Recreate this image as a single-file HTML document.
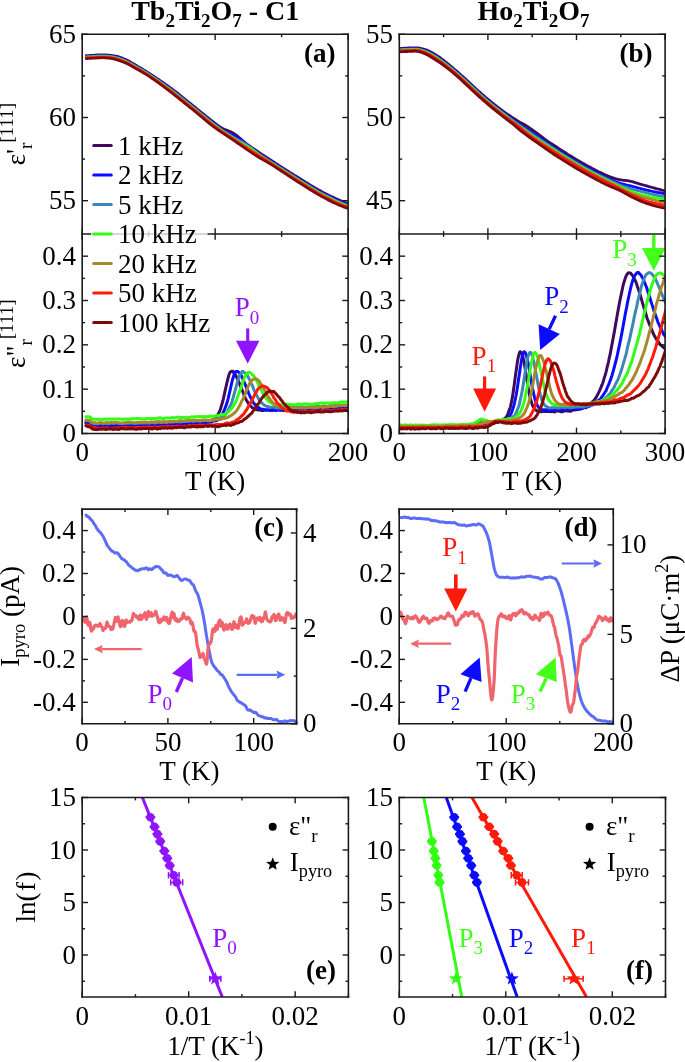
<!DOCTYPE html>
<html><head><meta charset="utf-8"><style>
html,body{margin:0;padding:0;background:#fff;width:685px;height:1062px;overflow:hidden;}
svg{display:block;will-change:transform;}
text{font-family:"Liberation Serif", serif;}
</style></head><body>
<svg width="685" height="1062" viewBox="0 0 685 1062" font-family='"Liberation Serif", serif'>
<rect width="685" height="1062" fill="#fff"/>
<defs>
<clipPath id="cA1"><rect x="82.2" y="34.3" width="265.9" height="199.7"/></clipPath>
<clipPath id="cA2"><rect x="82.2" y="234.0" width="265.9" height="199.5"/></clipPath>
<clipPath id="cB1"><rect x="399.3" y="34.3" width="265.8" height="199.7"/></clipPath>
<clipPath id="cB2"><rect x="399.3" y="234.0" width="265.8" height="199.5"/></clipPath>
<clipPath id="cC"><rect x="82.1" y="509.1" width="214.5" height="214.7"/></clipPath>
<clipPath id="cD"><rect x="399.2" y="509.1" width="214.1" height="214.7"/></clipPath>
<clipPath id="cE"><rect x="82.2" y="797.5" width="266.2" height="199.5"/></clipPath>
<clipPath id="cF"><rect x="399.3" y="797.5" width="266.2" height="199.5"/></clipPath>
</defs>
<polyline points="86.2,55.6 87.2,55.6 88.2,55.5 89.2,55.5 90.2,55.4 91.2,55.3 92.2,55.3 93.2,55.2 94.2,55.1 95.2,55.0 96.2,55.0 97.2,54.9 98.2,54.9 99.2,54.8 100.2,54.8 101.2,54.7 102.2,54.7 103.2,54.7 104.2,54.8 105.2,54.8 106.2,54.9 107.2,55.0 108.2,55.0 109.2,55.1 110.2,55.2 111.2,55.3 112.2,55.5 113.2,55.6 114.2,55.7 115.2,55.9 116.2,56.1 117.2,56.3 118.2,56.6 119.2,56.9 120.2,57.3 121.2,57.6 122.2,58.0 123.2,58.4 124.2,58.9 125.2,59.3 126.2,59.7 127.2,60.2 128.2,60.7 129.2,61.2 130.2,61.8 131.2,62.4 132.2,63.0 133.2,63.5 134.2,64.1 135.2,64.7 136.2,65.3 137.2,65.9 138.2,66.5 139.2,67.1 140.2,67.7 141.2,68.2 142.2,68.8 143.2,69.5 144.2,70.1 145.2,70.7 146.2,71.3 147.2,72.0 148.2,72.6 149.2,73.2 150.2,73.9 151.2,74.5 152.2,75.2 153.2,75.8 154.2,76.5 155.2,77.2 156.2,77.8 157.2,78.5 158.2,79.2 159.2,79.8 160.2,80.5 161.2,81.2 162.2,81.9 163.2,82.6 164.2,83.3 165.2,84.0 166.2,84.7 167.2,85.4 168.2,86.1 169.2,86.8 170.2,87.5 171.2,88.2 172.2,89.0 173.2,89.7 174.2,90.5 175.2,91.2 176.2,92.0 177.2,92.8 178.2,93.6 179.2,94.4 180.2,95.2 181.2,96.1 182.2,96.9 183.2,97.7 184.2,98.5 185.2,99.3 186.2,100.1 187.2,100.9 188.2,101.7 189.2,102.5 190.2,103.3 191.2,104.1 192.2,104.9 193.2,105.7 194.2,106.5 195.2,107.3 196.2,108.1 197.2,109.0 198.2,109.8 199.2,110.6 200.2,111.4 201.2,112.2 202.2,113.0 203.2,113.8 204.2,114.6 205.2,115.4 206.2,116.2 207.2,117.0 208.2,117.8 209.2,118.6 210.2,119.4 211.2,120.2 212.2,121.0 213.2,121.8 214.2,122.6 215.2,123.4 216.2,124.1 217.2,124.9 218.2,125.6 219.2,126.3 220.2,126.9 221.2,127.5 222.2,128.1 223.2,128.6 224.2,129.1 225.2,129.5 226.2,129.9 227.2,130.3 228.2,130.7 229.2,131.1 230.2,131.5 231.2,132.0 232.2,132.5 233.2,133.0 234.2,133.6 235.2,134.3 236.2,135.0 237.2,135.8 238.2,136.6 239.2,137.5 240.2,138.3 241.2,139.2 242.2,140.1 243.2,141.0 244.2,141.8 245.2,142.6 246.2,143.4 247.2,144.2 248.2,144.9 249.2,145.6 250.2,146.4 251.2,147.0 252.2,147.7 253.2,148.4 254.2,149.1 255.2,149.7 256.2,150.4 257.2,151.1 258.2,151.7 259.2,152.4 260.2,153.0 261.2,153.7 262.2,154.4 263.2,155.0 264.2,155.7 265.2,156.3 266.2,157.0 267.2,157.6 268.2,158.3 269.2,159.0 270.2,159.6 271.2,160.3 272.2,160.9 273.2,161.6 274.2,162.2 275.2,162.9 276.2,163.5 277.2,164.2 278.2,164.8 279.2,165.5 280.2,166.1 281.2,166.8 282.2,167.4 283.2,168.0 284.2,168.7 285.2,169.3 286.2,169.9 287.2,170.6 288.2,171.2 289.2,171.8 290.2,172.5 291.2,173.1 292.2,173.7 293.2,174.3 294.2,175.0 295.2,175.6 296.2,176.2 297.2,176.8 298.2,177.4 299.2,178.1 300.2,178.7 301.2,179.3 302.2,179.9 303.2,180.5 304.2,181.2 305.2,181.8 306.2,182.4 307.2,183.0 308.2,183.6 309.2,184.3 310.2,184.9 311.2,185.5 312.2,186.1 313.2,186.7 314.2,187.3 315.2,187.9 316.2,188.5 317.2,189.0 318.2,189.6 319.2,190.2 320.2,190.7 321.2,191.2 322.2,191.8 323.2,192.3 324.2,192.8 325.2,193.3 326.2,193.8 327.2,194.3 328.2,194.8 329.2,195.3 330.2,195.8 331.2,196.3 332.2,196.8 333.2,197.2 334.2,197.7 335.2,198.2 336.2,198.6 337.2,199.1 338.2,199.5 339.2,200.0 340.2,200.4 341.2,200.8 342.2,201.3 343.2,201.7 344.2,202.1 345.2,202.5 346.2,202.9 347.2,203.2 348.2,203.5 349.2,203.8" fill="none" stroke="#3d0a5c" stroke-width="2.6" stroke-linejoin="round" stroke-linecap="round" clip-path="url(#cA1)"/>
<polyline points="86.2,56.3 87.2,56.3 88.2,56.2 89.2,56.2 90.2,56.1 91.2,56.0 92.2,56.0 93.2,55.9 94.2,55.8 95.2,55.8 96.2,55.7 97.2,55.6 98.2,55.6 99.2,55.5 100.2,55.5 101.2,55.5 102.2,55.5 103.2,55.5 104.2,55.5 105.2,55.5 106.2,55.6 107.2,55.7 108.2,55.8 109.2,55.9 110.2,56.0 111.2,56.1 112.2,56.2 113.2,56.3 114.2,56.5 115.2,56.7 116.2,56.9 117.2,57.2 118.2,57.5 119.2,57.8 120.2,58.1 121.2,58.5 122.2,58.9 123.2,59.3 124.2,59.7 125.2,60.1 126.2,60.6 127.2,61.0 128.2,61.5 129.2,62.1 130.2,62.6 131.2,63.2 132.2,63.8 133.2,64.4 134.2,65.0 135.2,65.5 136.2,66.1 137.2,66.7 138.2,67.3 139.2,67.8 140.2,68.4 141.2,69.0 142.2,69.6 143.2,70.2 144.2,70.8 145.2,71.4 146.2,72.1 147.2,72.7 148.2,73.4 149.2,74.0 150.2,74.6 151.2,75.3 152.2,76.0 153.2,76.6 154.2,77.3 155.2,78.0 156.2,78.6 157.2,79.3 158.2,80.0 159.2,80.7 160.2,81.4 161.2,82.1 162.2,82.8 163.2,83.5 164.2,84.2 165.2,84.9 166.2,85.6 167.2,86.3 168.2,87.0 169.2,87.8 170.2,88.5 171.2,89.2 172.2,90.0 173.2,90.7 174.2,91.5 175.2,92.3 176.2,93.0 177.2,93.8 178.2,94.6 179.2,95.4 180.2,96.3 181.2,97.1 182.2,97.9 183.2,98.7 184.2,99.5 185.2,100.3 186.2,101.1 187.2,101.9 188.2,102.7 189.2,103.5 190.2,104.3 191.2,105.1 192.2,105.9 193.2,106.7 194.2,107.6 195.2,108.4 196.2,109.2 197.2,110.0 198.2,110.8 199.2,111.6 200.2,112.4 201.2,113.2 202.2,114.0 203.2,114.8 204.2,115.7 205.2,116.5 206.2,117.3 207.2,118.1 208.2,118.9 209.2,119.7 210.2,120.5 211.2,121.3 212.2,122.1 213.2,122.9 214.2,123.7 215.2,124.5 216.2,125.2 217.2,126.0 218.2,126.7 219.2,127.4 220.2,128.2 221.2,128.8 222.2,129.5 223.2,130.2 224.2,130.8 225.2,131.4 226.2,132.0 227.2,132.5 228.2,133.1 229.2,133.6 230.2,134.1 231.2,134.6 232.2,135.0 233.2,135.5 234.2,135.9 235.2,136.4 236.2,136.9 237.2,137.4 238.2,137.9 239.2,138.5 240.2,139.1 241.2,139.8 242.2,140.5 243.2,141.3 244.2,142.1 245.2,143.0 246.2,143.8 247.2,144.6 248.2,145.5 249.2,146.3 250.2,147.1 251.2,147.9 252.2,148.7 253.2,149.4 254.2,150.2 255.2,150.9 256.2,151.6 257.2,152.3 258.2,152.9 259.2,153.6 260.2,154.3 261.2,154.9 262.2,155.6 263.2,156.2 264.2,156.9 265.2,157.5 266.2,158.2 267.2,158.8 268.2,159.4 269.2,160.1 270.2,160.7 271.2,161.4 272.2,162.0 273.2,162.7 274.2,163.3 275.2,163.9 276.2,164.6 277.2,165.2 278.2,165.9 279.2,166.5 280.2,167.1 281.2,167.8 282.2,168.4 283.2,169.1 284.2,169.7 285.2,170.3 286.2,171.0 287.2,171.6 288.2,172.2 289.2,172.9 290.2,173.5 291.2,174.1 292.2,174.8 293.2,175.4 294.2,176.0 295.2,176.7 296.2,177.3 297.2,177.9 298.2,178.5 299.2,179.2 300.2,179.8 301.2,180.4 302.2,181.0 303.2,181.6 304.2,182.3 305.2,182.9 306.2,183.5 307.2,184.1 308.2,184.8 309.2,185.4 310.2,186.0 311.2,186.6 312.2,187.2 313.2,187.8 314.2,188.4 315.2,189.0 316.2,189.6 317.2,190.2 318.2,190.7 319.2,191.3 320.2,191.9 321.2,192.4 322.2,192.9 323.2,193.5 324.2,194.0 325.2,194.5 326.2,195.0 327.2,195.5 328.2,196.0 329.2,196.5 330.2,197.0 331.2,197.5 332.2,198.0 333.2,198.4 334.2,198.9 335.2,199.4 336.2,199.8 337.2,200.3 338.2,200.7 339.2,201.2 340.2,201.6 341.2,202.0 342.2,202.5 343.2,202.9 344.2,203.3 345.2,203.7 346.2,204.0 347.2,204.4 348.2,204.7 349.2,204.9" fill="none" stroke="#0b0bff" stroke-width="2.6" stroke-linejoin="round" stroke-linecap="round" clip-path="url(#cA1)"/>
<polyline points="86.2,56.7 87.2,56.7 88.2,56.6 89.2,56.6 90.2,56.5 91.2,56.5 92.2,56.4 93.2,56.3 94.2,56.3 95.2,56.2 96.2,56.1 97.2,56.1 98.2,56.0 99.2,56.0 100.2,55.9 101.2,55.9 102.2,55.9 103.2,55.9 104.2,55.9 105.2,56.0 106.2,56.0 107.2,56.1 108.2,56.2 109.2,56.3 110.2,56.4 111.2,56.5 112.2,56.7 113.2,56.8 114.2,57.0 115.2,57.2 116.2,57.4 117.2,57.7 118.2,58.0 119.2,58.3 120.2,58.7 121.2,59.0 122.2,59.4 123.2,59.8 124.2,60.2 125.2,60.6 126.2,61.1 127.2,61.6 128.2,62.0 129.2,62.6 130.2,63.1 131.2,63.7 132.2,64.3 133.2,64.9 134.2,65.5 135.2,66.0 136.2,66.6 137.2,67.2 138.2,67.8 139.2,68.3 140.2,68.9 141.2,69.5 142.2,70.1 143.2,70.7 144.2,71.3 145.2,71.9 146.2,72.5 147.2,73.2 148.2,73.8 149.2,74.5 150.2,75.1 151.2,75.8 152.2,76.4 153.2,77.1 154.2,77.8 155.2,78.4 156.2,79.1 157.2,79.8 158.2,80.5 159.2,81.2 160.2,81.9 161.2,82.6 162.2,83.3 163.2,84.0 164.2,84.7 165.2,85.4 166.2,86.2 167.2,86.9 168.2,87.6 169.2,88.3 170.2,89.1 171.2,89.8 172.2,90.6 173.2,91.3 174.2,92.1 175.2,92.9 176.2,93.7 177.2,94.5 178.2,95.3 179.2,96.1 180.2,96.9 181.2,97.7 182.2,98.5 183.2,99.3 184.2,100.1 185.2,100.9 186.2,101.7 187.2,102.5 188.2,103.3 189.2,104.1 190.2,104.9 191.2,105.7 192.2,106.6 193.2,107.4 194.2,108.2 195.2,109.0 196.2,109.8 197.2,110.6 198.2,111.4 199.2,112.2 200.2,113.1 201.2,113.9 202.2,114.7 203.2,115.5 204.2,116.3 205.2,117.1 206.2,117.9 207.2,118.8 208.2,119.6 209.2,120.4 210.2,121.2 211.2,122.0 212.2,122.8 213.2,123.6 214.2,124.4 215.2,125.1 216.2,125.9 217.2,126.6 218.2,127.3 219.2,128.1 220.2,128.8 221.2,129.5 222.2,130.2 223.2,130.8 224.2,131.5 225.2,132.1 226.2,132.8 227.2,133.4 228.2,134.0 229.2,134.6 230.2,135.3 231.2,135.9 232.2,136.5 233.2,137.1 234.2,137.6 235.2,138.2 236.2,138.7 237.2,139.3 238.2,139.8 239.2,140.3 240.2,140.8 241.2,141.3 242.2,141.9 243.2,142.4 244.2,143.0 245.2,143.6 246.2,144.3 247.2,145.0 248.2,145.7 249.2,146.5 250.2,147.2 251.2,148.0 252.2,148.8 253.2,149.6 254.2,150.4 255.2,151.2 256.2,152.0 257.2,152.7 258.2,153.5 259.2,154.2 260.2,154.9 261.2,155.6 262.2,156.3 263.2,156.9 264.2,157.6 265.2,158.2 266.2,158.9 267.2,159.5 268.2,160.1 269.2,160.8 270.2,161.4 271.2,162.0 272.2,162.7 273.2,163.3 274.2,163.9 275.2,164.6 276.2,165.2 277.2,165.9 278.2,166.5 279.2,167.1 280.2,167.8 281.2,168.4 282.2,169.0 283.2,169.7 284.2,170.3 285.2,170.9 286.2,171.6 287.2,172.2 288.2,172.9 289.2,173.5 290.2,174.1 291.2,174.8 292.2,175.4 293.2,176.1 294.2,176.7 295.2,177.3 296.2,177.9 297.2,178.6 298.2,179.2 299.2,179.8 300.2,180.5 301.2,181.1 302.2,181.7 303.2,182.3 304.2,182.9 305.2,183.6 306.2,184.2 307.2,184.8 308.2,185.4 309.2,186.1 310.2,186.7 311.2,187.3 312.2,187.9 313.2,188.5 314.2,189.1 315.2,189.7 316.2,190.3 317.2,190.9 318.2,191.4 319.2,192.0 320.2,192.6 321.2,193.1 322.2,193.6 323.2,194.2 324.2,194.7 325.2,195.2 326.2,195.7 327.2,196.2 328.2,196.7 329.2,197.2 330.2,197.7 331.2,198.2 332.2,198.7 333.2,199.2 334.2,199.7 335.2,200.1 336.2,200.6 337.2,201.0 338.2,201.5 339.2,201.9 340.2,202.3 341.2,202.8 342.2,203.2 343.2,203.6 344.2,204.0 345.2,204.4 346.2,204.7 347.2,205.1 348.2,205.3 349.2,205.6" fill="none" stroke="#3b87b6" stroke-width="2.6" stroke-linejoin="round" stroke-linecap="round" clip-path="url(#cA1)"/>
<polyline points="86.2,57.2 87.2,57.1 88.2,57.1 89.2,57.0 90.2,57.0 91.2,56.9 92.2,56.9 93.2,56.8 94.2,56.7 95.2,56.7 96.2,56.6 97.2,56.5 98.2,56.5 99.2,56.4 100.2,56.4 101.2,56.4 102.2,56.4 103.2,56.4 104.2,56.4 105.2,56.4 106.2,56.5 107.2,56.6 108.2,56.7 109.2,56.8 110.2,56.9 111.2,57.0 112.2,57.1 113.2,57.3 114.2,57.5 115.2,57.7 116.2,58.0 117.2,58.2 118.2,58.5 119.2,58.9 120.2,59.2 121.2,59.6 122.2,60.0 123.2,60.4 124.2,60.8 125.2,61.2 126.2,61.6 127.2,62.1 128.2,62.6 129.2,63.1 130.2,63.7 131.2,64.2 132.2,64.8 133.2,65.4 134.2,66.0 135.2,66.6 136.2,67.1 137.2,67.7 138.2,68.3 139.2,68.8 140.2,69.4 141.2,70.0 142.2,70.6 143.2,71.2 144.2,71.8 145.2,72.4 146.2,73.0 147.2,73.7 148.2,74.3 149.2,75.0 150.2,75.6 151.2,76.3 152.2,76.9 153.2,77.6 154.2,78.3 155.2,79.0 156.2,79.7 157.2,80.3 158.2,81.0 159.2,81.7 160.2,82.5 161.2,83.2 162.2,83.9 163.2,84.6 164.2,85.3 165.2,86.0 166.2,86.8 167.2,87.5 168.2,88.2 169.2,89.0 170.2,89.7 171.2,90.5 172.2,91.2 173.2,92.0 174.2,92.8 175.2,93.5 176.2,94.3 177.2,95.1 178.2,95.9 179.2,96.7 180.2,97.5 181.2,98.4 182.2,99.2 183.2,100.0 184.2,100.8 185.2,101.6 186.2,102.4 187.2,103.2 188.2,104.0 189.2,104.8 190.2,105.6 191.2,106.4 192.2,107.2 193.2,108.0 194.2,108.8 195.2,109.6 196.2,110.5 197.2,111.3 198.2,112.1 199.2,112.9 200.2,113.7 201.2,114.6 202.2,115.4 203.2,116.2 204.2,117.0 205.2,117.8 206.2,118.7 207.2,119.5 208.2,120.3 209.2,121.1 210.2,121.9 211.2,122.7 212.2,123.5 213.2,124.3 214.2,125.1 215.2,125.8 216.2,126.6 217.2,127.3 218.2,128.0 219.2,128.7 220.2,129.4 221.2,130.1 222.2,130.8 223.2,131.5 224.2,132.1 225.2,132.8 226.2,133.4 227.2,134.1 228.2,134.7 229.2,135.3 230.2,136.0 231.2,136.6 232.2,137.3 233.2,137.9 234.2,138.6 235.2,139.2 236.2,139.9 237.2,140.5 238.2,141.1 239.2,141.7 240.2,142.4 241.2,143.0 242.2,143.6 243.2,144.1 244.2,144.7 245.2,145.3 246.2,145.9 247.2,146.4 248.2,147.0 249.2,147.6 250.2,148.2 251.2,148.8 252.2,149.5 253.2,150.2 254.2,150.9 255.2,151.6 256.2,152.4 257.2,153.1 258.2,153.9 259.2,154.6 260.2,155.4 261.2,156.1 262.2,156.8 263.2,157.5 264.2,158.2 265.2,158.9 266.2,159.5 267.2,160.2 268.2,160.8 269.2,161.5 270.2,162.1 271.2,162.7 272.2,163.4 273.2,164.0 274.2,164.6 275.2,165.3 276.2,165.9 277.2,166.5 278.2,167.2 279.2,167.8 280.2,168.4 281.2,169.1 282.2,169.7 283.2,170.3 284.2,171.0 285.2,171.6 286.2,172.2 287.2,172.9 288.2,173.5 289.2,174.2 290.2,174.8 291.2,175.5 292.2,176.1 293.2,176.7 294.2,177.4 295.2,178.0 296.2,178.7 297.2,179.3 298.2,179.9 299.2,180.5 300.2,181.2 301.2,181.8 302.2,182.4 303.2,183.0 304.2,183.7 305.2,184.3 306.2,184.9 307.2,185.6 308.2,186.2 309.2,186.8 310.2,187.4 311.2,188.0 312.2,188.7 313.2,189.3 314.2,189.9 315.2,190.5 316.2,191.0 317.2,191.6 318.2,192.2 319.2,192.7 320.2,193.3 321.2,193.8 322.2,194.4 323.2,194.9 324.2,195.4 325.2,196.0 326.2,196.5 327.2,197.0 328.2,197.5 329.2,198.0 330.2,198.5 331.2,199.0 332.2,199.5 333.2,200.0 334.2,200.4 335.2,200.9 336.2,201.4 337.2,201.8 338.2,202.3 339.2,202.7 340.2,203.1 341.2,203.5 342.2,204.0 343.2,204.3 344.2,204.7 345.2,205.1 346.2,205.5 347.2,205.8 348.2,206.1 349.2,206.3" fill="none" stroke="#33ff14" stroke-width="2.6" stroke-linejoin="round" stroke-linecap="round" clip-path="url(#cA1)"/>
<polyline points="86.2,57.5 87.2,57.5 88.2,57.5 89.2,57.4 90.2,57.3 91.2,57.3 92.2,57.2 93.2,57.2 94.2,57.1 95.2,57.0 96.2,57.0 97.2,56.9 98.2,56.9 99.2,56.8 100.2,56.8 101.2,56.7 102.2,56.7 103.2,56.7 104.2,56.8 105.2,56.8 106.2,56.9 107.2,56.9 108.2,57.0 109.2,57.1 110.2,57.3 111.2,57.4 112.2,57.5 113.2,57.7 114.2,57.9 115.2,58.1 116.2,58.4 117.2,58.7 118.2,59.0 119.2,59.3 120.2,59.7 121.2,60.0 122.2,60.4 123.2,60.8 124.2,61.2 125.2,61.6 126.2,62.1 127.2,62.5 128.2,63.0 129.2,63.5 130.2,64.1 131.2,64.7 132.2,65.3 133.2,65.8 134.2,66.4 135.2,67.0 136.2,67.6 137.2,68.1 138.2,68.7 139.2,69.2 140.2,69.8 141.2,70.4 142.2,71.0 143.2,71.6 144.2,72.2 145.2,72.8 146.2,73.4 147.2,74.1 148.2,74.7 149.2,75.4 150.2,76.0 151.2,76.7 152.2,77.3 153.2,78.0 154.2,78.7 155.2,79.4 156.2,80.1 157.2,80.8 158.2,81.5 159.2,82.2 160.2,82.9 161.2,83.6 162.2,84.3 163.2,85.1 164.2,85.8 165.2,86.5 166.2,87.3 167.2,88.0 168.2,88.7 169.2,89.5 170.2,90.2 171.2,91.0 172.2,91.7 173.2,92.5 174.2,93.3 175.2,94.1 176.2,94.9 177.2,95.7 178.2,96.5 179.2,97.3 180.2,98.1 181.2,98.9 182.2,99.7 183.2,100.5 184.2,101.3 185.2,102.1 186.2,102.9 187.2,103.7 188.2,104.5 189.2,105.3 190.2,106.1 191.2,106.9 192.2,107.7 193.2,108.5 194.2,109.4 195.2,110.2 196.2,111.0 197.2,111.8 198.2,112.6 199.2,113.5 200.2,114.3 201.2,115.1 202.2,115.9 203.2,116.8 204.2,117.6 205.2,118.4 206.2,119.2 207.2,120.0 208.2,120.9 209.2,121.7 210.2,122.5 211.2,123.3 212.2,124.1 213.2,124.9 214.2,125.6 215.2,126.4 216.2,127.1 217.2,127.8 218.2,128.6 219.2,129.3 220.2,129.9 221.2,130.6 222.2,131.3 223.2,132.0 224.2,132.6 225.2,133.3 226.2,133.9 227.2,134.6 228.2,135.2 229.2,135.9 230.2,136.5 231.2,137.2 232.2,137.8 233.2,138.5 234.2,139.2 235.2,139.8 236.2,140.5 237.2,141.2 238.2,141.8 239.2,142.5 240.2,143.2 241.2,143.8 242.2,144.5 243.2,145.1 244.2,145.8 245.2,146.4 246.2,147.1 247.2,147.7 248.2,148.3 249.2,148.9 250.2,149.5 251.2,150.1 252.2,150.7 253.2,151.3 254.2,151.9 255.2,152.5 256.2,153.1 257.2,153.8 258.2,154.4 259.2,155.1 260.2,155.7 261.2,156.4 262.2,157.1 263.2,157.8 264.2,158.5 265.2,159.2 266.2,159.9 267.2,160.6 268.2,161.3 269.2,161.9 270.2,162.6 271.2,163.2 272.2,163.9 273.2,164.5 274.2,165.2 275.2,165.8 276.2,166.4 277.2,167.1 278.2,167.7 279.2,168.3 280.2,168.9 281.2,169.6 282.2,170.2 283.2,170.9 284.2,171.5 285.2,172.1 286.2,172.8 287.2,173.4 288.2,174.1 289.2,174.7 290.2,175.4 291.2,176.0 292.2,176.7 293.2,177.3 294.2,177.9 295.2,178.6 296.2,179.2 297.2,179.9 298.2,180.5 299.2,181.1 300.2,181.7 301.2,182.4 302.2,183.0 303.2,183.6 304.2,184.3 305.2,184.9 306.2,185.5 307.2,186.1 308.2,186.8 309.2,187.4 310.2,188.0 311.2,188.6 312.2,189.2 313.2,189.8 314.2,190.5 315.2,191.0 316.2,191.6 317.2,192.2 318.2,192.8 319.2,193.3 320.2,193.9 321.2,194.4 322.2,195.0 323.2,195.5 324.2,196.1 325.2,196.6 326.2,197.1 327.2,197.6 328.2,198.1 329.2,198.6 330.2,199.1 331.2,199.6 332.2,200.1 333.2,200.6 334.2,201.1 335.2,201.5 336.2,202.0 337.2,202.4 338.2,202.9 339.2,203.3 340.2,203.7 341.2,204.2 342.2,204.6 343.2,205.0 344.2,205.3 345.2,205.7 346.2,206.1 347.2,206.4 348.2,206.7 349.2,206.9" fill="none" stroke="#a8892a" stroke-width="2.6" stroke-linejoin="round" stroke-linecap="round" clip-path="url(#cA1)"/>
<polyline points="86.2,57.9 87.2,57.9 88.2,57.8 89.2,57.8 90.2,57.7 91.2,57.7 92.2,57.6 93.2,57.5 94.2,57.5 95.2,57.4 96.2,57.3 97.2,57.3 98.2,57.2 99.2,57.2 100.2,57.1 101.2,57.1 102.2,57.1 103.2,57.1 104.2,57.1 105.2,57.2 106.2,57.2 107.2,57.3 108.2,57.4 109.2,57.5 110.2,57.6 111.2,57.8 112.2,57.9 113.2,58.1 114.2,58.3 115.2,58.5 116.2,58.8 117.2,59.1 118.2,59.4 119.2,59.8 120.2,60.1 121.2,60.5 122.2,60.9 123.2,61.2 124.2,61.7 125.2,62.1 126.2,62.5 127.2,63.0 128.2,63.5 129.2,64.0 130.2,64.5 131.2,65.1 132.2,65.7 133.2,66.3 134.2,66.8 135.2,67.4 136.2,68.0 137.2,68.5 138.2,69.1 139.2,69.7 140.2,70.2 141.2,70.8 142.2,71.4 143.2,72.0 144.2,72.6 145.2,73.2 146.2,73.8 147.2,74.5 148.2,75.1 149.2,75.8 150.2,76.4 151.2,77.1 152.2,77.7 153.2,78.4 154.2,79.1 155.2,79.8 156.2,80.5 157.2,81.2 158.2,81.9 159.2,82.6 160.2,83.3 161.2,84.1 162.2,84.8 163.2,85.5 164.2,86.3 165.2,87.0 166.2,87.7 167.2,88.5 168.2,89.2 169.2,90.0 170.2,90.7 171.2,91.5 172.2,92.3 173.2,93.0 174.2,93.8 175.2,94.6 176.2,95.4 177.2,96.2 178.2,97.0 179.2,97.8 180.2,98.6 181.2,99.4 182.2,100.2 183.2,101.0 184.2,101.8 185.2,102.6 186.2,103.4 187.2,104.2 188.2,105.0 189.2,105.9 190.2,106.7 191.2,107.5 192.2,108.3 193.2,109.1 194.2,109.9 195.2,110.7 196.2,111.5 197.2,112.4 198.2,113.2 199.2,114.0 200.2,114.8 201.2,115.7 202.2,116.5 203.2,117.3 204.2,118.1 205.2,119.0 206.2,119.8 207.2,120.6 208.2,121.4 209.2,122.2 210.2,123.1 211.2,123.9 212.2,124.6 213.2,125.4 214.2,126.2 215.2,126.9 216.2,127.7 217.2,128.4 218.2,129.1 219.2,129.8 220.2,130.5 221.2,131.1 222.2,131.8 223.2,132.5 224.2,133.1 225.2,133.8 226.2,134.4 227.2,135.1 228.2,135.7 229.2,136.4 230.2,137.1 231.2,137.7 232.2,138.4 233.2,139.0 234.2,139.7 235.2,140.4 236.2,141.1 237.2,141.7 238.2,142.4 239.2,143.1 240.2,143.8 241.2,144.4 242.2,145.1 243.2,145.8 244.2,146.5 245.2,147.2 246.2,147.8 247.2,148.5 248.2,149.2 249.2,149.8 250.2,150.5 251.2,151.1 252.2,151.8 253.2,152.4 254.2,153.0 255.2,153.7 256.2,154.3 257.2,154.9 258.2,155.5 259.2,156.0 260.2,156.6 261.2,157.2 262.2,157.8 263.2,158.4 264.2,159.0 265.2,159.7 266.2,160.3 267.2,160.9 268.2,161.6 269.2,162.3 270.2,162.9 271.2,163.6 272.2,164.3 273.2,164.9 274.2,165.6 275.2,166.2 276.2,166.9 277.2,167.5 278.2,168.2 279.2,168.8 280.2,169.5 281.2,170.1 282.2,170.7 283.2,171.4 284.2,172.0 285.2,172.7 286.2,173.3 287.2,174.0 288.2,174.6 289.2,175.3 290.2,175.9 291.2,176.6 292.2,177.2 293.2,177.9 294.2,178.5 295.2,179.1 296.2,179.8 297.2,180.4 298.2,181.1 299.2,181.7 300.2,182.3 301.2,182.9 302.2,183.6 303.2,184.2 304.2,184.8 305.2,185.5 306.2,186.1 307.2,186.7 308.2,187.4 309.2,188.0 310.2,188.6 311.2,189.2 312.2,189.8 313.2,190.4 314.2,191.0 315.2,191.6 316.2,192.2 317.2,192.8 318.2,193.4 319.2,193.9 320.2,194.5 321.2,195.0 322.2,195.6 323.2,196.1 324.2,196.7 325.2,197.2 326.2,197.7 327.2,198.2 328.2,198.7 329.2,199.2 330.2,199.8 331.2,200.2 332.2,200.7 333.2,201.2 334.2,201.7 335.2,202.2 336.2,202.6 337.2,203.1 338.2,203.5 339.2,203.9 340.2,204.4 341.2,204.8 342.2,205.2 343.2,205.6 344.2,206.0 345.2,206.3 346.2,206.7 347.2,207.0 348.2,207.3 349.2,207.5" fill="none" stroke="#ff1a0a" stroke-width="2.6" stroke-linejoin="round" stroke-linecap="round" clip-path="url(#cA1)"/>
<polyline points="86.2,58.6 87.2,58.6 88.2,58.5 89.2,58.5 90.2,58.4 91.2,58.4 92.2,58.3 93.2,58.3 94.2,58.2 95.2,58.2 96.2,58.1 97.2,58.0 98.2,58.0 99.2,57.9 100.2,57.9 101.2,57.9 102.2,57.8 103.2,57.8 104.2,57.9 105.2,57.9 106.2,58.0 107.2,58.1 108.2,58.2 109.2,58.3 110.2,58.4 111.2,58.5 112.2,58.7 113.2,58.9 114.2,59.1 115.2,59.4 116.2,59.7 117.2,60.0 118.2,60.3 119.2,60.7 120.2,61.0 121.2,61.4 122.2,61.7 123.2,62.1 124.2,62.5 125.2,63.0 126.2,63.4 127.2,63.8 128.2,64.3 129.2,64.8 130.2,65.4 131.2,66.0 132.2,66.5 133.2,67.1 134.2,67.7 135.2,68.3 136.2,68.8 137.2,69.4 138.2,69.9 139.2,70.5 140.2,71.0 141.2,71.6 142.2,72.2 143.2,72.8 144.2,73.4 145.2,74.0 146.2,74.6 147.2,75.2 148.2,75.9 149.2,76.5 150.2,77.2 151.2,77.9 152.2,78.6 153.2,79.2 154.2,79.9 155.2,80.6 156.2,81.3 157.2,82.1 158.2,82.8 159.2,83.5 160.2,84.2 161.2,85.0 162.2,85.7 163.2,86.5 164.2,87.2 165.2,88.0 166.2,88.7 167.2,89.5 168.2,90.2 169.2,91.0 170.2,91.8 171.2,92.5 172.2,93.3 173.2,94.1 174.2,94.9 175.2,95.7 176.2,96.5 177.2,97.3 178.2,98.1 179.2,98.9 180.2,99.7 181.2,100.5 182.2,101.3 183.2,102.1 184.2,102.9 185.2,103.7 186.2,104.5 187.2,105.3 188.2,106.1 189.2,106.9 190.2,107.7 191.2,108.5 192.2,109.3 193.2,110.1 194.2,110.9 195.2,111.8 196.2,112.6 197.2,113.4 198.2,114.3 199.2,115.1 200.2,115.9 201.2,116.8 202.2,117.6 203.2,118.4 204.2,119.3 205.2,120.1 206.2,120.9 207.2,121.7 208.2,122.6 209.2,123.4 210.2,124.2 211.2,125.0 212.2,125.8 213.2,126.6 214.2,127.3 215.2,128.0 216.2,128.8 217.2,129.5 218.2,130.2 219.2,130.8 220.2,131.5 221.2,132.2 222.2,132.8 223.2,133.5 224.2,134.2 225.2,134.8 226.2,135.5 227.2,136.1 228.2,136.8 229.2,137.4 230.2,138.1 231.2,138.8 232.2,139.5 233.2,140.1 234.2,140.8 235.2,141.5 236.2,142.2 237.2,142.9 238.2,143.6 239.2,144.3 240.2,145.0 241.2,145.7 242.2,146.3 243.2,147.0 244.2,147.7 245.2,148.4 246.2,149.1 247.2,149.8 248.2,150.5 249.2,151.2 250.2,151.8 251.2,152.5 252.2,153.2 253.2,153.9 254.2,154.5 255.2,155.2 256.2,155.8 257.2,156.4 258.2,157.1 259.2,157.7 260.2,158.3 261.2,158.9 262.2,159.4 263.2,160.0 264.2,160.6 265.2,161.1 266.2,161.7 267.2,162.2 268.2,162.8 269.2,163.4 270.2,164.0 271.2,164.6 272.2,165.2 273.2,165.8 274.2,166.5 275.2,167.1 276.2,167.8 277.2,168.4 278.2,169.1 279.2,169.7 280.2,170.4 281.2,171.1 282.2,171.7 283.2,172.4 284.2,173.0 285.2,173.7 286.2,174.3 287.2,175.0 288.2,175.7 289.2,176.3 290.2,177.0 291.2,177.6 292.2,178.3 293.2,179.0 294.2,179.6 295.2,180.3 296.2,180.9 297.2,181.6 298.2,182.2 299.2,182.8 300.2,183.5 301.2,184.1 302.2,184.7 303.2,185.4 304.2,186.0 305.2,186.6 306.2,187.3 307.2,187.9 308.2,188.5 309.2,189.2 310.2,189.8 311.2,190.4 312.2,191.0 313.2,191.6 314.2,192.2 315.2,192.8 316.2,193.4 317.2,194.0 318.2,194.6 319.2,195.1 320.2,195.7 321.2,196.3 322.2,196.8 323.2,197.3 324.2,197.9 325.2,198.4 326.2,198.9 327.2,199.5 328.2,200.0 329.2,200.5 330.2,201.0 331.2,201.5 332.2,202.0 333.2,202.5 334.2,203.0 335.2,203.4 336.2,203.9 337.2,204.3 338.2,204.8 339.2,205.2 340.2,205.6 341.2,206.0 342.2,206.4 343.2,206.8 344.2,207.2 345.2,207.5 346.2,207.9 347.2,208.2 348.2,208.4 349.2,208.6" fill="none" stroke="#7c0a0a" stroke-width="2.6" stroke-linejoin="round" stroke-linecap="round" clip-path="url(#cA1)"/>
<polyline points="86.0,423.1 86.6,422.7 87.2,422.6 87.8,422.7 88.4,422.7 89.0,422.7 89.6,422.8 90.2,423.3 90.8,424.3 91.4,425.3 92.0,425.6 92.6,425.6 93.2,425.5 93.8,425.4 94.4,425.4 95.0,425.5 95.6,425.7 96.2,425.8 96.8,425.8 97.4,425.8 98.0,425.9 98.6,426.0 99.2,425.9 99.8,425.7 100.4,425.7 101.0,425.9 101.6,426.0 102.2,425.8 102.8,425.7 103.4,425.7 104.0,425.6 104.6,425.6 105.2,425.8 105.8,425.9 106.4,425.8 107.0,425.5 107.6,425.3 108.2,425.4 108.8,425.3 109.4,425.3 110.0,425.5 110.6,425.6 111.2,425.5 111.8,425.4 112.4,425.5 113.0,425.7 113.6,425.9 114.2,425.9 114.8,425.8 115.4,425.8 116.0,425.6 116.6,425.5 117.2,425.6 117.8,425.6 118.4,425.5 119.0,425.3 119.6,425.2 120.2,425.1 120.8,425.4 121.4,425.4 122.0,425.2 122.6,425.2 123.2,425.3 123.8,425.2 124.4,425.1 125.0,425.2 125.6,425.5 126.2,425.4 126.8,425.1 127.4,425.1 128.0,425.3 128.6,425.4 129.2,425.5 129.8,425.3 130.4,425.2 131.0,425.3 131.6,425.5 132.2,425.4 132.8,425.1 133.4,425.2 134.0,425.5 134.6,425.7 135.2,425.7 135.8,425.6 136.4,425.4 137.0,425.1 137.6,425.0 138.2,425.1 138.8,425.2 139.4,425.0 140.0,424.9 140.6,425.1 141.2,425.2 141.8,425.1 142.4,424.8 143.0,424.7 143.6,425.0 144.2,425.4 144.8,425.4 145.4,425.2 146.0,425.1 146.6,425.1 147.2,425.1 147.8,425.1 148.4,425.0 149.0,425.0 149.6,425.1 150.2,425.2 150.8,425.4 151.4,425.7 152.0,425.6 152.6,425.2 153.2,424.7 153.8,424.6 154.4,424.7 155.0,424.7 155.6,424.7 156.2,424.9 156.8,424.9 157.4,424.6 158.0,424.4 158.6,424.5 159.2,424.8 159.8,425.1 160.4,425.2 161.0,425.0 161.6,424.9 162.2,425.0 162.8,425.1 163.4,425.1 164.0,424.8 164.6,424.5 165.2,424.4 165.8,424.5 166.4,424.7 167.0,424.7 167.6,424.5 168.2,424.4 168.8,424.3 169.4,424.2 170.0,424.2 170.6,424.5 171.2,424.7 171.8,424.4 172.4,424.0 173.0,423.8 173.6,423.9 174.2,424.2 174.8,424.3 175.4,424.2 176.0,424.2 176.6,424.1 177.2,423.9 177.8,423.7 178.4,423.7 179.0,423.8 179.6,423.7 180.2,423.6 180.8,423.6 181.4,423.7 182.0,423.8 182.6,423.8 183.2,423.8 183.8,423.9 184.4,424.0 185.0,423.8 185.6,423.5 186.2,423.5 186.8,423.6 187.4,423.7 188.0,423.8 188.6,423.9 189.2,423.9 189.8,423.8 190.4,423.7 191.0,423.5 191.6,423.4 192.2,423.5 192.8,423.6 193.4,423.8 194.0,423.9 194.6,423.8 195.2,423.4 195.8,423.2 196.4,423.2 197.0,423.2 197.6,423.1 198.2,423.1 198.8,423.2 199.4,423.2 200.0,423.1 200.6,423.0 201.2,422.7 201.8,422.5 202.4,422.4 203.0,422.5 203.6,422.7 204.2,422.8 204.8,422.8 205.4,422.9 206.0,422.8 206.6,422.6 207.2,422.3 207.8,422.0 208.4,421.7 209.0,421.7 209.6,421.5 210.2,421.5 210.8,421.5 211.4,421.3 212.0,420.8 212.6,420.4 213.2,420.0 213.8,419.6 214.4,419.2 215.0,418.7 215.6,418.0 216.2,417.3 216.8,416.4 217.4,415.4 218.0,414.2 218.6,413.2 219.2,412.1 219.8,411.0 220.4,409.3 221.0,407.3 221.6,405.3 222.2,403.3 222.8,401.0 223.4,398.6 224.0,395.9 224.6,393.1 225.2,390.4 225.8,387.8 226.4,385.0 227.0,382.3 227.6,380.0 228.2,377.6 228.8,375.4 229.4,373.6 230.0,372.4 230.6,371.7 231.2,371.5 231.8,371.3 232.4,371.2 233.0,371.6 233.6,372.4 234.2,373.3 234.8,373.9 235.4,374.7 236.0,375.8 236.6,377.1 237.2,378.5 237.8,379.7 238.4,381.0 239.0,382.4 239.6,383.8 240.2,385.4 240.8,387.0 241.4,388.5 242.0,389.8 242.6,391.2 243.2,392.7 243.8,394.4 244.4,396.0 245.0,397.3 245.6,398.6 246.2,399.7 246.8,400.7 247.4,401.7 248.0,402.7 248.6,403.5 249.2,404.4 249.8,405.2 250.4,405.8 251.0,406.3 251.6,407.0 252.2,407.6 252.8,407.9 253.4,408.1 254.0,408.5 254.6,408.7 255.2,408.8 255.8,409.2 256.4,409.6 257.0,409.7 257.6,410.0 258.2,410.0 258.8,409.9 259.4,409.8 260.0,409.8 260.6,410.1 261.2,410.4 261.8,410.4 262.4,410.5 263.0,410.6 263.6,410.5 264.2,410.2 264.8,409.9 265.4,410.0 266.0,410.1 266.6,410.0 267.2,410.0 267.8,410.1 268.4,410.0 269.0,409.9 269.6,410.1 270.2,410.3 270.8,410.4 271.4,410.6 272.0,410.6 272.6,410.3 273.2,409.9 273.8,409.9 274.4,410.2 275.0,410.4 275.6,410.4 276.2,410.3 276.8,410.2 277.4,410.1 278.0,410.0 278.6,409.9 279.2,409.7 279.8,409.6 280.4,409.7 281.0,409.7 281.6,409.9 282.2,410.1 282.8,410.5 283.4,410.7 284.0,410.5 284.6,410.2 285.2,410.2 285.8,410.1 286.4,410.0 287.0,410.0 287.6,409.6 288.2,409.4 288.8,409.7 289.4,410.0 290.0,410.1 290.6,409.9 291.2,409.8 291.8,409.9 292.4,409.9 293.0,410.0 293.6,410.1 294.2,410.0 294.8,409.9 295.4,409.9 296.0,409.9 296.6,409.8 297.2,409.9 297.8,410.2 298.4,410.2 299.0,409.9 299.6,409.6 300.2,409.7 300.8,409.7 301.4,409.7 302.0,409.8 302.6,409.8 303.2,409.5 303.8,409.2 304.4,409.0 305.0,409.3 305.6,409.6 306.2,409.4 306.8,409.2 307.4,409.2 308.0,409.4 308.6,409.4 309.2,409.3 309.8,409.4 310.4,409.5 311.0,409.5 311.6,409.5 312.2,409.6 312.8,409.5 313.4,409.2 314.0,409.1 314.6,409.2 315.2,409.3 315.8,409.3 316.4,409.4 317.0,409.4 317.6,409.5 318.2,409.3 318.8,408.9 319.4,408.7 320.0,408.9 320.6,409.0 321.2,409.0 321.8,408.9 322.4,408.7 323.0,408.6 323.6,408.7 324.2,408.8 324.8,408.7 325.4,408.5 326.0,408.3 326.6,408.6 327.2,408.8 327.8,408.7 328.4,408.6 329.0,408.8 329.6,408.9 330.2,408.8 330.8,408.8 331.4,408.7 332.0,408.6 332.6,408.4 333.2,408.3 333.8,408.4 334.4,408.5 335.0,408.3 335.6,408.0 336.2,408.1 336.8,408.1 337.4,408.1 338.0,408.1 338.6,408.1 339.2,408.0 339.8,407.8 340.4,407.8 341.0,408.0 341.6,408.0 342.2,407.8 342.8,407.7 343.4,407.7 344.0,407.6 344.6,407.2 345.2,407.1 345.8,407.1 346.4,407.1 347.0,407.1 347.6,407.2 348.2,407.2 348.8,407.1 349.4,407.3" fill="none" stroke="#3d0a5c" stroke-width="3.0" stroke-linejoin="round" stroke-linecap="round" clip-path="url(#cA2)"/>
<polyline points="86.0,422.1 86.6,422.3 87.2,422.3 87.8,422.4 88.4,422.6 89.0,422.7 89.6,422.8 90.2,423.3 90.8,424.0 91.4,424.6 92.0,425.2 92.6,425.5 93.2,425.4 93.8,425.3 94.4,425.5 95.0,425.8 95.6,425.9 96.2,425.9 96.8,425.7 97.4,425.6 98.0,425.6 98.6,425.6 99.2,425.7 99.8,425.6 100.4,425.4 101.0,425.4 101.6,425.7 102.2,426.0 102.8,426.1 103.4,425.7 104.0,425.3 104.6,425.1 105.2,425.2 105.8,425.3 106.4,425.3 107.0,425.3 107.6,425.2 108.2,425.2 108.8,425.3 109.4,425.3 110.0,425.5 110.6,425.5 111.2,425.1 111.8,425.1 112.4,425.3 113.0,425.3 113.6,425.1 114.2,425.2 114.8,425.3 115.4,425.4 116.0,425.6 116.6,425.7 117.2,425.9 117.8,425.9 118.4,425.8 119.0,425.8 119.6,425.7 120.2,425.5 120.8,425.3 121.4,425.4 122.0,425.5 122.6,425.6 123.2,425.5 123.8,425.5 124.4,425.5 125.0,425.6 125.6,425.4 126.2,425.2 126.8,425.2 127.4,425.2 128.0,425.2 128.6,425.3 129.2,425.4 129.8,425.5 130.4,425.3 131.0,425.1 131.6,425.1 132.2,425.1 132.8,424.9 133.4,424.9 134.0,425.0 134.6,425.1 135.2,425.0 135.8,424.9 136.4,424.9 137.0,425.2 137.6,425.4 138.2,425.3 138.8,425.1 139.4,425.0 140.0,424.8 140.6,424.8 141.2,424.9 141.8,424.9 142.4,424.9 143.0,424.9 143.6,425.2 144.2,425.3 144.8,425.1 145.4,425.0 146.0,425.0 146.6,424.9 147.2,424.8 147.8,425.0 148.4,425.0 149.0,425.0 149.6,424.9 150.2,424.8 150.8,424.8 151.4,424.8 152.0,424.6 152.6,424.5 153.2,424.4 153.8,424.5 154.4,424.8 155.0,424.9 155.6,424.9 156.2,424.8 156.8,424.6 157.4,424.7 158.0,424.9 158.6,424.6 159.2,423.9 159.8,423.6 160.4,424.0 161.0,424.4 161.6,424.5 162.2,424.4 162.8,424.4 163.4,424.4 164.0,424.4 164.6,424.6 165.2,424.5 165.8,424.4 166.4,424.3 167.0,424.3 167.6,424.4 168.2,424.7 168.8,424.6 169.4,424.1 170.0,423.7 170.6,423.9 171.2,424.2 171.8,424.4 172.4,424.2 173.0,424.0 173.6,423.9 174.2,424.0 174.8,424.0 175.4,424.0 176.0,424.0 176.6,424.1 177.2,424.1 177.8,424.1 178.4,423.9 179.0,423.7 179.6,423.7 180.2,423.8 180.8,423.8 181.4,423.8 182.0,423.6 182.6,423.4 183.2,423.3 183.8,423.4 184.4,423.5 185.0,423.5 185.6,423.6 186.2,423.5 186.8,423.3 187.4,423.1 188.0,423.3 188.6,423.3 189.2,423.2 189.8,423.5 190.4,423.7 191.0,423.6 191.6,423.6 192.2,423.8 192.8,423.5 193.4,423.1 194.0,423.0 194.6,422.9 195.2,422.7 195.8,422.6 196.4,422.8 197.0,422.9 197.6,422.9 198.2,423.0 198.8,423.0 199.4,422.8 200.0,422.8 200.6,422.9 201.2,423.1 201.8,423.0 202.4,423.0 203.0,422.8 203.6,422.8 204.2,422.8 204.8,422.7 205.4,422.6 206.0,422.5 206.6,422.3 207.2,422.1 207.8,422.2 208.4,422.4 209.0,422.3 209.6,422.1 210.2,422.0 210.8,421.8 211.4,421.5 212.0,421.3 212.6,421.3 213.2,421.2 213.8,421.0 214.4,420.9 215.0,420.8 215.6,420.7 216.2,420.7 216.8,420.5 217.4,420.0 218.0,419.3 218.6,418.5 219.2,417.8 219.8,417.2 220.4,416.5 221.0,416.0 221.6,415.6 222.2,414.8 222.8,413.6 223.4,412.2 224.0,410.8 224.6,409.4 225.2,407.9 225.8,406.3 226.4,404.6 227.0,402.8 227.6,400.7 228.2,398.3 228.8,395.6 229.4,393.0 230.0,390.6 230.6,388.0 231.2,385.2 231.8,382.5 232.4,380.0 233.0,378.0 233.6,376.2 234.2,374.4 234.8,372.8 235.4,371.8 236.0,371.4 236.6,371.4 237.2,371.5 237.8,371.5 238.4,371.9 239.0,372.6 239.6,373.3 240.2,374.0 240.8,374.8 241.4,375.7 242.0,377.0 242.6,378.5 243.2,380.0 243.8,381.5 244.4,382.7 245.0,383.9 245.6,385.5 246.2,387.2 246.8,388.6 247.4,389.9 248.0,391.4 248.6,393.1 249.2,394.6 249.8,395.8 250.4,397.0 251.0,398.2 251.6,399.2 252.2,400.5 252.8,401.9 253.4,402.7 254.0,403.4 254.6,404.1 255.2,404.9 255.8,405.5 256.4,406.1 257.0,406.6 257.6,407.0 258.2,407.4 258.8,407.7 259.4,408.0 260.0,408.4 260.6,408.8 261.2,409.1 261.8,409.3 262.4,409.3 263.0,409.3 263.6,409.4 264.2,409.6 264.8,409.8 265.4,409.9 266.0,409.9 266.6,409.9 267.2,409.9 267.8,409.9 268.4,409.9 269.0,410.1 269.6,410.2 270.2,410.0 270.8,409.8 271.4,409.6 272.0,409.6 272.6,409.6 273.2,409.7 273.8,409.9 274.4,410.2 275.0,410.3 275.6,410.3 276.2,410.2 276.8,410.0 277.4,409.8 278.0,409.6 278.6,409.6 279.2,409.9 279.8,410.2 280.4,410.2 281.0,410.1 281.6,410.1 282.2,409.9 282.8,409.6 283.4,409.5 284.0,409.6 284.6,409.9 285.2,410.1 285.8,409.9 286.4,409.6 287.0,409.5 287.6,409.5 288.2,409.5 288.8,409.7 289.4,409.9 290.0,409.9 290.6,409.7 291.2,409.4 291.8,409.4 292.4,409.8 293.0,409.8 293.6,409.6 294.2,409.6 294.8,409.7 295.4,409.7 296.0,409.7 296.6,409.6 297.2,409.6 297.8,409.5 298.4,409.3 299.0,408.8 299.6,408.6 300.2,408.8 300.8,409.1 301.4,409.4 302.0,409.6 302.6,409.5 303.2,409.4 303.8,409.5 304.4,409.5 305.0,409.5 305.6,409.5 306.2,409.6 306.8,409.6 307.4,409.5 308.0,409.4 308.6,409.2 309.2,409.0 309.8,408.9 310.4,408.9 311.0,409.0 311.6,408.9 312.2,408.9 312.8,409.0 313.4,409.3 314.0,409.5 314.6,409.4 315.2,409.4 315.8,409.4 316.4,409.4 317.0,409.0 317.6,408.8 318.2,408.9 318.8,408.7 319.4,408.5 320.0,408.3 320.6,408.3 321.2,408.4 321.8,408.6 322.4,408.8 323.0,408.6 323.6,408.2 324.2,408.0 324.8,408.0 325.4,408.0 326.0,408.1 326.6,408.2 327.2,408.1 327.8,408.2 328.4,408.5 329.0,408.7 329.6,408.7 330.2,408.4 330.8,408.3 331.4,408.1 332.0,408.0 332.6,407.9 333.2,407.9 333.8,407.7 334.4,407.6 335.0,407.8 335.6,407.7 336.2,407.6 336.8,407.5 337.4,407.7 338.0,407.6 338.6,407.5 339.2,407.6 339.8,407.7 340.4,407.8 341.0,407.5 341.6,407.1 342.2,406.9 342.8,407.3 343.4,407.5 344.0,407.5 344.6,407.4 345.2,407.1 345.8,407.0 346.4,407.1 347.0,407.2 347.6,407.1 348.2,406.9 348.8,406.8 349.4,406.8" fill="none" stroke="#0b0bff" stroke-width="3.0" stroke-linejoin="round" stroke-linecap="round" clip-path="url(#cA2)"/>
<polyline points="86.0,420.7 86.6,420.5 87.2,420.4 87.8,420.5 88.4,420.8 89.0,420.7 89.6,420.7 90.2,420.9 90.8,421.7 91.4,422.4 92.0,422.7 92.6,423.0 93.2,423.5 93.8,423.7 94.4,423.6 95.0,423.7 95.6,423.7 96.2,423.7 96.8,423.7 97.4,423.8 98.0,423.8 98.6,423.6 99.2,423.4 99.8,423.3 100.4,423.1 101.0,423.0 101.6,423.2 102.2,423.3 102.8,423.3 103.4,423.4 104.0,423.5 104.6,423.4 105.2,423.2 105.8,423.4 106.4,423.4 107.0,423.4 107.6,423.6 108.2,423.8 108.8,423.7 109.4,423.4 110.0,423.3 110.6,423.1 111.2,422.8 111.8,422.5 112.4,422.8 113.0,423.2 113.6,423.5 114.2,423.3 114.8,423.1 115.4,423.0 116.0,423.1 116.6,423.1 117.2,423.1 117.8,423.2 118.4,423.3 119.0,423.3 119.6,423.4 120.2,423.6 120.8,423.6 121.4,423.4 122.0,423.6 122.6,423.6 123.2,423.4 123.8,423.2 124.4,423.2 125.0,423.3 125.6,423.3 126.2,423.4 126.8,423.2 127.4,423.0 128.0,423.1 128.6,423.3 129.2,423.3 129.8,423.1 130.4,423.0 131.0,422.9 131.6,422.7 132.2,422.9 132.8,423.1 133.4,423.1 134.0,423.0 134.6,423.1 135.2,423.3 135.8,423.4 136.4,423.2 137.0,423.0 137.6,423.1 138.2,423.3 138.8,423.2 139.4,423.1 140.0,423.1 140.6,423.1 141.2,423.1 141.8,422.9 142.4,422.8 143.0,422.8 143.6,422.9 144.2,422.8 144.8,422.9 145.4,423.0 146.0,422.9 146.6,422.7 147.2,422.7 147.8,422.9 148.4,423.0 149.0,423.0 149.6,422.8 150.2,422.5 150.8,422.5 151.4,422.6 152.0,422.6 152.6,422.6 153.2,422.7 153.8,422.9 154.4,422.8 155.0,422.8 155.6,422.9 156.2,422.8 156.8,422.4 157.4,422.0 158.0,422.1 158.6,422.3 159.2,422.2 159.8,422.0 160.4,422.0 161.0,422.4 161.6,422.5 162.2,422.3 162.8,422.2 163.4,422.1 164.0,422.1 164.6,422.1 165.2,422.3 165.8,422.5 166.4,422.5 167.0,422.3 167.6,422.1 168.2,422.1 168.8,421.9 169.4,421.9 170.0,422.1 170.6,422.1 171.2,422.0 171.8,422.0 172.4,421.9 173.0,422.0 173.6,422.0 174.2,421.9 174.8,421.8 175.4,421.5 176.0,421.3 176.6,421.4 177.2,421.6 177.8,421.8 178.4,421.7 179.0,421.6 179.6,421.7 180.2,422.0 180.8,422.0 181.4,421.8 182.0,421.6 182.6,421.5 183.2,421.5 183.8,421.5 184.4,421.4 185.0,421.3 185.6,421.0 186.2,420.7 186.8,420.8 187.4,421.1 188.0,421.5 188.6,421.4 189.2,421.0 189.8,420.9 190.4,421.1 191.0,421.1 191.6,421.0 192.2,421.2 192.8,421.3 193.4,421.4 194.0,421.3 194.6,421.2 195.2,421.0 195.8,420.8 196.4,420.7 197.0,420.8 197.6,420.8 198.2,420.6 198.8,420.5 199.4,420.9 200.0,421.2 200.6,421.2 201.2,420.9 201.8,420.5 202.4,420.3 203.0,420.4 203.6,420.3 204.2,420.2 204.8,420.3 205.4,420.4 206.0,420.4 206.6,420.5 207.2,420.7 207.8,420.7 208.4,420.7 209.0,420.7 209.6,420.5 210.2,420.4 210.8,420.3 211.4,420.3 212.0,420.1 212.6,419.9 213.2,419.9 213.8,419.9 214.4,419.9 215.0,419.9 215.6,419.7 216.2,419.6 216.8,419.5 217.4,419.2 218.0,418.7 218.6,418.5 219.2,418.6 219.8,418.3 220.4,417.6 221.0,417.3 221.6,417.2 222.2,416.9 222.8,416.7 223.4,416.3 224.0,415.7 224.6,415.1 225.2,414.7 225.8,414.1 226.4,413.3 227.0,412.5 227.6,411.6 228.2,410.4 228.8,408.9 229.4,407.5 230.0,406.2 230.6,405.1 231.2,403.8 231.8,402.2 232.4,400.3 233.0,398.2 233.6,395.9 234.2,393.8 234.8,391.8 235.4,389.7 236.0,387.4 236.6,385.0 237.2,382.8 237.8,380.8 238.4,379.0 239.0,377.2 239.6,375.8 240.2,374.5 240.8,373.5 241.4,372.6 242.0,371.6 242.6,371.3 243.2,371.7 243.8,372.3 244.4,372.6 245.0,372.9 245.6,373.3 246.2,373.8 246.8,374.4 247.4,375.4 248.0,376.6 248.6,377.8 249.2,379.1 249.8,380.1 250.4,381.4 251.0,382.9 251.6,384.1 252.2,385.2 252.8,386.6 253.4,388.3 254.0,390.0 254.6,391.4 255.2,392.5 255.8,393.7 256.4,394.9 257.0,396.0 257.6,396.9 258.2,398.0 258.8,399.2 259.4,400.2 260.0,401.1 260.6,401.9 261.2,402.6 261.8,402.9 262.4,403.4 263.0,404.2 263.6,404.7 264.2,405.1 264.8,405.4 265.4,405.7 266.0,406.1 266.6,406.3 267.2,406.5 267.8,406.5 268.4,406.6 269.0,406.9 269.6,407.1 270.2,407.3 270.8,407.3 271.4,407.3 272.0,407.3 272.6,407.2 273.2,407.1 273.8,407.1 274.4,407.2 275.0,407.5 275.6,407.7 276.2,407.9 276.8,408.1 277.4,408.2 278.0,408.1 278.6,408.0 279.2,408.1 279.8,408.0 280.4,407.8 281.0,407.8 281.6,407.9 282.2,407.9 282.8,407.9 283.4,407.8 284.0,407.7 284.6,407.6 285.2,407.6 285.8,407.5 286.4,407.5 287.0,407.4 287.6,407.6 288.2,407.8 288.8,407.7 289.4,407.6 290.0,407.5 290.6,407.3 291.2,407.2 291.8,407.3 292.4,407.4 293.0,407.5 293.6,407.4 294.2,407.3 294.8,407.1 295.4,407.1 296.0,407.3 296.6,407.4 297.2,407.1 297.8,406.9 298.4,407.1 299.0,407.1 299.6,406.9 300.2,406.8 300.8,407.0 301.4,407.1 302.0,407.2 302.6,407.2 303.2,407.4 303.8,407.3 304.4,407.2 305.0,407.2 305.6,407.4 306.2,407.6 306.8,407.4 307.4,407.0 308.0,406.8 308.6,406.8 309.2,406.9 309.8,406.9 310.4,407.0 311.0,407.1 311.6,407.0 312.2,406.9 312.8,406.7 313.4,406.4 314.0,406.4 314.6,406.7 315.2,406.7 315.8,406.7 316.4,406.6 317.0,406.5 317.6,406.3 318.2,406.1 318.8,406.1 319.4,406.3 320.0,406.3 320.6,406.4 321.2,406.6 321.8,406.6 322.4,406.3 323.0,406.1 323.6,406.1 324.2,406.1 324.8,406.2 325.4,406.3 326.0,406.3 326.6,406.4 327.2,406.5 327.8,406.6 328.4,406.3 329.0,405.9 329.6,405.8 330.2,405.6 330.8,405.5 331.4,405.7 332.0,405.7 332.6,405.7 333.2,405.8 333.8,405.6 334.4,405.5 335.0,405.7 335.6,405.8 336.2,405.6 336.8,405.2 337.4,405.2 338.0,405.5 338.6,405.8 339.2,405.8 339.8,405.7 340.4,405.6 341.0,405.4 341.6,405.3 342.2,405.2 342.8,405.0 343.4,405.0 344.0,405.0 344.6,405.0 345.2,405.1 345.8,405.2 346.4,405.1 347.0,404.9 347.6,404.9 348.2,405.1 348.8,404.9 349.4,404.6" fill="none" stroke="#3b87b6" stroke-width="3.0" stroke-linejoin="round" stroke-linecap="round" clip-path="url(#cA2)"/>
<polyline points="86.0,416.7 86.6,416.8 87.2,416.7 87.8,416.9 88.4,417.0 89.0,416.9 89.6,416.7 90.2,417.0 90.8,417.7 91.4,418.5 92.0,418.9 92.6,418.9 93.2,419.0 93.8,419.2 94.4,419.4 95.0,419.3 95.6,419.3 96.2,419.3 96.8,419.4 97.4,419.5 98.0,419.4 98.6,419.3 99.2,419.3 99.8,419.2 100.4,419.1 101.0,419.3 101.6,419.5 102.2,419.5 102.8,419.4 103.4,419.3 104.0,419.2 104.6,419.1 105.2,419.2 105.8,419.3 106.4,419.2 107.0,419.0 107.6,418.9 108.2,418.9 108.8,419.1 109.4,419.2 110.0,419.1 110.6,419.0 111.2,419.1 111.8,419.3 112.4,419.3 113.0,419.1 113.6,419.2 114.2,419.1 114.8,419.1 115.4,419.1 116.0,419.1 116.6,419.0 117.2,419.0 117.8,419.1 118.4,419.1 119.0,419.0 119.6,418.9 120.2,419.0 120.8,419.2 121.4,419.4 122.0,419.4 122.6,419.3 123.2,419.1 123.8,418.9 124.4,418.9 125.0,419.0 125.6,419.1 126.2,419.2 126.8,419.1 127.4,419.2 128.0,419.4 128.6,419.3 129.2,419.2 129.8,419.1 130.4,419.0 131.0,418.9 131.6,418.7 132.2,418.6 132.8,418.8 133.4,418.7 134.0,418.7 134.6,418.8 135.2,418.8 135.8,418.6 136.4,418.6 137.0,418.5 137.6,418.4 138.2,418.4 138.8,418.5 139.4,418.7 140.0,418.9 140.6,418.9 141.2,418.9 141.8,418.8 142.4,418.6 143.0,418.8 143.6,419.0 144.2,418.9 144.8,418.8 145.4,418.7 146.0,418.8 146.6,418.7 147.2,418.7 147.8,418.5 148.4,418.4 149.0,418.4 149.6,418.7 150.2,418.8 150.8,418.8 151.4,418.6 152.0,418.5 152.6,418.6 153.2,418.5 153.8,418.4 154.4,418.6 155.0,418.8 155.6,418.7 156.2,418.3 156.8,418.2 157.4,418.2 158.0,418.0 158.6,417.9 159.2,417.9 159.8,417.8 160.4,417.8 161.0,418.1 161.6,418.4 162.2,418.5 162.8,418.4 163.4,418.4 164.0,418.5 164.6,418.5 165.2,418.2 165.8,418.0 166.4,417.9 167.0,417.9 167.6,418.0 168.2,417.9 168.8,417.9 169.4,418.0 170.0,418.2 170.6,418.2 171.2,418.0 171.8,417.7 172.4,417.5 173.0,417.6 173.6,417.8 174.2,418.0 174.8,417.9 175.4,417.7 176.0,417.5 176.6,417.5 177.2,417.3 177.8,417.0 178.4,417.0 179.0,417.2 179.6,417.4 180.2,417.6 180.8,417.5 181.4,417.3 182.0,417.4 182.6,417.5 183.2,417.4 183.8,417.5 184.4,417.6 185.0,417.6 185.6,417.5 186.2,417.3 186.8,417.3 187.4,417.3 188.0,417.4 188.6,417.4 189.2,417.5 189.8,417.3 190.4,417.1 191.0,417.0 191.6,417.0 192.2,417.0 192.8,417.1 193.4,417.0 194.0,416.8 194.6,416.8 195.2,416.9 195.8,416.8 196.4,416.8 197.0,416.9 197.6,416.7 198.2,416.4 198.8,416.5 199.4,416.8 200.0,416.9 200.6,416.8 201.2,416.8 201.8,416.6 202.4,416.5 203.0,416.6 203.6,416.7 204.2,416.8 204.8,416.8 205.4,416.7 206.0,416.7 206.6,416.5 207.2,416.5 207.8,416.7 208.4,416.7 209.0,416.5 209.6,416.3 210.2,416.2 210.8,416.2 211.4,416.2 212.0,416.2 212.6,416.2 213.2,416.3 213.8,416.4 214.4,416.3 215.0,416.2 215.6,416.0 216.2,415.6 216.8,415.6 217.4,415.9 218.0,416.0 218.6,415.7 219.2,415.4 219.8,415.0 220.4,414.8 221.0,414.8 221.6,414.7 222.2,414.7 222.8,414.6 223.4,414.6 224.0,414.7 224.6,414.4 225.2,413.9 225.8,413.4 226.4,412.9 227.0,412.5 227.6,412.3 228.2,412.0 228.8,411.4 229.4,410.8 230.0,410.1 230.6,409.4 231.2,408.9 231.8,408.3 232.4,407.5 233.0,406.6 233.6,405.6 234.2,404.5 234.8,403.6 235.4,402.6 236.0,401.4 236.6,399.8 237.2,398.0 237.8,396.2 238.4,394.6 239.0,392.9 239.6,391.5 240.2,390.1 240.8,388.4 241.4,386.5 242.0,384.6 242.6,382.7 243.2,381.0 243.8,379.3 244.4,377.8 245.0,376.7 245.6,375.6 246.2,374.5 246.8,373.5 247.4,372.9 248.0,372.5 248.6,372.3 249.2,372.3 249.8,372.4 250.4,372.8 251.0,373.4 251.6,374.0 252.2,374.5 252.8,375.0 253.4,375.4 254.0,376.2 254.6,377.5 255.2,378.9 255.8,379.8 256.4,380.5 257.0,381.5 257.6,382.9 258.2,384.2 258.8,385.5 259.4,386.8 260.0,387.9 260.6,389.0 261.2,390.0 261.8,391.1 262.4,392.4 263.0,393.5 263.6,394.4 264.2,395.5 264.8,396.6 265.4,397.4 266.0,398.2 266.6,398.8 267.2,399.6 267.8,400.5 268.4,401.2 269.0,401.7 269.6,402.0 270.2,402.2 270.8,402.6 271.4,403.1 272.0,403.4 272.6,403.7 273.2,404.0 273.8,404.4 274.4,404.4 275.0,404.3 275.6,404.4 276.2,404.5 276.8,404.5 277.4,404.5 278.0,404.4 278.6,404.3 279.2,404.2 279.8,404.4 280.4,404.6 281.0,404.9 281.6,404.9 282.2,404.7 282.8,404.4 283.4,404.3 284.0,404.5 284.6,404.7 285.2,404.9 285.8,404.9 286.4,404.7 287.0,404.3 287.6,404.2 288.2,404.4 288.8,404.5 289.4,404.4 290.0,404.4 290.6,404.4 291.2,404.6 291.8,404.9 292.4,405.0 293.0,404.9 293.6,404.8 294.2,404.8 294.8,404.8 295.4,404.9 296.0,404.7 296.6,404.5 297.2,404.3 297.8,404.0 298.4,403.7 299.0,403.9 299.6,404.5 300.2,404.6 300.8,404.4 301.4,404.3 302.0,404.3 302.6,404.3 303.2,404.3 303.8,404.0 304.4,403.7 305.0,403.7 305.6,404.1 306.2,404.4 306.8,404.3 307.4,404.1 308.0,404.1 308.6,404.1 309.2,404.3 309.8,404.7 310.4,404.7 311.0,404.5 311.6,404.2 312.2,404.2 312.8,404.3 313.4,404.2 314.0,404.0 314.6,403.9 315.2,403.7 315.8,403.8 316.4,403.9 317.0,403.7 317.6,403.6 318.2,403.6 318.8,403.4 319.4,403.2 320.0,403.1 320.6,403.0 321.2,403.0 321.8,403.0 322.4,403.1 323.0,403.2 323.6,403.0 324.2,403.0 324.8,403.2 325.4,403.2 326.0,403.0 326.6,402.9 327.2,403.0 327.8,402.9 328.4,402.9 329.0,402.9 329.6,403.0 330.2,402.9 330.8,403.0 331.4,403.0 332.0,403.0 332.6,403.0 333.2,402.8 333.8,402.6 334.4,402.7 335.0,402.7 335.6,402.7 336.2,402.9 336.8,403.0 337.4,402.9 338.0,402.7 338.6,402.6 339.2,402.6 339.8,402.4 340.4,402.1 341.0,402.1 341.6,402.2 342.2,402.2 342.8,401.9 343.4,402.0 344.0,402.2 344.6,402.1 345.2,401.9 345.8,401.9 346.4,401.9 347.0,401.8 347.6,401.7 348.2,401.5 348.8,401.5 349.4,401.6" fill="none" stroke="#33ff14" stroke-width="3.0" stroke-linejoin="round" stroke-linecap="round" clip-path="url(#cA2)"/>
<polyline points="86.0,420.0 86.6,420.0 87.2,420.2 87.8,420.4 88.4,420.5 89.0,420.5 89.6,420.7 90.2,421.1 90.8,421.7 91.4,422.3 92.0,422.6 92.6,422.6 93.2,422.7 93.8,422.7 94.4,422.8 95.0,422.8 95.6,422.9 96.2,423.2 96.8,423.2 97.4,423.2 98.0,423.1 98.6,422.8 99.2,422.6 99.8,422.7 100.4,422.7 101.0,422.6 101.6,422.7 102.2,423.2 102.8,423.5 103.4,423.3 104.0,422.9 104.6,422.9 105.2,423.0 105.8,422.9 106.4,422.6 107.0,422.5 107.6,422.5 108.2,422.8 108.8,423.2 109.4,423.0 110.0,422.6 110.6,422.5 111.2,422.7 111.8,422.8 112.4,422.9 113.0,422.8 113.6,422.8 114.2,422.7 114.8,422.5 115.4,422.3 116.0,422.3 116.6,422.5 117.2,422.7 117.8,422.8 118.4,422.8 119.0,422.8 119.6,422.9 120.2,423.2 120.8,423.3 121.4,423.1 122.0,423.0 122.6,423.1 123.2,423.0 123.8,422.8 124.4,422.6 125.0,422.5 125.6,422.5 126.2,422.8 126.8,422.8 127.4,422.6 128.0,422.6 128.6,422.6 129.2,422.5 129.8,422.4 130.4,422.3 131.0,422.2 131.6,422.4 132.2,422.8 132.8,423.0 133.4,422.9 134.0,422.7 134.6,422.8 135.2,423.0 135.8,423.0 136.4,422.7 137.0,422.4 137.6,422.2 138.2,422.3 138.8,422.4 139.4,422.5 140.0,422.5 140.6,422.3 141.2,422.3 141.8,422.5 142.4,422.7 143.0,422.6 143.6,422.3 144.2,422.2 144.8,422.3 145.4,422.3 146.0,422.3 146.6,422.3 147.2,422.3 147.8,422.2 148.4,422.3 149.0,422.7 149.6,422.8 150.2,422.5 150.8,422.1 151.4,421.9 152.0,421.8 152.6,421.9 153.2,422.1 153.8,422.4 154.4,422.3 155.0,422.0 155.6,421.8 156.2,421.9 156.8,422.0 157.4,421.8 158.0,421.8 158.6,421.6 159.2,421.6 159.8,421.7 160.4,422.0 161.0,422.3 161.6,422.3 162.2,421.9 162.8,421.8 163.4,421.9 164.0,421.9 164.6,421.7 165.2,421.6 165.8,421.9 166.4,422.0 167.0,421.9 167.6,421.7 168.2,421.7 168.8,421.6 169.4,421.6 170.0,421.7 170.6,421.7 171.2,421.6 171.8,421.6 172.4,421.7 173.0,421.6 173.6,421.5 174.2,421.5 174.8,421.5 175.4,421.5 176.0,421.6 176.6,421.7 177.2,421.5 177.8,421.1 178.4,420.9 179.0,420.9 179.6,420.7 180.2,420.6 180.8,420.7 181.4,420.8 182.0,421.0 182.6,421.0 183.2,421.1 183.8,421.0 184.4,421.0 185.0,421.1 185.6,421.1 186.2,420.9 186.8,420.5 187.4,420.3 188.0,420.3 188.6,420.3 189.2,420.5 189.8,420.7 190.4,420.6 191.0,420.4 191.6,420.3 192.2,420.4 192.8,420.3 193.4,420.3 194.0,420.3 194.6,420.3 195.2,420.4 195.8,420.5 196.4,420.7 197.0,420.7 197.6,420.5 198.2,420.5 198.8,420.6 199.4,420.8 200.0,420.7 200.6,420.6 201.2,420.5 201.8,420.4 202.4,420.2 203.0,420.1 203.6,420.2 204.2,420.3 204.8,420.2 205.4,420.0 206.0,419.9 206.6,420.1 207.2,420.4 207.8,420.3 208.4,420.1 209.0,420.3 209.6,420.7 210.2,420.6 210.8,420.1 211.4,419.8 212.0,419.6 212.6,419.9 213.2,419.8 213.8,419.7 214.4,419.7 215.0,419.6 215.6,419.5 216.2,419.6 216.8,419.6 217.4,419.4 218.0,419.2 218.6,419.0 219.2,419.0 219.8,419.4 220.4,419.5 221.0,419.3 221.6,419.1 222.2,418.8 222.8,418.6 223.4,418.6 224.0,418.6 224.6,418.4 225.2,418.2 225.8,417.9 226.4,417.8 227.0,417.7 227.6,417.4 228.2,417.0 228.8,416.7 229.4,416.4 230.0,416.1 230.6,415.8 231.2,415.5 231.8,415.0 232.4,414.6 233.0,414.2 233.6,413.7 234.2,413.0 234.8,412.5 235.4,412.1 236.0,411.4 236.6,410.5 237.2,409.7 237.8,408.8 238.4,407.9 239.0,406.8 239.6,405.8 240.2,404.6 240.8,403.1 241.4,401.8 242.0,400.8 242.6,399.6 243.2,398.4 243.8,397.1 244.4,395.8 245.0,394.4 245.6,392.9 246.2,391.4 246.8,390.1 247.4,388.6 248.0,387.1 248.6,385.7 249.2,384.3 249.8,383.1 250.4,382.2 251.0,381.3 251.6,380.5 252.2,380.0 252.8,379.7 253.4,379.3 254.0,378.8 254.6,378.6 255.2,378.6 255.8,378.7 256.4,379.0 257.0,379.3 257.6,379.7 258.2,380.1 258.8,380.7 259.4,381.5 260.0,382.5 260.6,383.5 261.2,384.4 261.8,385.4 262.4,386.4 263.0,387.2 263.6,388.2 264.2,389.4 264.8,390.5 265.4,391.6 266.0,392.8 266.6,393.8 267.2,394.9 267.8,396.0 268.4,396.8 269.0,397.7 269.6,398.6 270.2,399.6 270.8,400.4 271.4,401.1 272.0,401.7 272.6,402.4 273.2,403.1 273.8,403.8 274.4,404.3 275.0,404.6 275.6,404.9 276.2,405.4 276.8,405.8 277.4,406.2 278.0,406.3 278.6,406.1 279.2,406.2 279.8,406.5 280.4,406.8 281.0,407.1 281.6,407.4 282.2,407.7 282.8,408.0 283.4,408.2 284.0,408.3 284.6,408.3 285.2,408.3 285.8,408.3 286.4,408.1 287.0,407.8 287.6,407.6 288.2,407.6 288.8,407.7 289.4,407.6 290.0,407.7 290.6,407.9 291.2,408.1 291.8,408.0 292.4,407.8 293.0,407.7 293.6,407.6 294.2,407.8 294.8,407.8 295.4,407.7 296.0,407.9 296.6,407.9 297.2,407.8 297.8,407.7 298.4,407.9 299.0,408.0 299.6,407.8 300.2,407.8 300.8,408.0 301.4,408.1 302.0,408.1 302.6,407.9 303.2,407.8 303.8,407.8 304.4,407.9 305.0,408.1 305.6,408.2 306.2,408.0 306.8,407.7 307.4,407.6 308.0,407.5 308.6,407.6 309.2,407.6 309.8,407.5 310.4,407.3 311.0,407.3 311.6,407.3 312.2,407.5 312.8,407.7 313.4,407.6 314.0,407.3 314.6,407.3 315.2,407.7 315.8,407.7 316.4,407.5 317.0,407.3 317.6,407.2 318.2,407.3 318.8,407.4 319.4,407.1 320.0,406.7 320.6,406.5 321.2,406.5 321.8,406.9 322.4,407.3 323.0,407.5 323.6,407.4 324.2,407.1 324.8,407.0 325.4,407.1 326.0,407.0 326.6,406.8 327.2,406.9 327.8,407.0 328.4,406.9 329.0,406.7 329.6,406.5 330.2,406.3 330.8,406.3 331.4,406.2 332.0,406.3 332.6,406.5 333.2,406.6 333.8,406.7 334.4,406.6 335.0,406.4 335.6,406.2 336.2,406.2 336.8,406.2 337.4,405.8 338.0,405.6 338.6,405.5 339.2,405.6 339.8,405.6 340.4,405.7 341.0,405.7 341.6,405.6 342.2,405.5 342.8,405.5 343.4,405.5 344.0,405.7 344.6,405.7 345.2,405.7 345.8,405.6 346.4,405.6 347.0,405.5 347.6,405.3 348.2,405.1 348.8,405.4 349.4,405.5" fill="none" stroke="#a8892a" stroke-width="3.0" stroke-linejoin="round" stroke-linecap="round" clip-path="url(#cA2)"/>
<polyline points="86.0,425.3 86.6,425.3 87.2,425.3 87.8,425.3 88.4,425.2 89.0,425.3 89.6,425.6 90.2,425.9 90.8,426.6 91.4,427.5 92.0,427.9 92.6,427.9 93.2,427.7 93.8,427.4 94.4,427.6 95.0,427.9 95.6,428.0 96.2,427.9 96.8,428.0 97.4,428.4 98.0,428.5 98.6,428.4 99.2,428.4 99.8,428.2 100.4,428.2 101.0,428.3 101.6,428.2 102.2,428.1 102.8,428.1 103.4,427.9 104.0,428.1 104.6,428.5 105.2,428.3 105.8,428.1 106.4,427.9 107.0,427.8 107.6,427.9 108.2,428.0 108.8,428.3 109.4,428.6 110.0,428.6 110.6,428.4 111.2,428.3 111.8,428.4 112.4,428.4 113.0,428.3 113.6,428.1 114.2,428.1 114.8,428.3 115.4,428.2 116.0,428.0 116.6,427.9 117.2,427.9 117.8,428.1 118.4,428.1 119.0,427.9 119.6,427.8 120.2,427.8 120.8,427.8 121.4,427.9 122.0,427.9 122.6,427.6 123.2,427.2 123.8,427.2 124.4,427.3 125.0,427.5 125.6,427.6 126.2,427.7 126.8,427.8 127.4,427.6 128.0,427.5 128.6,427.8 129.2,427.9 129.8,427.8 130.4,427.7 131.0,427.8 131.6,427.9 132.2,427.9 132.8,427.9 133.4,427.9 134.0,427.8 134.6,427.5 135.2,427.5 135.8,427.7 136.4,427.6 137.0,427.4 137.6,427.3 138.2,427.4 138.8,427.4 139.4,427.5 140.0,427.8 140.6,427.9 141.2,427.8 141.8,427.5 142.4,427.3 143.0,427.2 143.6,427.2 144.2,427.4 144.8,427.5 145.4,427.4 146.0,427.3 146.6,427.3 147.2,427.3 147.8,427.2 148.4,427.3 149.0,427.3 149.6,427.1 150.2,426.9 150.8,427.1 151.4,427.3 152.0,427.4 152.6,427.6 153.2,427.4 153.8,427.1 154.4,427.1 155.0,427.2 155.6,427.4 156.2,427.5 156.8,427.5 157.4,427.2 158.0,427.2 158.6,427.2 159.2,427.1 159.8,427.1 160.4,427.2 161.0,427.1 161.6,426.8 162.2,426.7 162.8,426.8 163.4,426.9 164.0,426.9 164.6,427.0 165.2,426.8 165.8,426.6 166.4,426.5 167.0,426.3 167.6,426.4 168.2,426.6 168.8,426.5 169.4,426.6 170.0,426.8 170.6,426.9 171.2,426.8 171.8,426.6 172.4,426.6 173.0,426.6 173.6,426.8 174.2,427.0 174.8,426.8 175.4,426.5 176.0,426.4 176.6,426.3 177.2,426.1 177.8,426.2 178.4,426.3 179.0,426.2 179.6,426.2 180.2,426.5 180.8,426.5 181.4,426.4 182.0,426.4 182.6,426.4 183.2,426.5 183.8,426.4 184.4,426.2 185.0,426.2 185.6,426.2 186.2,426.2 186.8,426.3 187.4,426.2 188.0,426.0 188.6,425.7 189.2,425.4 189.8,425.4 190.4,425.7 191.0,426.1 191.6,426.2 192.2,425.9 192.8,425.6 193.4,425.4 194.0,425.5 194.6,425.5 195.2,425.4 195.8,425.8 196.4,426.1 197.0,426.0 197.6,425.6 198.2,425.4 198.8,425.3 199.4,425.1 200.0,425.1 200.6,425.2 201.2,425.4 201.8,425.6 202.4,425.6 203.0,425.3 203.6,425.1 204.2,425.3 204.8,425.5 205.4,425.6 206.0,425.5 206.6,425.3 207.2,425.2 207.8,425.1 208.4,425.2 209.0,425.3 209.6,425.2 210.2,425.0 210.8,424.8 211.4,424.8 212.0,424.8 212.6,424.8 213.2,425.0 213.8,425.3 214.4,425.1 215.0,424.7 215.6,424.7 216.2,424.6 216.8,424.4 217.4,424.4 218.0,424.6 218.6,424.6 219.2,424.5 219.8,424.4 220.4,424.4 221.0,424.4 221.6,424.4 222.2,424.4 222.8,424.4 223.4,424.3 224.0,424.1 224.6,423.8 225.2,423.7 225.8,423.5 226.4,423.1 227.0,422.9 227.6,423.0 228.2,423.1 228.8,423.1 229.4,423.3 230.0,423.5 230.6,423.2 231.2,422.7 231.8,422.4 232.4,422.3 233.0,422.0 233.6,421.9 234.2,421.8 234.8,421.4 235.4,420.9 236.0,420.4 236.6,419.9 237.2,419.7 237.8,419.5 238.4,419.0 239.0,418.3 239.6,418.0 240.2,417.5 240.8,416.9 241.4,416.1 242.0,415.5 242.6,415.0 243.2,414.5 243.8,413.9 244.4,413.1 245.0,412.1 245.6,411.0 246.2,410.3 246.8,409.5 247.4,408.3 248.0,407.2 248.6,406.0 249.2,405.0 249.8,404.1 250.4,403.2 251.0,402.1 251.6,400.9 252.2,399.6 252.8,398.2 253.4,397.2 254.0,396.1 254.6,394.9 255.2,393.7 255.8,392.7 256.4,391.7 257.0,390.6 257.6,389.5 258.2,388.8 258.8,388.2 259.4,387.7 260.0,387.3 260.6,386.8 261.2,386.5 261.8,386.2 262.4,385.9 263.0,385.9 263.6,386.2 264.2,386.6 264.8,386.7 265.4,386.8 266.0,387.0 266.6,387.4 267.2,387.8 267.8,388.4 268.4,389.1 269.0,390.1 269.6,391.0 270.2,391.8 270.8,392.7 271.4,393.5 272.0,394.2 272.6,395.2 273.2,396.5 273.8,397.7 274.4,398.5 275.0,399.2 275.6,400.1 276.2,401.2 276.8,402.2 277.4,403.0 278.0,403.6 278.6,404.1 279.2,404.7 279.8,405.5 280.4,406.2 281.0,407.0 281.6,407.6 282.2,408.0 282.8,408.5 283.4,409.0 284.0,409.3 284.6,409.6 285.2,410.0 285.8,410.5 286.4,410.9 287.0,411.0 287.6,411.0 288.2,410.9 288.8,411.0 289.4,411.2 290.0,411.4 290.6,411.7 291.2,411.9 291.8,411.9 292.4,411.9 293.0,411.9 293.6,411.9 294.2,411.8 294.8,411.9 295.4,412.1 296.0,412.1 296.6,412.2 297.2,412.4 297.8,412.4 298.4,412.1 299.0,411.8 299.6,411.8 300.2,412.0 300.8,412.1 301.4,412.2 302.0,412.3 302.6,412.1 303.2,411.6 303.8,411.4 304.4,411.5 305.0,411.8 305.6,411.8 306.2,411.5 306.8,411.3 307.4,411.4 308.0,411.5 308.6,411.5 309.2,411.4 309.8,411.6 310.4,411.7 311.0,411.4 311.6,411.1 312.2,411.1 312.8,411.2 313.4,411.2 314.0,411.1 314.6,411.0 315.2,411.1 315.8,411.2 316.4,411.2 317.0,411.5 317.6,411.4 318.2,411.0 318.8,411.0 319.4,411.4 320.0,411.5 320.6,411.3 321.2,410.7 321.8,410.5 322.4,410.7 323.0,410.8 323.6,410.8 324.2,410.9 324.8,410.9 325.4,410.8 326.0,410.6 326.6,410.6 327.2,410.7 327.8,410.7 328.4,410.8 329.0,410.8 329.6,410.8 330.2,410.8 330.8,410.9 331.4,410.8 332.0,410.5 332.6,410.4 333.2,410.3 333.8,410.3 334.4,410.3 335.0,410.3 335.6,410.1 336.2,410.2 336.8,410.2 337.4,410.1 338.0,410.1 338.6,410.1 339.2,410.0 339.8,410.1 340.4,410.2 341.0,409.9 341.6,409.6 342.2,409.5 342.8,409.6 343.4,409.7 344.0,409.8 344.6,409.8 345.2,409.8 345.8,409.8 346.4,409.8 347.0,409.7 347.6,409.5 348.2,409.6 348.8,409.6 349.4,409.6" fill="none" stroke="#ff1a0a" stroke-width="3.0" stroke-linejoin="round" stroke-linecap="round" clip-path="url(#cA2)"/>
<polyline points="86.0,425.8 86.6,426.0 87.2,426.3 87.8,426.6 88.4,426.8 89.0,426.7 89.6,426.8 90.2,427.1 90.8,427.5 91.4,428.1 92.0,428.7 92.6,429.2 93.2,429.2 93.8,429.1 94.4,429.3 95.0,429.5 95.6,429.6 96.2,429.4 96.8,429.6 97.4,429.7 98.0,429.4 98.6,429.3 99.2,429.3 99.8,429.2 100.4,429.2 101.0,429.1 101.6,429.2 102.2,429.3 102.8,429.1 103.4,429.0 104.0,429.1 104.6,429.2 105.2,429.4 105.8,429.6 106.4,429.5 107.0,429.2 107.6,428.9 108.2,428.9 108.8,429.1 109.4,429.2 110.0,429.0 110.6,428.8 111.2,428.7 111.8,428.9 112.4,429.3 113.0,429.5 113.6,429.3 114.2,429.3 114.8,429.1 115.4,429.0 116.0,429.2 116.6,429.3 117.2,429.3 117.8,429.3 118.4,429.4 119.0,429.3 119.6,429.2 120.2,429.1 120.8,428.7 121.4,428.4 122.0,428.5 122.6,428.7 123.2,428.8 123.8,428.7 124.4,428.8 125.0,429.0 125.6,428.9 126.2,428.9 126.8,429.1 127.4,429.0 128.0,428.8 128.6,428.7 129.2,428.8 129.8,428.9 130.4,428.9 131.0,428.8 131.6,428.7 132.2,428.7 132.8,428.6 133.4,428.8 134.0,429.0 134.6,429.1 135.2,429.2 135.8,429.2 136.4,429.1 137.0,429.2 137.6,429.1 138.2,428.8 138.8,428.7 139.4,428.7 140.0,428.9 140.6,428.9 141.2,428.9 141.8,428.8 142.4,428.7 143.0,428.6 143.6,428.5 144.2,428.4 144.8,428.6 145.4,428.6 146.0,428.6 146.6,428.6 147.2,428.4 147.8,428.3 148.4,428.6 149.0,428.9 149.6,429.0 150.2,428.9 150.8,428.6 151.4,428.6 152.0,428.9 152.6,428.9 153.2,428.5 153.8,428.2 154.4,428.1 155.0,428.3 155.6,428.4 156.2,428.6 156.8,429.0 157.4,429.1 158.0,428.8 158.6,428.5 159.2,428.5 159.8,428.6 160.4,428.7 161.0,428.4 161.6,428.0 162.2,427.8 162.8,428.0 163.4,428.2 164.0,428.2 164.6,428.1 165.2,428.0 165.8,427.9 166.4,428.0 167.0,428.3 167.6,428.2 168.2,428.1 168.8,428.0 169.4,427.8 170.0,427.8 170.6,428.0 171.2,428.2 171.8,428.2 172.4,428.1 173.0,428.1 173.6,427.8 174.2,427.6 174.8,427.5 175.4,427.6 176.0,427.7 176.6,427.7 177.2,427.6 177.8,427.4 178.4,427.3 179.0,427.1 179.6,427.1 180.2,427.4 180.8,427.5 181.4,427.2 182.0,427.0 182.6,427.2 183.2,427.6 183.8,427.7 184.4,427.7 185.0,427.7 185.6,427.3 186.2,426.8 186.8,426.8 187.4,427.0 188.0,427.2 188.6,427.0 189.2,426.9 189.8,426.9 190.4,426.9 191.0,426.9 191.6,426.8 192.2,426.6 192.8,426.5 193.4,426.5 194.0,426.5 194.6,426.5 195.2,426.7 195.8,426.8 196.4,426.9 197.0,427.0 197.6,427.0 198.2,426.7 198.8,426.6 199.4,426.7 200.0,426.6 200.6,426.7 201.2,426.8 201.8,426.7 202.4,426.6 203.0,426.7 203.6,426.6 204.2,426.3 204.8,426.1 205.4,426.0 206.0,425.9 206.6,426.0 207.2,426.1 207.8,426.4 208.4,426.4 209.0,426.2 209.6,426.0 210.2,425.9 210.8,425.9 211.4,426.1 212.0,426.3 212.6,426.4 213.2,426.3 213.8,425.9 214.4,425.8 215.0,426.2 215.6,426.5 216.2,426.6 216.8,426.6 217.4,426.7 218.0,426.7 218.6,426.6 219.2,426.4 219.8,426.3 220.4,426.1 221.0,425.8 221.6,425.6 222.2,425.5 222.8,425.6 223.4,425.5 224.0,425.2 224.6,425.1 225.2,425.3 225.8,425.5 226.4,425.4 227.0,425.1 227.6,424.9 228.2,424.9 228.8,425.1 229.4,425.1 230.0,425.2 230.6,425.4 231.2,425.3 231.8,425.0 232.4,424.7 233.0,424.4 233.6,424.3 234.2,424.2 234.8,423.8 235.4,423.3 236.0,423.0 236.6,422.9 237.2,423.1 237.8,423.0 238.4,422.7 239.0,422.3 239.6,422.0 240.2,421.7 240.8,421.6 241.4,421.6 242.0,421.4 242.6,420.9 243.2,420.2 243.8,419.7 244.4,419.4 245.0,418.9 245.6,418.4 246.2,418.2 246.8,417.7 247.4,417.0 248.0,416.3 248.6,415.8 249.2,415.4 249.8,414.7 250.4,414.2 251.0,413.8 251.6,413.3 252.2,412.4 252.8,411.4 253.4,410.6 254.0,409.9 254.6,409.1 255.2,408.2 255.8,407.2 256.4,406.2 257.0,405.1 257.6,404.3 258.2,403.9 258.8,403.2 259.4,402.2 260.0,401.0 260.6,400.1 261.2,399.3 261.8,398.3 262.4,397.4 263.0,396.7 263.6,396.0 264.2,395.5 264.8,394.9 265.4,394.4 266.0,393.8 266.6,393.0 267.2,392.3 267.8,391.9 268.4,391.8 269.0,391.4 269.6,390.9 270.2,390.8 270.8,391.3 271.4,391.7 272.0,391.6 272.6,391.5 273.2,391.4 273.8,391.4 274.4,392.0 275.0,392.9 275.6,393.4 276.2,393.8 276.8,394.6 277.4,395.5 278.0,396.1 278.6,396.7 279.2,397.3 279.8,398.0 280.4,398.9 281.0,399.8 281.6,400.5 282.2,401.2 282.8,402.1 283.4,403.0 284.0,403.6 284.6,404.0 285.2,404.9 285.8,405.7 286.4,406.2 287.0,406.7 287.6,407.2 288.2,407.7 288.8,408.4 289.4,409.2 290.0,409.7 290.6,410.2 291.2,410.5 291.8,410.7 292.4,411.0 293.0,411.4 293.6,411.8 294.2,411.9 294.8,411.7 295.4,411.6 296.0,411.7 296.6,411.9 297.2,412.0 297.8,411.9 298.4,412.2 299.0,412.4 299.6,412.5 300.2,412.7 300.8,412.9 301.4,412.8 302.0,412.4 302.6,412.4 303.2,412.7 303.8,412.7 304.4,412.7 305.0,412.6 305.6,412.4 306.2,412.3 306.8,412.3 307.4,412.2 308.0,412.0 308.6,412.2 309.2,412.4 309.8,412.3 310.4,412.4 311.0,412.7 311.6,412.7 312.2,412.4 312.8,412.2 313.4,412.2 314.0,412.1 314.6,412.1 315.2,412.1 315.8,412.1 316.4,411.9 317.0,411.6 317.6,411.6 318.2,411.7 318.8,411.6 319.4,411.6 320.0,412.0 320.6,412.1 321.2,411.9 321.8,411.9 322.4,412.0 323.0,412.1 323.6,411.9 324.2,411.7 324.8,411.7 325.4,411.5 326.0,411.3 326.6,411.2 327.2,411.4 327.8,411.6 328.4,411.6 329.0,411.6 329.6,411.7 330.2,411.8 330.8,411.7 331.4,411.6 332.0,411.6 332.6,411.5 333.2,411.4 333.8,411.2 334.4,410.9 335.0,410.9 335.6,411.1 336.2,410.9 336.8,410.9 337.4,411.2 338.0,411.2 338.6,411.0 339.2,410.8 339.8,410.6 340.4,410.7 341.0,410.9 341.6,410.9 342.2,410.8 342.8,410.8 343.4,410.7 344.0,410.6 344.6,410.4 345.2,410.3 345.8,410.4 346.4,410.4 347.0,410.7 347.6,411.0 348.2,411.1 348.8,410.8 349.4,410.3" fill="none" stroke="#7c0a0a" stroke-width="3.0" stroke-linejoin="round" stroke-linecap="round" clip-path="url(#cA2)"/>
<polyline points="401.0,48.4 401.8,48.4 402.6,48.3 403.4,48.3 404.2,48.2 405.0,48.2 405.8,48.1 406.6,48.1 407.4,48.1 408.2,48.0 409.0,48.0 409.8,48.0 410.6,47.9 411.4,47.9 412.2,47.9 413.0,47.9 413.8,47.8 414.6,47.8 415.4,47.8 416.2,47.8 417.0,47.8 417.8,47.9 418.6,48.0 419.4,48.1 420.2,48.3 421.0,48.5 421.8,48.7 422.6,48.9 423.4,49.1 424.2,49.3 425.0,49.5 425.8,49.8 426.6,50.1 427.4,50.4 428.2,50.7 429.0,51.1 429.8,51.5 430.6,51.9 431.4,52.3 432.2,52.8 433.0,53.2 433.8,53.7 434.6,54.2 435.4,54.7 436.2,55.2 437.0,55.7 437.8,56.2 438.6,56.7 439.4,57.3 440.2,57.8 441.0,58.4 441.8,59.0 442.6,59.6 443.4,60.2 444.2,60.8 445.0,61.5 445.8,62.1 446.6,62.7 447.4,63.4 448.2,64.0 449.0,64.7 449.8,65.3 450.6,66.0 451.4,66.7 452.2,67.3 453.0,68.0 453.8,68.7 454.6,69.4 455.4,70.0 456.2,70.7 457.0,71.4 457.8,72.1 458.6,72.8 459.4,73.5 460.2,74.2 461.0,75.0 461.8,75.7 462.6,76.4 463.4,77.1 464.2,77.9 465.0,78.6 465.8,79.3 466.6,80.1 467.4,80.8 468.2,81.6 469.0,82.3 469.8,83.1 470.6,83.8 471.4,84.6 472.2,85.3 473.0,86.0 473.8,86.8 474.6,87.5 475.4,88.3 476.2,89.0 477.0,89.7 477.8,90.5 478.6,91.2 479.4,91.9 480.2,92.6 481.0,93.3 481.8,94.0 482.6,94.7 483.4,95.4 484.2,96.1 485.0,96.8 485.8,97.5 486.6,98.1 487.4,98.8 488.2,99.5 489.0,100.1 489.8,100.8 490.6,101.5 491.4,102.1 492.2,102.8 493.0,103.4 493.8,104.0 494.6,104.7 495.4,105.3 496.2,105.9 497.0,106.6 497.8,107.2 498.6,107.8 499.4,108.4 500.2,109.0 501.0,109.6 501.8,110.2 502.6,110.8 503.4,111.4 504.2,111.9 505.0,112.5 505.8,113.1 506.6,113.6 507.4,114.2 508.2,114.7 509.0,115.3 509.8,115.8 510.6,116.3 511.4,116.9 512.2,117.4 513.0,117.9 513.8,118.4 514.6,118.9 515.4,119.5 516.2,120.0 517.0,120.5 517.8,121.0 518.6,121.4 519.4,121.9 520.2,122.4 521.0,122.8 521.8,123.2 522.6,123.6 523.4,124.1 524.2,124.5 525.0,125.0 525.8,125.4 526.6,125.9 527.4,126.4 528.2,127.0 529.0,127.5 529.8,128.1 530.6,128.6 531.4,129.2 532.2,129.7 533.0,130.3 533.8,130.9 534.6,131.4 535.4,132.0 536.2,132.6 537.0,133.2 537.8,133.8 538.6,134.4 539.4,135.0 540.2,135.6 541.0,136.2 541.8,136.8 542.6,137.4 543.4,138.0 544.2,138.7 545.0,139.3 545.8,139.9 546.6,140.4 547.4,141.0 548.2,141.6 549.0,142.1 549.8,142.7 550.6,143.2 551.4,143.7 552.2,144.2 553.0,144.7 553.8,145.3 554.6,145.8 555.4,146.3 556.2,146.8 557.0,147.3 557.8,147.8 558.6,148.4 559.4,148.9 560.2,149.4 561.0,149.9 561.8,150.5 562.6,151.0 563.4,151.5 564.2,152.0 565.0,152.5 565.8,153.0 566.6,153.5 567.4,154.1 568.2,154.6 569.0,155.1 569.8,155.6 570.6,156.0 571.4,156.5 572.2,157.0 573.0,157.5 573.8,158.0 574.6,158.5 575.4,158.9 576.2,159.4 577.0,159.9 577.8,160.4 578.6,160.8 579.4,161.3 580.2,161.7 581.0,162.2 581.8,162.7 582.6,163.1 583.4,163.6 584.2,164.0 585.0,164.5 585.8,164.9 586.6,165.4 587.4,165.8 588.2,166.2 589.0,166.7 589.8,167.1 590.6,167.5 591.4,168.0 592.2,168.4 593.0,168.8 593.8,169.2 594.6,169.6 595.4,170.1 596.2,170.5 597.0,170.9 597.8,171.3 598.6,171.7 599.4,172.0 600.2,172.4 601.0,172.8 601.8,173.2 602.6,173.6 603.4,174.0 604.2,174.3 605.0,174.7 605.8,175.0 606.6,175.4 607.4,175.7 608.2,176.1 609.0,176.4 609.8,176.7 610.6,177.0 611.4,177.3 612.2,177.6 613.0,177.9 613.8,178.1 614.6,178.4 615.4,178.6 616.2,178.8 617.0,179.1 617.8,179.3 618.6,179.5 619.4,179.6 620.2,179.8 621.0,179.9 621.8,180.1 622.6,180.2 623.4,180.3 624.2,180.4 625.0,180.4 625.8,180.5 626.6,180.6 627.4,180.7 628.2,180.8 629.0,180.9 629.8,181.1 630.6,181.3 631.4,181.5 632.2,181.7 633.0,181.9 633.8,182.1 634.6,182.4 635.4,182.6 636.2,182.9 637.0,183.1 637.8,183.3 638.6,183.6 639.4,183.8 640.2,184.1 641.0,184.3 641.8,184.5 642.6,184.8 643.4,185.0 644.2,185.2 645.0,185.5 645.8,185.7 646.6,185.9 647.4,186.1 648.2,186.4 649.0,186.6 649.8,186.8 650.6,187.0 651.4,187.3 652.2,187.5 653.0,187.7 653.8,187.9 654.6,188.1 655.4,188.4 656.2,188.6 657.0,188.8 657.8,189.0 658.6,189.2 659.4,189.4 660.2,189.6 661.0,189.9 661.8,190.1 662.6,190.3 663.4,190.5 664.2,190.7 665.0,190.8 665.8,191.0" fill="none" stroke="#3d0a5c" stroke-width="2.8" stroke-linejoin="round" stroke-linecap="round" clip-path="url(#cB1)"/>
<polyline points="401.0,49.2 401.8,49.1 402.6,49.1 403.4,49.1 404.2,49.0 405.0,49.0 405.8,48.9 406.6,48.9 407.4,48.8 408.2,48.8 409.0,48.8 409.8,48.8 410.6,48.7 411.4,48.7 412.2,48.7 413.0,48.6 413.8,48.6 414.6,48.6 415.4,48.6 416.2,48.6 417.0,48.6 417.8,48.7 418.6,48.8 419.4,49.0 420.2,49.2 421.0,49.4 421.8,49.6 422.6,49.8 423.4,50.0 424.2,50.2 425.0,50.5 425.8,50.8 426.6,51.1 427.4,51.4 428.2,51.8 429.0,52.2 429.8,52.6 430.6,53.0 431.4,53.4 432.2,53.9 433.0,54.4 433.8,54.8 434.6,55.3 435.4,55.8 436.2,56.3 437.0,56.8 437.8,57.4 438.6,57.9 439.4,58.4 440.2,59.0 441.0,59.6 441.8,60.2 442.6,60.8 443.4,61.4 444.2,62.0 445.0,62.6 445.8,63.2 446.6,63.9 447.4,64.5 448.2,65.1 449.0,65.8 449.8,66.4 450.6,67.1 451.4,67.7 452.2,68.4 453.0,69.1 453.8,69.8 454.6,70.4 455.4,71.1 456.2,71.8 457.0,72.5 457.8,73.2 458.6,73.9 459.4,74.6 460.2,75.3 461.0,76.1 461.8,76.8 462.6,77.5 463.4,78.2 464.2,79.0 465.0,79.7 465.8,80.4 466.6,81.2 467.4,81.9 468.2,82.7 469.0,83.4 469.8,84.2 470.6,84.9 471.4,85.7 472.2,86.4 473.0,87.2 473.8,87.9 474.6,88.7 475.4,89.4 476.2,90.1 477.0,90.9 477.8,91.6 478.6,92.3 479.4,93.0 480.2,93.8 481.0,94.5 481.8,95.2 482.6,95.9 483.4,96.6 484.2,97.3 485.0,97.9 485.8,98.6 486.6,99.3 487.4,100.0 488.2,100.7 489.0,101.3 489.8,102.0 490.6,102.6 491.4,103.3 492.2,103.9 493.0,104.6 493.8,105.2 494.6,105.9 495.4,106.5 496.2,107.1 497.0,107.8 497.8,108.4 498.6,109.0 499.4,109.6 500.2,110.2 501.0,110.8 501.8,111.4 502.6,112.0 503.4,112.6 504.2,113.2 505.0,113.8 505.8,114.4 506.6,115.1 507.4,115.7 508.2,116.3 509.0,116.9 509.8,117.5 510.6,118.1 511.4,118.7 512.2,119.3 513.0,119.9 513.8,120.5 514.6,121.1 515.4,121.6 516.2,122.2 517.0,122.7 517.8,123.3 518.6,123.8 519.4,124.3 520.2,124.9 521.0,125.4 521.8,125.9 522.6,126.4 523.4,126.9 524.2,127.4 525.0,127.9 525.8,128.4 526.6,128.9 527.4,129.5 528.2,130.0 529.0,130.6 529.8,131.1 530.6,131.7 531.4,132.2 532.2,132.8 533.0,133.3 533.8,133.8 534.6,134.4 535.4,134.9 536.2,135.5 537.0,136.0 537.8,136.5 538.6,137.1 539.4,137.6 540.2,138.1 541.0,138.7 541.8,139.2 542.6,139.8 543.4,140.4 544.2,140.9 545.0,141.5 545.8,142.1 546.6,142.7 547.4,143.2 548.2,143.8 549.0,144.4 549.8,144.9 550.6,145.5 551.4,146.0 552.2,146.5 553.0,147.1 553.8,147.6 554.6,148.1 555.4,148.7 556.2,149.2 557.0,149.7 557.8,150.2 558.6,150.7 559.4,151.3 560.2,151.8 561.0,152.3 561.8,152.8 562.6,153.3 563.4,153.8 564.2,154.3 565.0,154.8 565.8,155.3 566.6,155.8 567.4,156.3 568.2,156.8 569.0,157.3 569.8,157.8 570.6,158.3 571.4,158.7 572.2,159.2 573.0,159.7 573.8,160.2 574.6,160.7 575.4,161.1 576.2,161.6 577.0,162.1 577.8,162.6 578.6,163.0 579.4,163.5 580.2,163.9 581.0,164.4 581.8,164.9 582.6,165.3 583.4,165.8 584.2,166.2 585.0,166.7 585.8,167.1 586.6,167.6 587.4,168.0 588.2,168.4 589.0,168.9 589.8,169.3 590.6,169.7 591.4,170.2 592.2,170.6 593.0,171.0 593.8,171.4 594.6,171.9 595.4,172.3 596.2,172.7 597.0,173.1 597.8,173.5 598.6,173.9 599.4,174.3 600.2,174.7 601.0,175.1 601.8,175.5 602.6,175.9 603.4,176.3 604.2,176.7 605.0,177.0 605.8,177.4 606.6,177.8 607.4,178.2 608.2,178.5 609.0,178.9 609.8,179.2 610.6,179.6 611.4,179.9 612.2,180.3 613.0,180.6 613.8,180.9 614.6,181.3 615.4,181.6 616.2,181.9 617.0,182.2 617.8,182.5 618.6,182.8 619.4,183.1 620.2,183.3 621.0,183.6 621.8,183.8 622.6,184.0 623.4,184.2 624.2,184.4 625.0,184.6 625.8,184.8 626.6,185.0 627.4,185.2 628.2,185.3 629.0,185.5 629.8,185.7 630.6,185.9 631.4,186.1 632.2,186.3 633.0,186.5 633.8,186.7 634.6,187.0 635.4,187.2 636.2,187.4 637.0,187.6 637.8,187.8 638.6,188.0 639.4,188.2 640.2,188.5 641.0,188.7 641.8,188.9 642.6,189.1 643.4,189.3 644.2,189.5 645.0,189.7 645.8,189.9 646.6,190.1 647.4,190.3 648.2,190.4 649.0,190.6 649.8,190.8 650.6,191.0 651.4,191.2 652.2,191.3 653.0,191.5 653.8,191.7 654.6,191.8 655.4,192.0 656.2,192.1 657.0,192.3 657.8,192.5 658.6,192.6 659.4,192.7 660.2,192.9 661.0,193.0 661.8,193.2 662.6,193.3 663.4,193.4 664.2,193.6 665.0,193.7 665.8,193.8" fill="none" stroke="#0b0bff" stroke-width="2.8" stroke-linejoin="round" stroke-linecap="round" clip-path="url(#cB1)"/>
<polyline points="401.0,49.6 401.8,49.6 402.6,49.6 403.4,49.5 404.2,49.5 405.0,49.4 405.8,49.4 406.6,49.4 407.4,49.3 408.2,49.3 409.0,49.3 409.8,49.2 410.6,49.2 411.4,49.2 412.2,49.1 413.0,49.1 413.8,49.1 414.6,49.1 415.4,49.1 416.2,49.1 417.0,49.1 417.8,49.2 418.6,49.3 419.4,49.5 420.2,49.7 421.0,49.9 421.8,50.1 422.6,50.3 423.4,50.6 424.2,50.8 425.0,51.1 425.8,51.4 426.6,51.7 427.4,52.1 428.2,52.4 429.0,52.8 429.8,53.2 430.6,53.7 431.4,54.1 432.2,54.6 433.0,55.1 433.8,55.5 434.6,56.0 435.4,56.5 436.2,57.0 437.0,57.5 437.8,58.1 438.6,58.6 439.4,59.2 440.2,59.7 441.0,60.3 441.8,60.9 442.6,61.5 443.4,62.1 444.2,62.7 445.0,63.3 445.8,63.9 446.6,64.5 447.4,65.2 448.2,65.8 449.0,66.4 449.8,67.1 450.6,67.7 451.4,68.4 452.2,69.1 453.0,69.7 453.8,70.4 454.6,71.1 455.4,71.8 456.2,72.5 457.0,73.2 457.8,73.9 458.6,74.6 459.4,75.3 460.2,76.0 461.0,76.7 461.8,77.5 462.6,78.2 463.4,78.9 464.2,79.6 465.0,80.4 465.8,81.1 466.6,81.9 467.4,82.6 468.2,83.4 469.0,84.1 469.8,84.8 470.6,85.6 471.4,86.3 472.2,87.1 473.0,87.8 473.8,88.6 474.6,89.3 475.4,90.1 476.2,90.8 477.0,91.6 477.8,92.3 478.6,93.0 479.4,93.7 480.2,94.5 481.0,95.2 481.8,95.9 482.6,96.6 483.4,97.3 484.2,98.0 485.0,98.7 485.8,99.3 486.6,100.0 487.4,100.7 488.2,101.4 489.0,102.0 489.8,102.7 490.6,103.4 491.4,104.0 492.2,104.7 493.0,105.3 493.8,106.0 494.6,106.6 495.4,107.2 496.2,107.9 497.0,108.5 497.8,109.1 498.6,109.7 499.4,110.3 500.2,111.0 501.0,111.6 501.8,112.2 502.6,112.8 503.4,113.4 504.2,114.0 505.0,114.6 505.8,115.2 506.6,115.8 507.4,116.5 508.2,117.1 509.0,117.7 509.8,118.3 510.6,118.9 511.4,119.5 512.2,120.1 513.0,120.7 513.8,121.3 514.6,121.9 515.4,122.5 516.2,123.1 517.0,123.6 517.8,124.2 518.6,124.8 519.4,125.3 520.2,125.9 521.0,126.5 521.8,127.0 522.6,127.6 523.4,128.1 524.2,128.7 525.0,129.2 525.8,129.8 526.6,130.3 527.4,130.9 528.2,131.4 529.0,132.0 529.8,132.5 530.6,133.1 531.4,133.7 532.2,134.2 533.0,134.8 533.8,135.3 534.6,135.9 535.4,136.4 536.2,136.9 537.0,137.5 537.8,138.0 538.6,138.5 539.4,139.0 540.2,139.6 541.0,140.1 541.8,140.6 542.6,141.2 543.4,141.7 544.2,142.2 545.0,142.8 545.8,143.3 546.6,143.9 547.4,144.4 548.2,145.0 549.0,145.5 549.8,146.0 550.6,146.6 551.4,147.1 552.2,147.6 553.0,148.2 553.8,148.7 554.6,149.2 555.4,149.8 556.2,150.3 557.0,150.8 557.8,151.3 558.6,151.8 559.4,152.4 560.2,152.9 561.0,153.4 561.8,153.9 562.6,154.4 563.4,154.9 564.2,155.4 565.0,155.9 565.8,156.4 566.6,156.9 567.4,157.4 568.2,157.9 569.0,158.4 569.8,158.9 570.6,159.4 571.4,159.8 572.2,160.3 573.0,160.8 573.8,161.3 574.6,161.8 575.4,162.2 576.2,162.7 577.0,163.2 577.8,163.7 578.6,164.1 579.4,164.6 580.2,165.0 581.0,165.5 581.8,166.0 582.6,166.4 583.4,166.9 584.2,167.3 585.0,167.8 585.8,168.2 586.6,168.7 587.4,169.1 588.2,169.5 589.0,170.0 589.8,170.4 590.6,170.8 591.4,171.3 592.2,171.7 593.0,172.1 593.8,172.5 594.6,173.0 595.4,173.4 596.2,173.8 597.0,174.2 597.8,174.6 598.6,175.0 599.4,175.4 600.2,175.8 601.0,176.2 601.8,176.6 602.6,177.0 603.4,177.4 604.2,177.7 605.0,178.1 605.8,178.5 606.6,178.9 607.4,179.3 608.2,179.7 609.0,180.0 609.8,180.4 610.6,180.8 611.4,181.2 612.2,181.5 613.0,181.9 613.8,182.3 614.6,182.6 615.4,183.0 616.2,183.4 617.0,183.7 617.8,184.1 618.6,184.4 619.4,184.7 620.2,185.0 621.0,185.4 621.8,185.7 622.6,186.0 623.4,186.3 624.2,186.5 625.0,186.8 625.8,187.1 626.6,187.3 627.4,187.6 628.2,187.8 629.0,188.1 629.8,188.3 630.6,188.6 631.4,188.8 632.2,189.1 633.0,189.3 633.8,189.5 634.6,189.8 635.4,190.0 636.2,190.2 637.0,190.4 637.8,190.6 638.6,190.8 639.4,191.0 640.2,191.2 641.0,191.4 641.8,191.6 642.6,191.8 643.4,192.0 644.2,192.2 645.0,192.4 645.8,192.6 646.6,192.8 647.4,193.0 648.2,193.2 649.0,193.4 649.8,193.6 650.6,193.8 651.4,194.0 652.2,194.2 653.0,194.4 653.8,194.6 654.6,194.7 655.4,194.9 656.2,195.1 657.0,195.3 657.8,195.5 658.6,195.6 659.4,195.8 660.2,196.0 661.0,196.1 661.8,196.3 662.6,196.4 663.4,196.6 664.2,196.7 665.0,196.9 665.8,197.0" fill="none" stroke="#3b87b6" stroke-width="2.8" stroke-linejoin="round" stroke-linecap="round" clip-path="url(#cB1)"/>
<polyline points="401.0,50.2 401.8,50.1 402.6,50.1 403.4,50.0 404.2,50.0 405.0,50.0 405.8,49.9 406.6,49.9 407.4,49.8 408.2,49.8 409.0,49.8 409.8,49.7 410.6,49.7 411.4,49.7 412.2,49.7 413.0,49.6 413.8,49.6 414.6,49.6 415.4,49.6 416.2,49.6 417.0,49.6 417.8,49.7 418.6,49.9 419.4,50.0 420.2,50.2 421.0,50.5 421.8,50.7 422.6,50.9 423.4,51.2 424.2,51.5 425.0,51.7 425.8,52.1 426.6,52.4 427.4,52.7 428.2,53.1 429.0,53.5 429.8,53.9 430.6,54.4 431.4,54.8 432.2,55.3 433.0,55.8 433.8,56.3 434.6,56.8 435.4,57.3 436.2,57.8 437.0,58.3 437.8,58.8 438.6,59.4 439.4,59.9 440.2,60.5 441.0,61.0 441.8,61.6 442.6,62.2 443.4,62.8 444.2,63.4 445.0,64.0 445.8,64.6 446.6,65.3 447.4,65.9 448.2,66.5 449.0,67.2 449.8,67.8 450.6,68.5 451.4,69.1 452.2,69.8 453.0,70.4 453.8,71.1 454.6,71.8 455.4,72.5 456.2,73.2 457.0,73.9 457.8,74.6 458.6,75.3 459.4,76.0 460.2,76.7 461.0,77.4 461.8,78.2 462.6,78.9 463.4,79.6 464.2,80.4 465.0,81.1 465.8,81.8 466.6,82.6 467.4,83.3 468.2,84.1 469.0,84.8 469.8,85.6 470.6,86.3 471.4,87.1 472.2,87.8 473.0,88.6 473.8,89.3 474.6,90.1 475.4,90.8 476.2,91.6 477.0,92.3 477.8,93.0 478.6,93.8 479.4,94.5 480.2,95.2 481.0,95.9 481.8,96.6 482.6,97.3 483.4,98.0 484.2,98.7 485.0,99.4 485.8,100.1 486.6,100.8 487.4,101.5 488.2,102.1 489.0,102.8 489.8,103.5 490.6,104.1 491.4,104.8 492.2,105.4 493.0,106.1 493.8,106.7 494.6,107.4 495.4,108.0 496.2,108.6 497.0,109.3 497.8,109.9 498.6,110.5 499.4,111.1 500.2,111.7 501.0,112.4 501.8,113.0 502.6,113.6 503.4,114.2 504.2,114.8 505.0,115.4 505.8,116.0 506.6,116.6 507.4,117.2 508.2,117.8 509.0,118.5 509.8,119.1 510.6,119.7 511.4,120.3 512.2,120.9 513.0,121.5 513.8,122.1 514.6,122.7 515.4,123.3 516.2,123.9 517.0,124.5 517.8,125.1 518.6,125.7 519.4,126.3 520.2,126.9 521.0,127.4 521.8,128.0 522.6,128.6 523.4,129.2 524.2,129.8 525.0,130.4 525.8,131.0 526.6,131.6 527.4,132.2 528.2,132.7 529.0,133.3 529.8,133.9 530.6,134.5 531.4,135.0 532.2,135.6 533.0,136.2 533.8,136.7 534.6,137.3 535.4,137.8 536.2,138.4 537.0,138.9 537.8,139.5 538.6,140.0 539.4,140.5 540.2,141.0 541.0,141.6 541.8,142.1 542.6,142.6 543.4,143.1 544.2,143.6 545.0,144.1 545.8,144.6 546.6,145.1 547.4,145.6 548.2,146.1 549.0,146.6 549.8,147.1 550.6,147.7 551.4,148.2 552.2,148.7 553.0,149.3 553.8,149.8 554.6,150.3 555.4,150.9 556.2,151.4 557.0,151.9 557.8,152.4 558.6,152.9 559.4,153.5 560.2,154.0 561.0,154.5 561.8,155.0 562.6,155.5 563.4,156.0 564.2,156.5 565.0,157.0 565.8,157.5 566.6,158.0 567.4,158.5 568.2,159.0 569.0,159.5 569.8,160.0 570.6,160.5 571.4,160.9 572.2,161.4 573.0,161.9 573.8,162.4 574.6,162.9 575.4,163.3 576.2,163.8 577.0,164.3 577.8,164.8 578.6,165.2 579.4,165.7 580.2,166.1 581.0,166.6 581.8,167.1 582.6,167.5 583.4,168.0 584.2,168.4 585.0,168.9 585.8,169.3 586.6,169.8 587.4,170.2 588.2,170.6 589.0,171.1 589.8,171.5 590.6,171.9 591.4,172.4 592.2,172.8 593.0,173.2 593.8,173.6 594.6,174.1 595.4,174.5 596.2,174.9 597.0,175.3 597.8,175.7 598.6,176.1 599.4,176.5 600.2,176.9 601.0,177.3 601.8,177.7 602.6,178.1 603.4,178.5 604.2,178.8 605.0,179.2 605.8,179.6 606.6,180.0 607.4,180.4 608.2,180.8 609.0,181.2 609.8,181.6 610.6,182.0 611.4,182.4 612.2,182.8 613.0,183.2 613.8,183.6 614.6,184.0 615.4,184.4 616.2,184.8 617.0,185.1 617.8,185.5 618.6,185.9 619.4,186.3 620.2,186.7 621.0,187.1 621.8,187.5 622.6,187.8 623.4,188.2 624.2,188.6 625.0,189.0 625.8,189.3 626.6,189.7 627.4,190.0 628.2,190.4 629.0,190.7 629.8,191.0 630.6,191.3 631.4,191.7 632.2,191.9 633.0,192.2 633.8,192.5 634.6,192.8 635.4,193.0 636.2,193.3 637.0,193.5 637.8,193.7 638.6,193.9 639.4,194.2 640.2,194.4 641.0,194.6 641.8,194.8 642.6,195.0 643.4,195.2 644.2,195.3 645.0,195.5 645.8,195.7 646.6,195.9 647.4,196.1 648.2,196.2 649.0,196.4 649.8,196.6 650.6,196.8 651.4,196.9 652.2,197.1 653.0,197.2 653.8,197.4 654.6,197.6 655.4,197.7 656.2,197.8 657.0,198.0 657.8,198.1 658.6,198.3 659.4,198.4 660.2,198.5 661.0,198.6 661.8,198.7 662.6,198.9 663.4,199.0 664.2,199.1 665.0,199.2 665.8,199.3" fill="none" stroke="#33ff14" stroke-width="2.8" stroke-linejoin="round" stroke-linecap="round" clip-path="url(#cB1)"/>
<polyline points="401.0,50.6 401.8,50.5 402.6,50.5 403.4,50.4 404.2,50.4 405.0,50.4 405.8,50.3 406.6,50.3 407.4,50.2 408.2,50.2 409.0,50.2 409.8,50.1 410.6,50.1 411.4,50.1 412.2,50.1 413.0,50.0 413.8,50.0 414.6,50.0 415.4,50.0 416.2,50.0 417.0,50.1 417.8,50.2 418.6,50.3 419.4,50.5 420.2,50.7 421.0,50.9 421.8,51.1 422.6,51.4 423.4,51.7 424.2,51.9 425.0,52.3 425.8,52.6 426.6,52.9 427.4,53.3 428.2,53.7 429.0,54.1 429.8,54.5 430.6,55.0 431.4,55.4 432.2,55.9 433.0,56.4 433.8,56.9 434.6,57.4 435.4,57.9 436.2,58.4 437.0,58.9 437.8,59.4 438.6,60.0 439.4,60.5 440.2,61.1 441.0,61.6 441.8,62.2 442.6,62.8 443.4,63.4 444.2,64.0 445.0,64.6 445.8,65.2 446.6,65.8 447.4,66.5 448.2,67.1 449.0,67.7 449.8,68.4 450.6,69.0 451.4,69.7 452.2,70.3 453.0,71.0 453.8,71.7 454.6,72.4 455.4,73.1 456.2,73.8 457.0,74.5 457.8,75.2 458.6,75.9 459.4,76.6 460.2,77.3 461.0,78.0 461.8,78.7 462.6,79.5 463.4,80.2 464.2,80.9 465.0,81.7 465.8,82.4 466.6,83.2 467.4,83.9 468.2,84.7 469.0,85.4 469.8,86.2 470.6,86.9 471.4,87.7 472.2,88.4 473.0,89.2 473.8,89.9 474.6,90.7 475.4,91.4 476.2,92.1 477.0,92.9 477.8,93.6 478.6,94.4 479.4,95.1 480.2,95.8 481.0,96.5 481.8,97.2 482.6,97.9 483.4,98.6 484.2,99.3 485.0,100.0 485.8,100.7 486.6,101.4 487.4,102.1 488.2,102.7 489.0,103.4 489.8,104.1 490.6,104.7 491.4,105.4 492.2,106.1 493.0,106.7 493.8,107.3 494.6,108.0 495.4,108.6 496.2,109.3 497.0,109.9 497.8,110.5 498.6,111.1 499.4,111.8 500.2,112.4 501.0,113.0 501.8,113.6 502.6,114.2 503.4,114.8 504.2,115.4 505.0,116.1 505.8,116.7 506.6,117.3 507.4,117.8 508.2,118.4 509.0,119.0 509.8,119.6 510.6,120.2 511.4,120.8 512.2,121.4 513.0,122.0 513.8,122.6 514.6,123.1 515.4,123.7 516.2,124.3 517.0,124.9 517.8,125.5 518.6,126.1 519.4,126.7 520.2,127.3 521.0,128.0 521.8,128.6 522.6,129.2 523.4,129.9 524.2,130.5 525.0,131.2 525.8,131.8 526.6,132.4 527.4,133.0 528.2,133.6 529.0,134.2 529.8,134.8 530.6,135.4 531.4,135.9 532.2,136.5 533.0,137.1 533.8,137.6 534.6,138.2 535.4,138.8 536.2,139.3 537.0,139.9 537.8,140.4 538.6,141.0 539.4,141.5 540.2,142.1 541.0,142.6 541.8,143.2 542.6,143.7 543.4,144.2 544.2,144.7 545.0,145.2 545.8,145.7 546.6,146.2 547.4,146.7 548.2,147.2 549.0,147.7 549.8,148.2 550.6,148.7 551.4,149.3 552.2,149.8 553.0,150.3 553.8,150.8 554.6,151.3 555.4,151.9 556.2,152.4 557.0,152.9 557.8,153.4 558.6,153.9 559.4,154.4 560.2,154.9 561.0,155.4 561.8,155.9 562.6,156.4 563.4,156.9 564.2,157.4 565.0,157.9 565.8,158.4 566.6,158.9 567.4,159.4 568.2,159.9 569.0,160.4 569.8,160.9 570.6,161.4 571.4,161.8 572.2,162.3 573.0,162.8 573.8,163.3 574.6,163.8 575.4,164.2 576.2,164.7 577.0,165.2 577.8,165.7 578.6,166.1 579.4,166.6 580.2,167.0 581.0,167.5 581.8,168.0 582.6,168.4 583.4,168.9 584.2,169.3 585.0,169.8 585.8,170.2 586.6,170.7 587.4,171.1 588.2,171.5 589.0,172.0 589.8,172.4 590.6,172.8 591.4,173.3 592.2,173.7 593.0,174.1 593.8,174.6 594.6,175.0 595.4,175.4 596.2,175.8 597.0,176.2 597.8,176.6 598.6,177.0 599.4,177.4 600.2,177.8 601.0,178.2 601.8,178.6 602.6,179.0 603.4,179.4 604.2,179.8 605.0,180.2 605.8,180.6 606.6,181.0 607.4,181.4 608.2,181.8 609.0,182.2 609.8,182.6 610.6,183.0 611.4,183.4 612.2,183.8 613.0,184.2 613.8,184.6 614.6,185.0 615.4,185.4 616.2,185.8 617.0,186.2 617.8,186.6 618.6,187.0 619.4,187.5 620.2,187.9 621.0,188.3 621.8,188.7 622.6,189.1 623.4,189.6 624.2,190.0 625.0,190.4 625.8,190.8 626.6,191.2 627.4,191.6 628.2,192.0 629.0,192.4 629.8,192.8 630.6,193.1 631.4,193.4 632.2,193.7 633.0,194.0 633.8,194.3 634.6,194.6 635.4,194.9 636.2,195.1 637.0,195.4 637.8,195.6 638.6,195.9 639.4,196.1 640.2,196.3 641.0,196.6 641.8,196.8 642.6,197.0 643.4,197.2 644.2,197.5 645.0,197.7 645.8,197.9 646.6,198.1 647.4,198.3 648.2,198.6 649.0,198.8 649.8,199.0 650.6,199.2 651.4,199.4 652.2,199.6 653.0,199.8 653.8,200.0 654.6,200.2 655.4,200.4 656.2,200.6 657.0,200.8 657.8,201.0 658.6,201.2 659.4,201.4 660.2,201.6 661.0,201.8 661.8,202.0 662.6,202.2 663.4,202.3 664.2,202.5 665.0,202.7 665.8,202.8" fill="none" stroke="#a8892a" stroke-width="2.8" stroke-linejoin="round" stroke-linecap="round" clip-path="url(#cB1)"/>
<polyline points="401.0,51.0 401.8,50.9 402.6,50.9 403.4,50.9 404.2,50.8 405.0,50.8 405.8,50.7 406.6,50.7 407.4,50.7 408.2,50.6 409.0,50.6 409.8,50.6 410.6,50.5 411.4,50.5 412.2,50.5 413.0,50.4 413.8,50.4 414.6,50.4 415.4,50.4 416.2,50.4 417.0,50.5 417.8,50.6 418.6,50.7 419.4,50.9 420.2,51.1 421.0,51.4 421.8,51.6 422.6,51.9 423.4,52.1 424.2,52.4 425.0,52.8 425.8,53.1 426.6,53.5 427.4,53.8 428.2,54.2 429.0,54.6 429.8,55.1 430.6,55.5 431.4,56.0 432.2,56.5 433.0,57.0 433.8,57.5 434.6,58.0 435.4,58.5 436.2,59.0 437.0,59.5 437.8,60.0 438.6,60.6 439.4,61.1 440.2,61.7 441.0,62.3 441.8,62.8 442.6,63.4 443.4,64.0 444.2,64.6 445.0,65.2 445.8,65.8 446.6,66.4 447.4,67.1 448.2,67.7 449.0,68.3 449.8,69.0 450.6,69.6 451.4,70.3 452.2,70.9 453.0,71.6 453.8,72.3 454.6,72.9 455.4,73.6 456.2,74.3 457.0,75.0 457.8,75.7 458.6,76.4 459.4,77.2 460.2,77.9 461.0,78.6 461.8,79.3 462.6,80.1 463.4,80.8 464.2,81.5 465.0,82.3 465.8,83.0 466.6,83.7 467.4,84.5 468.2,85.2 469.0,86.0 469.8,86.7 470.6,87.5 471.4,88.2 472.2,89.0 473.0,89.7 473.8,90.5 474.6,91.2 475.4,92.0 476.2,92.7 477.0,93.5 477.8,94.2 478.6,94.9 479.4,95.7 480.2,96.4 481.0,97.1 481.8,97.8 482.6,98.5 483.4,99.2 484.2,99.9 485.0,100.6 485.8,101.3 486.6,102.0 487.4,102.7 488.2,103.4 489.0,104.0 489.8,104.7 490.6,105.4 491.4,106.0 492.2,106.7 493.0,107.3 493.8,108.0 494.6,108.6 495.4,109.2 496.2,109.9 497.0,110.5 497.8,111.1 498.6,111.8 499.4,112.4 500.2,113.0 501.0,113.6 501.8,114.3 502.6,114.9 503.4,115.5 504.2,116.1 505.0,116.7 505.8,117.3 506.6,117.9 507.4,118.5 508.2,119.0 509.0,119.6 509.8,120.2 510.6,120.7 511.4,121.3 512.2,121.9 513.0,122.5 513.8,123.1 514.6,123.7 515.4,124.2 516.2,124.8 517.0,125.4 517.8,126.0 518.6,126.6 519.4,127.2 520.2,127.9 521.0,128.5 521.8,129.2 522.6,129.9 523.4,130.6 524.2,131.3 525.0,131.9 525.8,132.6 526.6,133.3 527.4,133.9 528.2,134.5 529.0,135.1 529.8,135.7 530.6,136.3 531.4,136.8 532.2,137.4 533.0,138.0 533.8,138.6 534.6,139.1 535.4,139.7 536.2,140.3 537.0,140.9 537.8,141.4 538.6,142.0 539.4,142.6 540.2,143.1 541.0,143.7 541.8,144.2 542.6,144.8 543.4,145.3 544.2,145.8 545.0,146.3 545.8,146.8 546.6,147.3 547.4,147.8 548.2,148.3 549.0,148.8 549.8,149.3 550.6,149.8 551.4,150.4 552.2,150.9 553.0,151.4 553.8,151.9 554.6,152.4 555.4,153.0 556.2,153.5 557.0,154.0 557.8,154.5 558.6,155.0 559.4,155.5 560.2,156.0 561.0,156.5 561.8,157.0 562.6,157.4 563.4,157.9 564.2,158.4 565.0,158.9 565.8,159.4 566.6,159.9 567.4,160.4 568.2,160.8 569.0,161.3 569.8,161.8 570.6,162.3 571.4,162.8 572.2,163.2 573.0,163.7 573.8,164.2 574.6,164.7 575.4,165.1 576.2,165.6 577.0,166.1 577.8,166.6 578.6,167.0 579.4,167.5 580.2,167.9 581.0,168.4 581.8,168.9 582.6,169.3 583.4,169.8 584.2,170.2 585.0,170.7 585.8,171.1 586.6,171.6 587.4,172.0 588.2,172.4 589.0,172.9 589.8,173.3 590.6,173.7 591.4,174.2 592.2,174.6 593.0,175.0 593.8,175.5 594.6,175.9 595.4,176.3 596.2,176.7 597.0,177.2 597.8,177.6 598.6,178.0 599.4,178.4 600.2,178.8 601.0,179.2 601.8,179.7 602.6,180.1 603.4,180.5 604.2,180.9 605.0,181.3 605.8,181.7 606.6,182.1 607.4,182.5 608.2,182.9 609.0,183.3 609.8,183.7 610.6,184.1 611.4,184.5 612.2,184.9 613.0,185.3 613.8,185.7 614.6,186.1 615.4,186.5 616.2,186.9 617.0,187.3 617.8,187.7 618.6,188.1 619.4,188.5 620.2,189.0 621.0,189.4 621.8,189.8 622.6,190.2 623.4,190.6 624.2,191.0 625.0,191.4 625.8,191.8 626.6,192.2 627.4,192.6 628.2,193.0 629.0,193.4 629.8,193.8 630.6,194.2 631.4,194.6 632.2,195.0 633.0,195.4 633.8,195.7 634.6,196.1 635.4,196.5 636.2,196.9 637.0,197.2 637.8,197.6 638.6,197.9 639.4,198.3 640.2,198.6 641.0,199.0 641.8,199.3 642.6,199.6 643.4,199.9 644.2,200.2 645.0,200.5 645.8,200.8 646.6,201.0 647.4,201.3 648.2,201.5 649.0,201.8 649.8,202.0 650.6,202.2 651.4,202.4 652.2,202.6 653.0,202.8 653.8,203.0 654.6,203.2 655.4,203.4 656.2,203.6 657.0,203.8 657.8,203.9 658.6,204.1 659.4,204.3 660.2,204.5 661.0,204.6 661.8,204.8 662.6,204.9 663.4,205.1 664.2,205.2 665.0,205.4 665.8,205.5" fill="none" stroke="#ff1a0a" stroke-width="2.8" stroke-linejoin="round" stroke-linecap="round" clip-path="url(#cB1)"/>
<polyline points="401.0,51.8 401.8,51.8 402.6,51.7 403.4,51.7 404.2,51.6 405.0,51.6 405.8,51.5 406.6,51.5 407.4,51.5 408.2,51.4 409.0,51.4 409.8,51.4 410.6,51.3 411.4,51.3 412.2,51.3 413.0,51.3 413.8,51.2 414.6,51.2 415.4,51.2 416.2,51.3 417.0,51.3 417.8,51.4 418.6,51.6 419.4,51.8 420.2,52.0 421.0,52.3 421.8,52.5 422.6,52.8 423.4,53.1 424.2,53.4 425.0,53.8 425.8,54.1 426.6,54.5 427.4,54.9 428.2,55.3 429.0,55.7 429.8,56.2 430.6,56.7 431.4,57.2 432.2,57.7 433.0,58.2 433.8,58.7 434.6,59.2 435.4,59.7 436.2,60.2 437.0,60.7 437.8,61.3 438.6,61.8 439.4,62.4 440.2,62.9 441.0,63.5 441.8,64.0 442.6,64.6 443.4,65.2 444.2,65.8 445.0,66.4 445.8,67.0 446.6,67.6 447.4,68.2 448.2,68.8 449.0,69.5 449.8,70.1 450.6,70.7 451.4,71.4 452.2,72.0 453.0,72.7 453.8,73.4 454.6,74.1 455.4,74.8 456.2,75.5 457.0,76.2 457.8,76.9 458.6,77.6 459.4,78.3 460.2,79.0 461.0,79.7 461.8,80.5 462.6,81.2 463.4,81.9 464.2,82.7 465.0,83.4 465.8,84.2 466.6,84.9 467.4,85.6 468.2,86.4 469.0,87.1 469.8,87.9 470.6,88.7 471.4,89.4 472.2,90.2 473.0,90.9 473.8,91.7 474.6,92.4 475.4,93.2 476.2,93.9 477.0,94.6 477.8,95.4 478.6,96.1 479.4,96.9 480.2,97.6 481.0,98.3 481.8,99.0 482.6,99.7 483.4,100.4 484.2,101.1 485.0,101.8 485.8,102.5 486.6,103.2 487.4,103.9 488.2,104.6 489.0,105.3 489.8,105.9 490.6,106.6 491.4,107.2 492.2,107.9 493.0,108.6 493.8,109.2 494.6,109.8 495.4,110.5 496.2,111.1 497.0,111.8 497.8,112.4 498.6,113.0 499.4,113.7 500.2,114.3 501.0,114.9 501.8,115.5 502.6,116.2 503.4,116.8 504.2,117.4 505.0,118.0 505.8,118.6 506.6,119.3 507.4,119.9 508.2,120.5 509.0,121.1 509.8,121.7 510.6,122.3 511.4,122.9 512.2,123.5 513.0,124.2 513.8,124.8 514.6,125.5 515.4,126.2 516.2,126.9 517.0,127.6 517.8,128.2 518.6,128.9 519.4,129.6 520.2,130.3 521.0,130.9 521.8,131.6 522.6,132.2 523.4,132.8 524.2,133.4 525.0,134.0 525.8,134.6 526.6,135.2 527.4,135.8 528.2,136.4 529.0,137.0 529.8,137.5 530.6,138.1 531.4,138.7 532.2,139.2 533.0,139.8 533.8,140.3 534.6,140.9 535.4,141.5 536.2,142.0 537.0,142.6 537.8,143.1 538.6,143.7 539.4,144.2 540.2,144.8 541.0,145.4 541.8,145.9 542.6,146.5 543.4,147.0 544.2,147.6 545.0,148.2 545.8,148.7 546.6,149.3 547.4,149.9 548.2,150.4 549.0,151.0 549.8,151.5 550.6,152.1 551.4,152.6 552.2,153.1 553.0,153.7 553.8,154.2 554.6,154.7 555.4,155.3 556.2,155.8 557.0,156.3 557.8,156.8 558.6,157.3 559.4,157.9 560.2,158.4 561.0,158.9 561.8,159.4 562.6,159.9 563.4,160.4 564.2,160.9 565.0,161.4 565.8,161.9 566.6,162.4 567.4,162.9 568.2,163.4 569.0,163.9 569.8,164.4 570.6,164.9 571.4,165.3 572.2,165.8 573.0,166.3 573.8,166.8 574.6,167.3 575.4,167.7 576.2,168.2 577.0,168.7 577.8,169.2 578.6,169.6 579.4,170.1 580.2,170.5 581.0,171.0 581.8,171.5 582.6,171.9 583.4,172.4 584.2,172.8 585.0,173.3 585.8,173.7 586.6,174.2 587.4,174.6 588.2,175.0 589.0,175.5 589.8,175.9 590.6,176.4 591.4,176.8 592.2,177.2 593.0,177.7 593.8,178.1 594.6,178.5 595.4,179.0 596.2,179.4 597.0,179.8 597.8,180.3 598.6,180.7 599.4,181.1 600.2,181.5 601.0,182.0 601.8,182.4 602.6,182.8 603.4,183.2 604.2,183.6 605.0,184.0 605.8,184.4 606.6,184.8 607.4,185.1 608.2,185.5 609.0,185.9 609.8,186.2 610.6,186.6 611.4,186.9 612.2,187.2 613.0,187.6 613.8,187.9 614.6,188.2 615.4,188.5 616.2,188.9 617.0,189.2 617.8,189.5 618.6,189.9 619.4,190.3 620.2,190.6 621.0,191.0 621.8,191.5 622.6,191.9 623.4,192.3 624.2,192.8 625.0,193.2 625.8,193.7 626.6,194.1 627.4,194.6 628.2,195.0 629.0,195.5 629.8,195.9 630.6,196.3 631.4,196.8 632.2,197.2 633.0,197.6 633.8,198.0 634.6,198.3 635.4,198.7 636.2,199.1 637.0,199.5 637.8,199.8 638.6,200.2 639.4,200.6 640.2,200.9 641.0,201.2 641.8,201.6 642.6,201.9 643.4,202.2 644.2,202.5 645.0,202.8 645.8,203.1 646.6,203.4 647.4,203.7 648.2,203.9 649.0,204.2 649.8,204.4 650.6,204.7 651.4,204.9 652.2,205.2 653.0,205.4 653.8,205.6 654.6,205.8 655.4,206.0 656.2,206.3 657.0,206.5 657.8,206.6 658.6,206.8 659.4,207.0 660.2,207.2 661.0,207.4 661.8,207.6 662.6,207.7 663.4,207.9 664.2,208.0 665.0,208.2 665.8,208.3" fill="none" stroke="#7c0a0a" stroke-width="2.8" stroke-linejoin="round" stroke-linecap="round" clip-path="url(#cB1)"/>
<polyline points="400.5,426.6 401.0,426.6 401.5,426.9 402.0,427.1 402.5,427.2 403.0,427.1 403.5,426.9 404.0,426.9 404.5,427.2 405.0,427.3 405.5,427.1 406.0,426.8 406.5,426.9 407.0,427.1 407.5,427.0 408.0,426.7 408.5,426.6 409.0,426.6 409.5,426.7 410.0,426.7 410.5,426.8 411.0,427.0 411.5,427.0 412.0,426.9 412.5,427.0 413.0,427.0 413.5,426.7 414.0,426.6 414.5,426.7 415.0,426.7 415.5,426.7 416.0,426.8 416.5,426.9 417.0,426.8 417.5,426.7 418.0,426.6 418.5,426.5 419.0,426.6 419.5,426.7 420.0,426.9 420.5,427.0 421.0,426.9 421.5,426.7 422.0,426.6 422.5,426.7 423.0,426.7 423.5,426.7 424.0,426.5 424.5,426.6 425.0,426.8 425.5,426.9 426.0,426.8 426.5,426.8 427.0,426.7 427.5,426.6 428.0,426.8 428.5,427.1 429.0,427.4 429.5,427.5 430.0,427.3 430.5,427.2 431.0,427.0 431.5,426.9 432.0,426.9 432.5,427.0 433.0,426.9 433.5,426.8 434.0,426.9 434.5,426.9 435.0,426.8 435.5,426.8 436.0,426.8 436.5,426.7 437.0,426.7 437.5,426.6 438.0,426.4 438.5,426.3 439.0,426.4 439.5,426.7 440.0,426.6 440.5,426.4 441.0,426.4 441.5,426.5 442.0,426.4 442.5,426.4 443.0,426.5 443.5,426.5 444.0,426.5 444.5,426.5 445.0,426.6 445.5,426.7 446.0,426.8 446.5,426.5 447.0,426.2 447.5,426.1 448.0,426.3 448.5,426.5 449.0,426.5 449.5,426.4 450.0,426.3 450.5,426.3 451.0,426.4 451.5,426.5 452.0,426.5 452.5,426.7 453.0,426.9 453.5,426.7 454.0,426.5 454.5,426.7 455.0,426.6 455.5,426.5 456.0,426.5 456.5,426.5 457.0,426.3 457.5,426.2 458.0,426.2 458.5,426.4 459.0,426.6 459.5,426.6 460.0,426.6 460.5,426.6 461.0,426.4 461.5,426.3 462.0,426.2 462.5,426.0 463.0,426.0 463.5,426.2 464.0,426.3 464.5,426.3 465.0,426.3 465.5,426.4 466.0,426.5 466.5,426.5 467.0,426.4 467.5,426.5 468.0,426.5 468.5,426.3 469.0,426.1 469.5,425.8 470.0,425.6 470.5,425.5 471.0,425.5 471.5,425.5 472.0,425.3 472.5,424.8 473.0,424.5 473.5,424.5 474.0,424.2 474.5,423.8 475.0,423.5 475.5,423.0 476.0,422.5 476.5,422.3 477.0,422.3 477.5,422.3 478.0,422.0 478.5,421.8 479.0,421.8 479.5,421.7 480.0,421.8 480.5,422.1 481.0,422.4 481.5,422.5 482.0,422.4 482.5,422.5 483.0,422.8 483.5,423.0 484.0,423.1 484.5,423.5 485.0,424.1 485.5,424.3 486.0,424.3 486.5,424.5 487.0,424.5 487.5,424.1 488.0,424.1 488.5,424.3 489.0,424.4 489.5,424.3 490.0,424.1 490.5,424.2 491.0,424.4 491.5,424.2 492.0,423.6 492.5,423.4 493.0,423.3 493.5,422.9 494.0,422.6 494.5,422.5 495.0,422.6 495.5,422.5 496.0,422.2 496.5,421.9 497.0,421.9 497.5,421.9 498.0,421.9 498.5,421.5 499.0,421.0 499.5,421.0 500.0,421.0 500.5,420.6 501.0,420.2 501.5,420.1 502.0,420.2 502.5,420.0 503.0,419.7 503.5,419.4 504.0,419.1 504.5,418.5 505.0,418.2 505.5,418.0 506.0,417.5 506.5,416.6 507.0,415.7 507.5,414.7 508.0,413.5 508.5,412.1 509.0,410.7 509.5,409.4 510.0,408.0 510.5,406.3 511.0,404.2 511.5,401.9 512.0,399.3 512.5,396.4 513.0,393.2 513.5,389.8 514.0,386.4 514.5,382.9 515.0,379.0 515.5,375.3 516.0,371.9 516.5,368.2 517.0,364.6 517.5,361.3 518.0,358.6 518.5,356.3 519.0,354.3 519.5,352.7 520.0,351.8 520.5,351.8 521.0,352.3 521.5,353.0 522.0,354.1 522.5,355.4 523.0,357.2 523.5,359.5 524.0,362.3 524.5,365.0 525.0,367.7 525.5,370.7 526.0,374.0 526.5,377.2 527.0,380.3 527.5,383.5 528.0,386.5 528.5,389.5 529.0,392.3 529.5,394.8 530.0,397.1 530.5,399.0 531.0,400.7 531.5,402.3 532.0,403.8 532.5,405.1 533.0,406.3 533.5,407.3 534.0,407.8 534.5,408.4 535.0,409.3 535.5,409.9 536.0,410.2 536.5,410.5 537.0,411.0 537.5,411.2 538.0,411.2 538.5,411.2 539.0,411.3 539.5,411.3 540.0,411.3 540.5,411.4 541.0,411.7 541.5,411.7 542.0,411.6 542.5,411.4 543.0,411.3 543.5,411.4 544.0,411.5 544.5,411.5 545.0,411.5 545.5,411.5 546.0,411.6 546.5,411.4 547.0,411.3 547.5,411.4 548.0,411.6 548.5,411.6 549.0,411.4 549.5,411.4 550.0,411.5 550.5,411.6 551.0,411.7 551.5,411.6 552.0,411.4 552.5,411.4 553.0,411.6 553.5,411.7 554.0,411.7 554.5,411.9 555.0,411.9 555.5,411.5 556.0,411.1 556.5,411.0 557.0,411.0 557.5,411.0 558.0,411.0 558.5,411.1 559.0,411.0 559.5,410.8 560.0,411.1 560.5,411.6 561.0,411.8 561.5,411.6 562.0,411.7 562.5,411.7 563.0,411.5 563.5,411.2 564.0,411.0 564.5,410.9 565.0,410.9 565.5,410.8 566.0,410.8 566.5,410.9 567.0,411.0 567.5,411.0 568.0,410.8 568.5,411.0 569.0,411.2 569.5,411.2 570.0,411.2 570.5,411.2 571.0,411.1 571.5,410.8 572.0,410.4 572.5,410.3 573.0,410.1 573.5,410.0 574.0,409.9 574.5,409.8 575.0,409.7 575.5,409.9 576.0,409.9 576.5,409.7 577.0,409.5 577.5,409.5 578.0,409.4 578.5,409.4 579.0,409.3 579.5,409.2 580.0,409.2 580.5,409.1 581.0,408.9 581.5,408.6 582.0,408.4 582.5,408.3 583.0,408.1 583.5,407.6 584.0,407.0 584.5,406.9 585.0,407.1 585.5,407.3 586.0,407.2 586.5,406.9 587.0,406.4 587.5,405.9 588.0,405.5 588.5,405.3 589.0,405.0 589.5,404.7 590.0,404.3 590.5,403.9 591.0,403.5 591.5,402.8 592.0,402.2 592.5,401.6 593.0,401.3 593.5,400.9 594.0,400.4 594.5,399.8 595.0,399.2 595.5,398.4 596.0,397.5 596.5,396.5 597.0,395.8 597.5,395.0 598.0,393.9 598.5,392.8 599.0,391.8 599.5,390.8 600.0,389.7 600.5,388.7 601.0,387.3 601.5,386.0 602.0,385.0 602.5,383.7 603.0,382.2 603.5,380.5 604.0,378.8 604.5,377.1 605.0,375.6 605.5,374.0 606.0,372.1 606.5,370.0 607.0,367.8 607.5,365.9 608.0,364.0 608.5,361.8 609.0,359.3 609.5,357.0 610.0,354.8 610.5,352.4 611.0,349.7 611.5,346.8 612.0,344.2 612.5,341.6 613.0,338.9 613.5,336.2 614.0,333.6 614.5,330.9 615.0,327.9 615.5,324.9 616.0,322.2 616.5,319.4 617.0,316.4 617.5,313.6 618.0,310.9 618.5,308.1 619.0,305.4 619.5,302.8 620.0,300.2 620.5,297.7 621.0,295.3 621.5,293.0 622.0,290.7 622.5,288.2 623.0,285.8 623.5,283.9 624.0,282.3 624.5,280.7 625.0,279.1 625.5,277.6 626.0,276.3 626.5,275.2 627.0,274.3 627.5,273.7 628.0,273.1 628.5,272.8 629.0,272.9 629.5,273.0 630.0,272.9 630.5,273.1 631.0,273.6 631.5,274.2 632.0,274.9 632.5,275.5 633.0,276.2 633.5,277.1 634.0,278.2 634.5,279.2 635.0,280.1 635.5,281.1 636.0,282.1 636.5,283.6 637.0,285.3 637.5,286.9 638.0,288.3 638.5,289.7 639.0,291.1 639.5,292.7 640.0,294.3 640.5,295.9 641.0,297.6 641.5,299.3 642.0,301.1 642.5,302.8 643.0,304.6 643.5,306.3 644.0,308.0 644.5,309.5 645.0,310.8 645.5,312.4 646.0,314.3 646.5,316.3 647.0,317.9 647.5,319.3 648.0,320.5 648.5,321.8 649.0,323.2 649.5,324.5 650.0,325.6 650.5,326.8 651.0,328.2 651.5,329.2 652.0,330.2 652.5,331.6 653.0,332.9 653.5,334.0 654.0,335.0 654.5,335.9 655.0,336.8 655.5,337.7 656.0,338.5 656.5,339.3 657.0,340.3 657.5,341.1 658.0,341.4 658.5,341.9 659.0,342.8 659.5,343.8 660.0,344.4 660.5,344.8 661.0,345.1 661.5,345.5 662.0,346.0 662.5,346.7 663.0,347.1 663.5,347.3 664.0,347.7 664.5,348.3 665.0,348.9 665.5,349.5 666.0,350.0" fill="none" stroke="#3d0a5c" stroke-width="3.0" stroke-linejoin="round" stroke-linecap="round" clip-path="url(#cB2)"/>
<polyline points="400.5,427.4 401.0,427.3 401.5,427.1 402.0,426.7 402.5,426.7 403.0,426.9 403.5,426.9 404.0,426.6 404.5,426.3 405.0,426.3 405.5,426.7 406.0,426.8 406.5,426.7 407.0,426.5 407.5,426.5 408.0,426.8 408.5,427.2 409.0,427.2 409.5,427.0 410.0,426.7 410.5,426.7 411.0,427.0 411.5,427.1 412.0,426.9 412.5,426.8 413.0,426.7 413.5,426.4 414.0,426.2 414.5,426.4 415.0,426.6 415.5,426.4 416.0,426.1 416.5,426.2 417.0,426.7 417.5,426.9 418.0,426.8 418.5,426.6 419.0,426.6 419.5,426.6 420.0,426.6 420.5,426.6 421.0,426.7 421.5,426.9 422.0,426.9 422.5,426.6 423.0,426.5 423.5,426.4 424.0,426.2 424.5,426.2 425.0,426.4 425.5,426.4 426.0,426.5 426.5,426.5 427.0,426.5 427.5,426.6 428.0,426.7 428.5,426.9 429.0,426.8 429.5,426.7 430.0,426.7 430.5,426.7 431.0,426.6 431.5,426.6 432.0,426.6 432.5,426.5 433.0,426.7 433.5,426.8 434.0,426.9 434.5,426.9 435.0,426.7 435.5,426.5 436.0,426.4 436.5,426.3 437.0,426.2 437.5,426.3 438.0,426.4 438.5,426.5 439.0,426.7 439.5,426.7 440.0,426.5 440.5,426.6 441.0,426.7 441.5,426.9 442.0,427.1 442.5,427.0 443.0,426.7 443.5,426.4 444.0,426.2 444.5,426.3 445.0,426.4 445.5,426.4 446.0,426.6 446.5,426.9 447.0,427.0 447.5,427.0 448.0,426.8 448.5,426.6 449.0,426.5 449.5,426.5 450.0,426.4 450.5,426.5 451.0,426.3 451.5,426.3 452.0,426.7 452.5,426.8 453.0,426.5 453.5,426.5 454.0,426.7 454.5,426.4 455.0,426.0 455.5,426.2 456.0,426.6 456.5,426.7 457.0,426.7 457.5,426.6 458.0,426.4 458.5,426.1 459.0,425.9 459.5,426.0 460.0,426.0 460.5,426.3 461.0,426.5 461.5,426.5 462.0,426.3 462.5,426.3 463.0,426.3 463.5,426.2 464.0,426.1 464.5,426.2 465.0,426.4 465.5,426.3 466.0,425.9 466.5,425.6 467.0,425.5 467.5,425.7 468.0,426.0 468.5,425.9 469.0,425.6 469.5,425.5 470.0,425.5 470.5,425.4 471.0,425.3 471.5,425.2 472.0,425.3 472.5,425.1 473.0,424.7 473.5,424.4 474.0,424.1 474.5,423.7 475.0,423.3 475.5,423.1 476.0,422.9 476.5,422.6 477.0,422.2 477.5,422.0 478.0,421.5 478.5,421.1 479.0,421.1 479.5,421.2 480.0,421.2 480.5,421.5 481.0,421.7 481.5,421.8 482.0,421.8 482.5,421.8 483.0,422.0 483.5,422.1 484.0,422.4 484.5,422.9 485.0,423.2 485.5,423.6 486.0,423.7 486.5,423.8 487.0,424.0 487.5,424.0 488.0,423.7 488.5,423.6 489.0,423.7 489.5,423.8 490.0,423.9 490.5,423.7 491.0,423.4 491.5,423.4 492.0,423.5 492.5,423.4 493.0,423.0 493.5,422.6 494.0,422.6 494.5,422.6 495.0,422.6 495.5,422.5 496.0,422.2 496.5,421.8 497.0,421.7 497.5,421.9 498.0,421.9 498.5,421.7 499.0,421.4 499.5,421.3 500.0,421.4 500.5,421.5 501.0,421.2 501.5,420.8 502.0,420.6 502.5,420.6 503.0,420.7 503.5,420.8 504.0,420.7 504.5,420.2 505.0,419.8 505.5,419.5 506.0,419.2 506.5,418.9 507.0,418.5 507.5,418.1 508.0,417.6 508.5,417.1 509.0,416.5 509.5,415.9 510.0,415.2 510.5,414.6 511.0,413.8 511.5,412.7 512.0,411.3 512.5,409.8 513.0,408.4 513.5,406.8 514.0,404.9 514.5,402.8 515.0,400.4 515.5,398.2 516.0,395.8 516.5,393.0 517.0,390.0 517.5,386.8 518.0,383.3 518.5,379.8 519.0,376.6 519.5,373.3 520.0,369.8 520.5,366.4 521.0,363.3 521.5,360.2 522.0,357.3 522.5,354.9 523.0,353.3 523.5,352.3 524.0,351.8 524.5,351.8 525.0,352.3 525.5,353.3 526.0,354.6 526.5,356.2 527.0,358.2 527.5,360.2 528.0,362.6 528.5,365.2 529.0,367.8 529.5,370.7 530.0,374.0 530.5,377.2 531.0,380.2 531.5,383.1 532.0,385.8 532.5,388.3 533.0,390.6 533.5,393.0 534.0,395.2 534.5,397.3 535.0,399.2 535.5,401.1 536.0,402.6 536.5,403.7 537.0,404.7 537.5,405.8 538.0,406.5 538.5,407.1 539.0,407.8 539.5,408.2 540.0,408.5 540.5,408.8 541.0,409.2 541.5,409.6 542.0,409.9 542.5,410.1 543.0,409.9 543.5,409.8 544.0,409.9 544.5,410.0 545.0,409.9 545.5,409.7 546.0,409.6 546.5,409.7 547.0,410.1 547.5,410.3 548.0,410.1 548.5,409.8 549.0,409.8 549.5,409.9 550.0,409.9 550.5,410.0 551.0,410.1 551.5,409.9 552.0,409.6 552.5,409.4 553.0,409.4 553.5,409.5 554.0,409.6 554.5,409.7 555.0,409.6 555.5,409.7 556.0,409.9 556.5,410.1 557.0,409.9 557.5,409.6 558.0,409.7 558.5,409.8 559.0,409.7 559.5,409.7 560.0,409.8 560.5,409.9 561.0,409.7 561.5,409.5 562.0,409.3 562.5,409.1 563.0,409.1 563.5,409.2 564.0,409.3 564.5,409.6 565.0,409.9 565.5,409.7 566.0,409.2 566.5,408.9 567.0,408.8 567.5,408.8 568.0,408.9 568.5,409.2 569.0,409.4 569.5,409.7 570.0,409.9 570.5,409.7 571.0,409.4 571.5,409.2 572.0,409.0 572.5,408.9 573.0,409.1 573.5,409.1 574.0,408.9 574.5,408.5 575.0,408.4 575.5,408.5 576.0,408.7 576.5,408.9 577.0,409.0 577.5,408.9 578.0,408.8 578.5,408.8 579.0,408.7 579.5,408.4 580.0,408.2 580.5,408.1 581.0,407.9 581.5,407.9 582.0,408.0 582.5,408.1 583.0,408.1 583.5,407.9 584.0,407.5 584.5,407.5 585.0,407.6 585.5,407.8 586.0,407.7 586.5,407.4 587.0,407.0 587.5,406.9 588.0,406.7 588.5,406.4 589.0,406.2 589.5,406.2 590.0,406.1 590.5,405.7 591.0,405.2 591.5,405.0 592.0,405.0 592.5,404.7 593.0,404.1 593.5,403.8 594.0,403.8 594.5,403.9 595.0,403.5 595.5,403.1 596.0,403.0 596.5,402.5 597.0,401.6 597.5,401.0 598.0,400.8 598.5,400.5 599.0,400.0 599.5,399.6 600.0,399.4 600.5,399.0 601.0,398.2 601.5,397.4 602.0,396.7 602.5,396.0 603.0,395.2 603.5,394.6 604.0,393.8 604.5,393.0 605.0,392.2 605.5,391.5 606.0,390.8 606.5,389.7 607.0,388.3 607.5,387.0 608.0,385.9 608.5,384.8 609.0,383.6 609.5,382.3 610.0,381.1 610.5,379.9 611.0,378.5 611.5,377.1 612.0,375.5 612.5,373.7 613.0,371.8 613.5,370.1 614.0,368.3 614.5,366.4 615.0,364.4 615.5,362.6 616.0,360.7 616.5,358.7 617.0,356.7 617.5,354.3 618.0,351.8 618.5,349.4 619.0,347.1 619.5,344.7 620.0,342.3 620.5,339.9 621.0,337.5 621.5,334.9 622.0,332.2 622.5,329.4 623.0,326.7 623.5,323.9 624.0,321.2 624.5,318.4 625.0,315.5 625.5,312.7 626.0,310.4 626.5,308.0 627.0,305.3 627.5,302.6 628.0,300.2 628.5,297.9 629.0,295.6 629.5,293.3 630.0,291.0 630.5,288.7 631.0,286.7 631.5,284.8 632.0,282.8 632.5,281.1 633.0,279.6 633.5,278.4 634.0,277.1 634.5,276.1 635.0,275.3 635.5,274.6 636.0,274.0 636.5,273.4 637.0,272.9 637.5,272.5 638.0,272.3 638.5,272.5 639.0,273.1 639.5,273.6 640.0,274.2 640.5,274.6 641.0,275.2 641.5,276.1 642.0,277.0 642.5,277.8 643.0,278.6 643.5,279.7 644.0,281.0 644.5,282.2 645.0,283.6 645.5,284.8 646.0,286.0 646.5,287.3 647.0,288.9 647.5,290.5 648.0,292.1 648.5,293.7 649.0,295.0 649.5,296.4 650.0,298.0 650.5,299.8 651.0,301.5 651.5,303.1 652.0,304.6 652.5,306.1 653.0,307.6 653.5,309.2 654.0,310.9 654.5,312.3 655.0,313.6 655.5,315.1 656.0,316.5 656.5,317.8 657.0,319.2 657.5,320.9 658.0,322.3 658.5,323.4 659.0,324.4 659.5,325.5 660.0,326.7 660.5,327.8 661.0,328.6 661.5,329.5 662.0,330.7 662.5,331.9 663.0,333.0 663.5,333.9 664.0,334.8 664.5,335.4 665.0,336.0 665.5,336.7 666.0,337.4" fill="none" stroke="#0b0bff" stroke-width="3.0" stroke-linejoin="round" stroke-linecap="round" clip-path="url(#cB2)"/>
<polyline points="400.5,426.6 401.0,426.5 401.5,426.5 402.0,426.7 402.5,426.8 403.0,426.6 403.5,426.4 404.0,426.4 404.5,426.6 405.0,426.7 405.5,426.4 406.0,426.2 406.5,426.2 407.0,426.3 407.5,426.3 408.0,426.4 408.5,426.5 409.0,426.3 409.5,426.2 410.0,426.1 410.5,426.1 411.0,426.3 411.5,426.6 412.0,426.7 412.5,426.4 413.0,426.1 413.5,425.9 414.0,426.0 414.5,426.3 415.0,426.4 415.5,426.4 416.0,426.4 416.5,426.4 417.0,426.3 417.5,426.3 418.0,425.9 418.5,425.8 419.0,425.8 419.5,425.9 420.0,426.0 420.5,426.0 421.0,426.1 421.5,426.2 422.0,426.3 422.5,426.3 423.0,426.1 423.5,425.9 424.0,425.9 424.5,426.1 425.0,426.4 425.5,426.5 426.0,426.6 426.5,426.6 427.0,426.5 427.5,426.3 428.0,426.5 428.5,426.7 429.0,426.7 429.5,426.5 430.0,426.3 430.5,426.1 431.0,426.0 431.5,425.8 432.0,425.9 432.5,426.1 433.0,426.2 433.5,426.2 434.0,426.3 434.5,426.4 435.0,426.3 435.5,426.2 436.0,426.1 436.5,426.1 437.0,426.2 437.5,426.2 438.0,426.0 438.5,426.0 439.0,426.2 439.5,426.3 440.0,426.3 440.5,426.3 441.0,426.2 441.5,426.0 442.0,425.8 442.5,425.7 443.0,425.8 443.5,425.9 444.0,426.1 444.5,426.4 445.0,426.3 445.5,425.9 446.0,425.8 446.5,426.1 447.0,426.2 447.5,426.0 448.0,425.9 448.5,425.8 449.0,425.7 449.5,425.6 450.0,425.5 450.5,425.5 451.0,425.7 451.5,426.0 452.0,426.1 452.5,426.0 453.0,425.9 453.5,425.9 454.0,425.9 454.5,425.8 455.0,425.7 455.5,425.6 456.0,425.4 456.5,425.4 457.0,425.5 457.5,425.7 458.0,425.9 458.5,426.0 459.0,425.9 459.5,425.7 460.0,425.9 460.5,426.1 461.0,426.2 461.5,426.0 462.0,425.7 462.5,425.7 463.0,425.8 463.5,425.9 464.0,425.8 464.5,425.9 465.0,426.1 465.5,426.1 466.0,425.9 466.5,425.5 467.0,425.2 467.5,425.2 468.0,425.4 468.5,425.2 469.0,424.9 469.5,425.1 470.0,425.5 470.5,425.4 471.0,425.2 471.5,425.1 472.0,424.9 472.5,424.8 473.0,424.8 473.5,424.5 474.0,424.0 474.5,423.4 475.0,423.1 475.5,423.0 476.0,423.2 476.5,423.1 477.0,422.6 477.5,422.2 478.0,421.7 478.5,421.4 479.0,421.3 479.5,421.1 480.0,420.6 480.5,420.2 481.0,420.1 481.5,420.3 482.0,420.5 482.5,420.6 483.0,420.8 483.5,421.0 484.0,421.4 484.5,421.7 485.0,421.8 485.5,422.0 486.0,422.3 486.5,422.6 487.0,422.7 487.5,422.6 488.0,422.8 488.5,423.1 489.0,423.4 489.5,423.4 490.0,423.3 490.5,423.2 491.0,423.0 491.5,422.8 492.0,422.7 492.5,422.7 493.0,422.6 493.5,422.3 494.0,421.9 494.5,421.7 495.0,421.7 495.5,421.6 496.0,421.5 496.5,421.3 497.0,421.2 497.5,421.2 498.0,421.4 498.5,421.4 499.0,421.3 499.5,421.2 500.0,421.0 500.5,420.8 501.0,420.8 501.5,421.0 502.0,421.1 502.5,421.0 503.0,420.7 503.5,420.5 504.0,420.4 504.5,420.4 505.0,420.4 505.5,420.4 506.0,420.3 506.5,420.2 507.0,420.0 507.5,419.9 508.0,419.7 508.5,419.5 509.0,419.4 509.5,419.1 510.0,418.6 510.5,418.4 511.0,418.3 511.5,417.9 512.0,417.3 512.5,416.9 513.0,416.7 513.5,416.5 514.0,416.2 514.5,415.7 515.0,415.2 515.5,414.3 516.0,413.0 516.5,412.0 517.0,410.9 517.5,409.4 518.0,408.0 518.5,406.8 519.0,405.4 519.5,403.5 520.0,401.1 520.5,398.8 521.0,396.6 521.5,394.2 522.0,391.7 522.5,389.0 523.0,386.1 523.5,382.9 524.0,379.6 524.5,376.4 525.0,373.1 525.5,369.7 526.0,366.5 526.5,363.4 527.0,360.8 527.5,358.6 528.0,356.7 528.5,355.0 529.0,353.6 529.5,352.7 530.0,352.3 530.5,352.3 531.0,352.9 531.5,353.8 532.0,355.0 532.5,356.6 533.0,358.4 533.5,360.5 534.0,362.8 534.5,365.4 535.0,368.1 535.5,370.6 536.0,373.3 536.5,376.1 537.0,378.8 537.5,381.4 538.0,384.3 538.5,386.8 539.0,389.0 539.5,391.3 540.0,393.4 540.5,395.2 541.0,396.9 541.5,398.6 542.0,400.2 542.5,401.5 543.0,402.5 543.5,403.4 544.0,404.3 544.5,404.9 545.0,405.5 545.5,405.9 546.0,406.1 546.5,406.4 547.0,406.7 547.5,407.0 548.0,407.3 548.5,407.7 549.0,408.0 549.5,408.1 550.0,408.1 550.5,408.1 551.0,407.9 551.5,407.6 552.0,407.7 552.5,407.9 553.0,407.8 553.5,407.8 554.0,407.8 554.5,407.6 555.0,407.4 555.5,407.3 556.0,407.5 556.5,407.9 557.0,408.0 557.5,407.8 558.0,407.8 558.5,407.9 559.0,408.1 559.5,408.1 560.0,407.7 560.5,407.3 561.0,407.3 561.5,407.3 562.0,407.3 562.5,407.3 563.0,407.4 563.5,407.5 564.0,407.6 564.5,407.7 565.0,407.8 565.5,407.7 566.0,407.4 566.5,407.1 567.0,407.0 567.5,407.2 568.0,407.3 568.5,407.2 569.0,407.4 569.5,407.7 570.0,407.9 570.5,407.7 571.0,407.5 571.5,407.6 572.0,407.5 572.5,407.5 573.0,407.4 573.5,407.3 574.0,407.3 574.5,407.3 575.0,407.2 575.5,406.9 576.0,406.8 576.5,406.9 577.0,407.0 577.5,407.0 578.0,407.0 578.5,407.1 579.0,407.1 579.5,406.9 580.0,406.8 580.5,406.7 581.0,406.6 581.5,406.6 582.0,406.7 582.5,406.8 583.0,407.0 583.5,407.1 584.0,407.0 584.5,406.7 585.0,406.5 585.5,406.3 586.0,406.2 586.5,406.2 587.0,406.1 587.5,405.9 588.0,405.6 588.5,405.4 589.0,405.6 589.5,405.8 590.0,405.9 590.5,405.7 591.0,405.4 591.5,405.3 592.0,405.1 592.5,404.8 593.0,404.5 593.5,404.3 594.0,404.4 594.5,404.3 595.0,403.8 595.5,403.7 596.0,403.7 596.5,403.6 597.0,403.2 597.5,402.8 598.0,402.7 598.5,402.8 599.0,402.6 599.5,402.3 600.0,401.9 600.5,401.5 601.0,401.1 601.5,400.7 602.0,400.6 602.5,400.5 603.0,400.2 603.5,399.6 604.0,399.2 604.5,399.0 605.0,398.6 605.5,397.9 606.0,397.5 606.5,397.3 607.0,397.0 607.5,396.5 608.0,395.7 608.5,394.9 609.0,394.7 609.5,394.3 610.0,393.6 610.5,392.8 611.0,392.1 611.5,391.4 612.0,390.4 612.5,389.6 613.0,389.0 613.5,388.3 614.0,387.5 614.5,386.5 615.0,385.4 615.5,384.2 616.0,383.2 616.5,382.4 617.0,381.4 617.5,380.3 618.0,379.3 618.5,378.1 619.0,376.8 619.5,375.5 620.0,374.2 620.5,372.8 621.0,371.3 621.5,369.7 622.0,368.1 622.5,366.4 623.0,364.7 623.5,362.9 624.0,361.2 624.5,359.7 625.0,357.9 625.5,356.1 626.0,354.4 626.5,352.4 627.0,349.9 627.5,347.5 628.0,345.4 628.5,343.4 629.0,341.5 629.5,339.5 630.0,337.3 630.5,334.9 631.0,332.6 631.5,330.2 632.0,327.9 632.5,325.8 633.0,323.7 633.5,321.1 634.0,318.3 634.5,315.9 635.0,313.8 635.5,311.6 636.0,309.4 636.5,307.4 637.0,305.0 637.5,302.3 638.0,300.2 638.5,298.3 639.0,296.2 639.5,294.1 640.0,292.4 640.5,290.4 641.0,288.0 641.5,285.9 642.0,284.4 642.5,283.2 643.0,281.9 643.5,280.4 644.0,279.0 644.5,277.8 645.0,276.7 645.5,275.5 646.0,274.7 646.5,274.3 647.0,274.0 647.5,273.5 648.0,273.1 648.5,272.8 649.0,272.7 649.5,272.6 650.0,272.7 650.5,273.0 651.0,273.3 651.5,273.7 652.0,274.3 652.5,274.8 653.0,275.3 653.5,276.1 654.0,276.7 654.5,277.4 655.0,278.3 655.5,279.3 656.0,280.2 656.5,281.2 657.0,282.3 657.5,283.5 658.0,284.8 658.5,285.9 659.0,286.9 659.5,288.1 660.0,289.4 660.5,290.6 661.0,291.8 661.5,293.0 662.0,294.3 662.5,295.7 663.0,297.0 663.5,298.1 664.0,299.1 664.5,300.3 665.0,301.6 665.5,302.6 666.0,303.5" fill="none" stroke="#3b87b6" stroke-width="3.0" stroke-linejoin="round" stroke-linecap="round" clip-path="url(#cB2)"/>
<polyline points="400.5,424.8 401.0,425.2 401.5,425.4 402.0,425.4 402.5,425.3 403.0,425.3 403.5,425.3 404.0,425.2 404.5,425.0 405.0,424.8 405.5,424.9 406.0,425.0 406.5,425.0 407.0,425.2 407.5,425.4 408.0,425.4 408.5,425.5 409.0,425.3 409.5,424.9 410.0,424.8 410.5,425.0 411.0,425.1 411.5,425.3 412.0,425.3 412.5,425.3 413.0,425.5 413.5,425.6 414.0,425.4 414.5,425.1 415.0,425.0 415.5,425.2 416.0,425.3 416.5,425.2 417.0,425.1 417.5,425.1 418.0,425.2 418.5,425.1 419.0,425.1 419.5,425.2 420.0,425.4 420.5,425.4 421.0,425.3 421.5,425.1 422.0,425.1 422.5,425.1 423.0,425.3 423.5,425.2 424.0,425.0 424.5,425.0 425.0,425.5 425.5,425.7 426.0,425.6 426.5,425.4 427.0,425.5 427.5,425.6 428.0,425.4 428.5,425.3 429.0,425.3 429.5,425.2 430.0,425.1 430.5,425.0 431.0,425.0 431.5,425.1 432.0,425.3 432.5,425.2 433.0,424.8 433.5,424.6 434.0,424.8 434.5,425.0 435.0,425.1 435.5,425.2 436.0,425.1 436.5,424.8 437.0,424.7 437.5,424.8 438.0,425.0 438.5,425.2 439.0,425.2 439.5,425.2 440.0,425.2 440.5,425.3 441.0,425.2 441.5,425.0 442.0,425.0 442.5,424.9 443.0,424.9 443.5,424.8 444.0,424.8 444.5,424.9 445.0,425.0 445.5,424.9 446.0,424.9 446.5,425.0 447.0,425.1 447.5,424.9 448.0,424.8 448.5,424.8 449.0,424.9 449.5,424.9 450.0,424.6 450.5,424.5 451.0,424.8 451.5,425.0 452.0,424.8 452.5,424.5 453.0,424.5 453.5,424.8 454.0,424.9 454.5,424.7 455.0,424.7 455.5,424.8 456.0,424.8 456.5,424.9 457.0,425.0 457.5,424.9 458.0,424.9 458.5,424.9 459.0,424.5 459.5,424.4 460.0,424.6 460.5,424.7 461.0,424.6 461.5,424.7 462.0,424.6 462.5,424.5 463.0,424.3 463.5,424.2 464.0,424.2 464.5,424.4 465.0,424.6 465.5,424.7 466.0,424.6 466.5,424.5 467.0,424.4 467.5,424.3 468.0,424.4 468.5,424.4 469.0,424.2 469.5,424.1 470.0,424.1 470.5,424.0 471.0,423.9 471.5,423.8 472.0,423.8 472.5,423.9 473.0,424.0 473.5,423.7 474.0,423.4 474.5,423.0 475.0,422.7 475.5,422.5 476.0,422.3 476.5,422.3 477.0,422.1 477.5,421.7 478.0,421.3 478.5,420.9 479.0,420.4 479.5,419.9 480.0,419.5 480.5,419.3 481.0,419.1 481.5,419.0 482.0,419.0 482.5,419.1 483.0,419.5 483.5,419.9 484.0,420.0 484.5,420.0 485.0,420.0 485.5,420.3 486.0,420.6 486.5,420.6 487.0,420.6 487.5,420.7 488.0,421.3 488.5,421.7 489.0,421.8 489.5,421.8 490.0,421.8 490.5,421.8 491.0,421.6 491.5,421.3 492.0,421.3 492.5,421.4 493.0,421.4 493.5,421.3 494.0,421.2 494.5,421.2 495.0,421.1 495.5,420.8 496.0,420.5 496.5,420.4 497.0,420.2 497.5,419.8 498.0,419.8 498.5,420.0 499.0,420.3 499.5,420.2 500.0,420.2 500.5,420.2 501.0,420.1 501.5,419.9 502.0,420.0 502.5,420.1 503.0,419.7 503.5,419.4 504.0,419.5 504.5,419.6 505.0,419.6 505.5,419.5 506.0,419.3 506.5,419.2 507.0,419.1 507.5,419.0 508.0,418.8 508.5,418.7 509.0,418.5 509.5,418.4 510.0,418.5 510.5,418.9 511.0,419.1 511.5,418.9 512.0,418.7 512.5,418.6 513.0,418.3 513.5,418.2 514.0,418.1 514.5,417.9 515.0,417.6 515.5,417.1 516.0,416.7 516.5,416.2 517.0,415.6 517.5,415.2 518.0,414.8 518.5,414.3 519.0,413.8 519.5,413.3 520.0,412.6 520.5,411.8 521.0,410.8 521.5,409.7 522.0,408.3 522.5,406.9 523.0,405.5 523.5,403.9 524.0,402.2 524.5,400.3 525.0,397.9 525.5,395.4 526.0,393.2 526.5,390.9 527.0,388.2 527.5,385.4 528.0,382.8 528.5,380.0 529.0,376.9 529.5,373.8 530.0,370.6 530.5,367.6 531.0,365.0 531.5,362.7 532.0,360.5 532.5,358.3 533.0,356.1 533.5,354.4 534.0,353.4 534.5,352.7 535.0,352.4 535.5,352.9 536.0,353.5 536.5,354.3 537.0,355.3 537.5,356.7 538.0,358.4 538.5,360.2 539.0,362.3 539.5,364.6 540.0,367.1 540.5,369.6 541.0,371.8 541.5,374.0 542.0,376.5 542.5,379.1 543.0,381.5 543.5,383.8 544.0,386.0 544.5,388.1 545.0,390.3 545.5,392.2 546.0,393.7 546.5,394.9 547.0,396.1 547.5,397.3 548.0,398.6 548.5,399.6 549.0,400.4 549.5,401.1 550.0,401.6 550.5,402.0 551.0,402.5 551.5,403.2 552.0,403.7 552.5,403.9 553.0,404.1 553.5,404.4 554.0,404.7 554.5,404.9 555.0,405.0 555.5,405.0 556.0,405.0 556.5,405.0 557.0,404.8 557.5,404.8 558.0,405.0 558.5,405.1 559.0,405.2 559.5,405.2 560.0,405.0 560.5,404.6 561.0,404.7 561.5,404.9 562.0,404.9 562.5,404.9 563.0,404.9 563.5,404.8 564.0,404.7 564.5,404.7 565.0,405.0 565.5,405.0 566.0,404.8 566.5,404.9 567.0,405.1 567.5,405.1 568.0,405.0 568.5,404.9 569.0,404.7 569.5,404.7 570.0,404.8 570.5,404.8 571.0,404.7 571.5,404.6 572.0,404.6 572.5,404.7 573.0,405.0 573.5,404.9 574.0,404.6 574.5,404.4 575.0,404.4 575.5,404.4 576.0,404.4 576.5,404.5 577.0,404.7 577.5,404.8 578.0,404.6 578.5,404.3 579.0,404.1 579.5,404.3 580.0,404.6 580.5,404.7 581.0,404.8 581.5,404.7 582.0,404.4 582.5,404.1 583.0,404.0 583.5,403.9 584.0,403.7 584.5,403.7 585.0,403.7 585.5,403.7 586.0,403.8 586.5,404.1 587.0,404.1 587.5,403.8 588.0,403.7 588.5,403.8 589.0,403.5 589.5,403.3 590.0,403.3 590.5,403.1 591.0,403.0 591.5,403.1 592.0,403.4 592.5,403.4 593.0,403.1 593.5,402.7 594.0,402.3 594.5,402.2 595.0,402.4 595.5,402.6 596.0,402.4 596.5,402.1 597.0,402.0 597.5,401.8 598.0,401.7 598.5,401.7 599.0,401.5 599.5,401.4 600.0,401.4 600.5,401.2 601.0,401.0 601.5,401.0 602.0,400.8 602.5,400.5 603.0,400.0 603.5,399.7 604.0,399.7 604.5,399.7 605.0,399.5 605.5,399.2 606.0,399.0 606.5,398.8 607.0,398.5 607.5,398.2 608.0,397.9 608.5,397.6 609.0,397.4 609.5,397.2 610.0,396.7 610.5,396.1 611.0,395.5 611.5,395.2 612.0,394.9 612.5,394.6 613.0,394.4 613.5,394.0 614.0,393.3 614.5,392.8 615.0,392.4 615.5,391.7 616.0,391.1 616.5,390.7 617.0,390.3 617.5,389.9 618.0,389.2 618.5,388.3 619.0,387.6 619.5,387.0 620.0,386.3 620.5,385.6 621.0,384.8 621.5,384.1 622.0,383.4 622.5,382.5 623.0,381.5 623.5,380.4 624.0,379.4 624.5,378.5 625.0,377.5 625.5,376.4 626.0,375.5 626.5,374.8 627.0,373.8 627.5,372.7 628.0,371.4 628.5,369.9 629.0,368.4 629.5,367.0 630.0,365.8 630.5,364.7 631.0,363.4 631.5,362.1 632.0,360.8 632.5,359.1 633.0,357.1 633.5,355.4 634.0,353.7 634.5,351.9 635.0,349.9 635.5,348.1 636.0,346.6 636.5,344.9 637.0,343.0 637.5,341.3 638.0,339.5 638.5,337.6 639.0,335.8 639.5,333.9 640.0,331.7 640.5,329.5 641.0,327.5 641.5,325.3 642.0,323.0 642.5,321.0 643.0,318.9 643.5,316.6 644.0,314.4 644.5,312.4 645.0,310.4 645.5,308.5 646.0,306.4 646.5,304.2 647.0,302.3 647.5,300.4 648.0,298.4 648.5,296.6 649.0,294.8 649.5,292.8 650.0,291.0 650.5,289.3 651.0,287.9 651.5,286.2 652.0,284.5 652.5,283.0 653.0,281.9 653.5,280.9 654.0,279.7 654.5,278.5 655.0,277.4 655.5,276.5 656.0,275.7 656.5,274.9 657.0,274.4 657.5,274.0 658.0,273.7 658.5,273.5 659.0,273.2 659.5,273.0 660.0,273.0 660.5,273.1 661.0,273.2 661.5,273.5 662.0,273.9 662.5,274.3 663.0,274.7 663.5,274.9 664.0,275.1 664.5,275.8 665.0,276.5 665.5,276.9 666.0,277.3" fill="none" stroke="#33ff14" stroke-width="3.0" stroke-linejoin="round" stroke-linecap="round" clip-path="url(#cB2)"/>
<polyline points="400.5,426.1 401.0,426.5 401.5,426.5 402.0,426.4 402.5,426.4 403.0,426.6 403.5,426.7 404.0,426.4 404.5,426.2 405.0,426.1 405.5,426.0 406.0,426.1 406.5,426.5 407.0,426.8 407.5,426.8 408.0,426.5 408.5,426.3 409.0,426.4 409.5,426.5 410.0,426.4 410.5,426.3 411.0,426.6 411.5,427.0 412.0,427.1 412.5,427.0 413.0,426.7 413.5,426.5 414.0,426.5 414.5,426.5 415.0,426.5 415.5,426.4 416.0,426.4 416.5,426.5 417.0,426.6 417.5,426.6 418.0,426.6 418.5,426.6 419.0,426.7 419.5,426.7 420.0,426.5 420.5,426.2 421.0,426.1 421.5,426.4 422.0,426.6 422.5,426.4 423.0,426.4 423.5,426.5 424.0,426.3 424.5,426.1 425.0,426.1 425.5,426.1 426.0,426.3 426.5,426.5 427.0,426.5 427.5,426.3 428.0,426.2 428.5,426.3 429.0,426.5 429.5,426.5 430.0,426.5 430.5,426.5 431.0,426.4 431.5,426.3 432.0,426.1 432.5,425.9 433.0,426.0 433.5,426.2 434.0,426.3 434.5,426.4 435.0,426.7 435.5,426.7 436.0,426.4 436.5,426.3 437.0,426.1 437.5,426.0 438.0,426.3 438.5,426.7 439.0,426.7 439.5,426.7 440.0,426.8 440.5,426.8 441.0,426.7 441.5,426.3 442.0,426.2 442.5,426.4 443.0,426.5 443.5,426.4 444.0,426.3 444.5,426.1 445.0,426.1 445.5,425.9 446.0,425.7 446.5,425.7 447.0,425.7 447.5,425.8 448.0,426.1 448.5,426.3 449.0,426.2 449.5,425.9 450.0,425.8 450.5,426.0 451.0,426.2 451.5,426.3 452.0,426.3 452.5,426.4 453.0,426.5 453.5,426.4 454.0,426.3 454.5,426.2 455.0,425.9 455.5,425.8 456.0,425.8 456.5,425.7 457.0,425.8 457.5,425.9 458.0,425.7 458.5,425.5 459.0,425.5 459.5,425.8 460.0,426.2 460.5,426.2 461.0,425.9 461.5,425.3 462.0,425.1 462.5,425.5 463.0,425.9 463.5,425.8 464.0,425.4 464.5,425.4 465.0,425.7 465.5,425.9 466.0,425.9 466.5,425.8 467.0,425.6 467.5,425.7 468.0,425.8 468.5,425.8 469.0,425.6 469.5,425.5 470.0,425.9 470.5,426.2 471.0,426.0 471.5,425.6 472.0,425.5 472.5,425.6 473.0,425.6 473.5,425.7 474.0,425.6 474.5,425.3 475.0,425.1 475.5,425.0 476.0,424.9 476.5,424.8 477.0,424.9 477.5,424.9 478.0,424.8 478.5,424.6 479.0,424.3 479.5,424.4 480.0,424.4 480.5,424.0 481.0,423.6 481.5,423.5 482.0,423.4 482.5,423.0 483.0,422.5 483.5,422.4 484.0,422.6 484.5,422.7 485.0,422.5 485.5,422.4 486.0,422.1 486.5,421.8 487.0,421.6 487.5,421.5 488.0,421.7 488.5,421.9 489.0,421.9 489.5,421.7 490.0,421.7 490.5,421.7 491.0,421.8 491.5,421.9 492.0,422.1 492.5,422.0 493.0,421.8 493.5,421.9 494.0,421.9 494.5,421.9 495.0,421.9 495.5,421.9 496.0,421.7 496.5,421.4 497.0,421.4 497.5,421.4 498.0,421.4 498.5,421.3 499.0,421.1 499.5,421.2 500.0,421.2 500.5,421.4 501.0,421.6 501.5,421.5 502.0,421.4 502.5,421.4 503.0,421.2 503.5,420.9 504.0,420.7 504.5,421.0 505.0,421.3 505.5,421.3 506.0,421.1 506.5,421.1 507.0,421.2 507.5,421.0 508.0,420.7 508.5,420.4 509.0,420.4 509.5,420.3 510.0,420.2 510.5,420.4 511.0,420.5 511.5,420.6 512.0,420.6 512.5,420.1 513.0,419.6 513.5,419.5 514.0,419.8 514.5,419.7 515.0,419.4 515.5,419.1 516.0,419.0 516.5,419.0 517.0,419.0 517.5,418.8 518.0,418.6 518.5,418.4 519.0,418.2 519.5,417.7 520.0,417.1 520.5,417.0 521.0,417.1 521.5,416.7 522.0,416.0 522.5,415.4 523.0,414.9 523.5,414.5 524.0,413.9 524.5,413.0 525.0,412.0 525.5,410.9 526.0,409.7 526.5,408.5 527.0,407.4 527.5,406.2 528.0,404.8 528.5,403.3 529.0,401.7 529.5,399.9 530.0,398.0 530.5,396.0 531.0,393.8 531.5,391.4 532.0,388.9 532.5,386.2 533.0,383.4 533.5,380.4 534.0,377.7 534.5,375.0 535.0,372.2 535.5,369.6 536.0,367.4 536.5,365.5 537.0,363.4 537.5,361.5 538.0,359.7 538.5,358.2 539.0,356.8 539.5,355.9 540.0,355.5 540.5,355.4 541.0,355.7 541.5,356.4 542.0,357.5 542.5,358.6 543.0,359.8 543.5,361.1 544.0,362.6 544.5,364.7 545.0,366.8 545.5,368.6 546.0,370.4 546.5,372.3 547.0,374.6 547.5,377.0 548.0,379.4 548.5,381.6 549.0,383.7 549.5,385.8 550.0,388.0 550.5,390.0 551.0,391.7 551.5,393.2 552.0,394.7 552.5,395.8 553.0,396.6 553.5,397.6 554.0,398.7 554.5,399.8 555.0,400.5 555.5,400.9 556.0,401.5 556.5,402.1 557.0,402.5 557.5,403.0 558.0,403.5 558.5,403.7 559.0,403.8 559.5,404.0 560.0,404.2 560.5,404.4 561.0,404.5 561.5,404.5 562.0,404.4 562.5,404.3 563.0,404.3 563.5,404.5 564.0,404.6 564.5,404.5 565.0,404.4 565.5,404.5 566.0,404.6 566.5,404.6 567.0,404.6 567.5,404.8 568.0,405.0 568.5,405.0 569.0,404.6 569.5,404.2 570.0,404.2 570.5,404.5 571.0,404.7 571.5,404.6 572.0,404.6 572.5,404.5 573.0,404.2 573.5,403.9 574.0,403.8 574.5,403.8 575.0,403.8 575.5,403.8 576.0,403.9 576.5,404.0 577.0,404.2 577.5,404.2 578.0,404.1 578.5,403.8 579.0,403.6 579.5,403.7 580.0,404.2 580.5,404.5 581.0,404.3 581.5,403.9 582.0,403.9 582.5,403.9 583.0,403.9 583.5,403.7 584.0,403.4 584.5,403.3 585.0,403.6 585.5,403.8 586.0,403.6 586.5,403.3 587.0,403.3 587.5,403.4 588.0,403.5 588.5,403.5 589.0,403.5 589.5,403.3 590.0,403.2 590.5,403.3 591.0,403.0 591.5,403.0 592.0,403.3 592.5,403.3 593.0,403.0 593.5,402.6 594.0,402.7 594.5,402.7 595.0,402.6 595.5,402.2 596.0,401.9 596.5,402.0 597.0,402.5 597.5,402.7 598.0,402.6 598.5,402.5 599.0,402.3 599.5,402.0 600.0,401.7 600.5,401.5 601.0,401.3 601.5,401.2 602.0,401.3 602.5,401.1 603.0,401.0 603.5,400.9 604.0,400.6 604.5,400.4 605.0,400.5 605.5,400.6 606.0,400.5 606.5,400.2 607.0,400.1 607.5,399.9 608.0,399.6 608.5,399.4 609.0,399.1 609.5,398.8 610.0,398.6 610.5,398.6 611.0,398.3 611.5,398.2 612.0,398.1 612.5,397.8 613.0,397.4 613.5,397.0 614.0,396.7 614.5,396.4 615.0,396.4 615.5,396.3 616.0,395.8 616.5,395.3 617.0,395.2 617.5,395.1 618.0,394.8 618.5,394.4 619.0,393.9 619.5,393.4 620.0,393.2 620.5,392.9 621.0,392.8 621.5,392.6 622.0,392.3 622.5,392.0 623.0,391.4 623.5,390.9 624.0,390.5 624.5,390.0 625.0,389.2 625.5,388.3 626.0,387.9 626.5,387.6 627.0,386.9 627.5,386.1 628.0,385.5 628.5,385.2 629.0,384.6 629.5,383.7 630.0,382.9 630.5,382.0 631.0,381.2 631.5,380.6 632.0,380.1 632.5,379.3 633.0,378.3 633.5,377.3 634.0,376.5 634.5,375.4 635.0,374.4 635.5,373.4 636.0,372.5 636.5,371.4 637.0,370.1 637.5,368.7 638.0,367.6 638.5,366.6 639.0,365.4 639.5,364.1 640.0,362.8 640.5,361.5 641.0,360.1 641.5,358.6 642.0,357.2 642.5,355.8 643.0,354.5 643.5,353.2 644.0,351.8 644.5,350.3 645.0,348.6 645.5,346.7 646.0,345.0 646.5,343.4 647.0,341.5 647.5,339.6 648.0,337.8 648.5,335.9 649.0,334.0 649.5,332.2 650.0,330.5 650.5,328.4 651.0,326.2 651.5,324.1 652.0,322.1 652.5,320.3 653.0,318.3 653.5,316.4 654.0,314.5 654.5,312.5 655.0,310.5 655.5,308.2 656.0,306.0 656.5,304.0 657.0,302.2 657.5,300.5 658.0,298.9 658.5,297.1 659.0,295.2 659.5,293.6 660.0,291.9 660.5,290.0 661.0,288.2 661.5,286.6 662.0,285.5 662.5,284.2 663.0,282.8 663.5,281.4 664.0,280.2 664.5,279.1 665.0,278.2 665.5,277.3 666.0,276.4" fill="none" stroke="#a8892a" stroke-width="3.0" stroke-linejoin="round" stroke-linecap="round" clip-path="url(#cB2)"/>
<polyline points="400.5,427.5 401.0,427.4 401.5,427.5 402.0,427.7 402.5,427.9 403.0,427.9 403.5,427.7 404.0,427.9 404.5,428.1 405.0,428.0 405.5,428.0 406.0,428.0 406.5,427.7 407.0,427.4 407.5,427.5 408.0,427.5 408.5,427.4 409.0,427.5 409.5,427.5 410.0,427.5 410.5,427.5 411.0,427.6 411.5,427.6 412.0,427.4 412.5,427.2 413.0,427.3 413.5,427.4 414.0,427.6 414.5,427.8 415.0,427.8 415.5,427.5 416.0,427.4 416.5,427.4 417.0,427.5 417.5,427.4 418.0,427.3 418.5,427.3 419.0,427.2 419.5,427.3 420.0,427.3 420.5,427.4 421.0,427.5 421.5,427.5 422.0,427.5 422.5,427.2 423.0,427.0 423.5,427.0 424.0,427.3 424.5,427.5 425.0,427.7 425.5,427.7 426.0,427.7 426.5,427.7 427.0,427.6 427.5,427.5 428.0,427.5 428.5,427.5 429.0,427.5 429.5,427.7 430.0,427.7 430.5,427.4 431.0,427.2 431.5,427.3 432.0,427.5 432.5,427.6 433.0,427.6 433.5,427.5 434.0,427.4 434.5,427.3 435.0,427.2 435.5,427.4 436.0,427.4 436.5,427.4 437.0,427.4 437.5,427.6 438.0,427.6 438.5,427.4 439.0,427.1 439.5,427.3 440.0,427.7 440.5,427.9 441.0,427.9 441.5,427.7 442.0,427.7 442.5,427.7 443.0,427.4 443.5,427.2 444.0,427.2 444.5,427.4 445.0,427.3 445.5,427.1 446.0,426.9 446.5,427.0 447.0,427.3 447.5,427.5 448.0,427.5 448.5,427.3 449.0,427.1 449.5,427.0 450.0,426.9 450.5,427.1 451.0,427.3 451.5,427.1 452.0,426.9 452.5,426.8 453.0,426.8 453.5,426.8 454.0,426.8 454.5,426.8 455.0,427.0 455.5,427.4 456.0,427.6 456.5,427.5 457.0,427.3 457.5,427.2 458.0,427.2 458.5,427.3 459.0,427.2 459.5,426.9 460.0,426.6 460.5,426.7 461.0,426.8 461.5,426.7 462.0,426.6 462.5,426.7 463.0,427.0 463.5,427.2 464.0,427.3 464.5,427.3 465.0,427.2 465.5,427.1 466.0,426.8 466.5,426.7 467.0,426.6 467.5,426.5 468.0,426.5 468.5,426.4 469.0,426.2 469.5,426.3 470.0,426.5 470.5,426.9 471.0,427.0 471.5,426.9 472.0,426.8 472.5,426.8 473.0,426.9 473.5,426.9 474.0,426.7 474.5,426.7 475.0,426.8 475.5,426.9 476.0,426.9 476.5,427.0 477.0,426.9 477.5,426.6 478.0,426.4 478.5,426.3 479.0,426.3 479.5,426.6 480.0,426.9 480.5,426.9 481.0,426.6 481.5,426.3 482.0,426.2 482.5,426.3 483.0,426.3 483.5,426.3 484.0,426.2 484.5,426.1 485.0,426.2 485.5,426.4 486.0,426.2 486.5,425.8 487.0,425.5 487.5,425.4 488.0,425.2 488.5,424.8 489.0,424.7 489.5,424.6 490.0,424.2 490.5,423.8 491.0,423.6 491.5,423.3 492.0,422.8 492.5,422.3 493.0,422.0 493.5,421.9 494.0,421.8 494.5,421.4 495.0,421.0 495.5,421.1 496.0,421.2 496.5,421.2 497.0,421.2 497.5,421.1 498.0,421.1 498.5,420.9 499.0,420.9 499.5,421.0 500.0,421.4 500.5,421.8 501.0,421.9 501.5,421.9 502.0,421.6 502.5,421.5 503.0,421.6 503.5,421.6 504.0,421.5 504.5,421.6 505.0,421.7 505.5,421.7 506.0,421.7 506.5,421.7 507.0,422.0 507.5,422.2 508.0,422.1 508.5,421.9 509.0,422.1 509.5,422.3 510.0,422.4 510.5,422.5 511.0,422.4 511.5,422.1 512.0,421.8 512.5,421.7 513.0,421.7 513.5,421.7 514.0,421.7 514.5,421.9 515.0,422.0 515.5,421.7 516.0,421.4 516.5,421.3 517.0,421.4 517.5,421.5 518.0,421.5 518.5,421.3 519.0,421.1 519.5,421.1 520.0,421.0 520.5,420.9 521.0,421.0 521.5,421.1 522.0,420.9 522.5,420.6 523.0,420.4 523.5,420.3 524.0,420.2 524.5,420.0 525.0,419.9 525.5,419.5 526.0,419.1 526.5,418.9 527.0,418.7 527.5,418.4 528.0,418.0 528.5,417.6 529.0,417.2 529.5,416.8 530.0,416.3 530.5,415.6 531.0,414.6 531.5,413.8 532.0,412.8 532.5,411.8 533.0,410.9 533.5,410.1 534.0,409.2 534.5,407.8 535.0,406.0 535.5,404.6 536.0,403.2 536.5,401.6 537.0,400.0 537.5,398.1 538.0,396.1 538.5,394.1 539.0,392.0 539.5,389.8 540.0,387.5 540.5,385.0 541.0,382.5 541.5,380.0 542.0,377.7 542.5,375.3 543.0,372.9 543.5,370.6 544.0,368.4 544.5,366.2 545.0,364.3 545.5,362.9 546.0,361.8 546.5,360.7 547.0,359.7 547.5,359.1 548.0,358.8 548.5,358.8 549.0,359.3 549.5,360.0 550.0,360.4 550.5,361.1 551.0,362.3 551.5,363.8 552.0,365.3 552.5,367.0 553.0,368.5 553.5,370.0 554.0,371.8 554.5,374.0 555.0,376.1 555.5,378.0 556.0,380.0 556.5,381.9 557.0,383.5 557.5,385.1 558.0,386.7 558.5,388.4 559.0,390.1 559.5,391.8 560.0,393.1 560.5,394.2 561.0,395.3 561.5,396.6 562.0,397.7 562.5,398.6 563.0,399.3 563.5,399.9 564.0,400.6 564.5,401.2 565.0,401.7 565.5,402.2 566.0,402.6 566.5,402.9 567.0,403.2 567.5,403.3 568.0,403.4 568.5,403.6 569.0,403.7 569.5,404.1 570.0,404.2 570.5,404.2 571.0,404.3 571.5,404.3 572.0,404.3 572.5,404.2 573.0,403.9 573.5,403.8 574.0,404.0 574.5,404.1 575.0,403.9 575.5,403.8 576.0,404.0 576.5,404.0 577.0,403.9 577.5,403.9 578.0,403.9 578.5,403.9 579.0,404.0 579.5,404.2 580.0,404.3 580.5,404.3 581.0,404.0 581.5,404.0 582.0,404.1 582.5,404.1 583.0,404.0 583.5,404.0 584.0,404.0 584.5,404.1 585.0,404.4 585.5,404.5 586.0,404.4 586.5,404.1 587.0,404.0 587.5,404.2 588.0,404.2 588.5,403.9 589.0,403.7 589.5,403.9 590.0,403.9 590.5,403.8 591.0,403.8 591.5,403.7 592.0,403.5 592.5,403.3 593.0,403.1 593.5,403.1 594.0,403.3 594.5,403.5 595.0,403.4 595.5,403.2 596.0,403.0 596.5,403.3 597.0,403.5 597.5,403.4 598.0,403.3 598.5,403.1 599.0,403.0 599.5,403.0 600.0,402.8 600.5,402.6 601.0,402.7 601.5,402.8 602.0,402.9 602.5,402.8 603.0,402.5 603.5,402.4 604.0,402.3 604.5,402.4 605.0,402.4 605.5,402.2 606.0,402.1 606.5,402.2 607.0,402.0 607.5,402.0 608.0,402.2 608.5,402.2 609.0,402.0 609.5,401.9 610.0,401.8 610.5,401.7 611.0,401.6 611.5,401.4 612.0,401.2 612.5,401.2 613.0,401.0 613.5,400.6 614.0,400.3 614.5,399.9 615.0,399.8 615.5,399.9 616.0,400.2 616.5,400.4 617.0,400.3 617.5,400.2 618.0,399.9 618.5,399.5 619.0,399.1 619.5,398.9 620.0,398.8 620.5,398.5 621.0,398.3 621.5,398.2 622.0,398.0 622.5,397.7 623.0,397.7 623.5,397.7 624.0,397.6 624.5,397.1 625.0,396.7 625.5,396.4 626.0,396.1 626.5,395.5 627.0,395.1 627.5,395.2 628.0,395.0 628.5,394.7 629.0,394.5 629.5,394.5 630.0,394.2 630.5,393.7 631.0,393.3 631.5,392.8 632.0,392.3 632.5,391.8 633.0,391.3 633.5,390.8 634.0,390.3 634.5,389.8 635.0,389.4 635.5,388.9 636.0,388.4 636.5,387.9 637.0,387.2 637.5,386.6 638.0,386.2 638.5,385.6 639.0,384.9 639.5,384.3 640.0,383.8 640.5,383.0 641.0,382.2 641.5,381.3 642.0,380.3 642.5,379.5 643.0,378.7 643.5,377.9 644.0,377.2 644.5,376.2 645.0,375.3 645.5,374.5 646.0,373.5 646.5,372.2 647.0,371.1 647.5,370.2 648.0,369.0 648.5,367.7 649.0,366.3 649.5,365.1 650.0,363.9 650.5,362.6 651.0,361.0 651.5,359.7 652.0,358.7 652.5,357.5 653.0,356.0 653.5,354.4 654.0,352.7 654.5,351.0 655.0,349.6 655.5,348.1 656.0,346.3 656.5,344.4 657.0,342.7 657.5,341.0 658.0,339.1 658.5,337.4 659.0,335.8 659.5,333.8 660.0,331.9 660.5,330.3 661.0,328.4 661.5,326.3 662.0,324.1 662.5,322.2 663.0,320.4 663.5,318.4 664.0,316.6 664.5,314.9 665.0,313.1 665.5,311.2 666.0,309.3" fill="none" stroke="#ff1a0a" stroke-width="3.0" stroke-linejoin="round" stroke-linecap="round" clip-path="url(#cB2)"/>
<polyline points="400.5,428.6 401.0,428.9 401.5,429.1 402.0,428.9 402.5,428.5 403.0,428.3 403.5,428.5 404.0,428.8 404.5,428.8 405.0,428.7 405.5,428.7 406.0,428.8 406.5,428.8 407.0,428.9 407.5,428.6 408.0,428.2 408.5,428.3 409.0,428.4 409.5,428.5 410.0,428.8 410.5,429.1 411.0,429.2 411.5,429.1 412.0,428.7 412.5,428.4 413.0,428.4 413.5,428.5 414.0,428.8 414.5,429.2 415.0,429.1 415.5,428.9 416.0,428.8 416.5,428.7 417.0,428.6 417.5,428.8 418.0,428.8 418.5,429.0 419.0,429.1 419.5,428.9 420.0,428.8 420.5,428.6 421.0,428.5 421.5,428.6 422.0,428.7 422.5,428.6 423.0,428.5 423.5,428.6 424.0,428.6 424.5,428.7 425.0,428.7 425.5,428.7 426.0,428.6 426.5,428.5 427.0,428.2 427.5,428.1 428.0,428.0 428.5,428.0 429.0,428.1 429.5,428.3 430.0,428.6 430.5,428.8 431.0,428.7 431.5,428.8 432.0,428.8 432.5,428.6 433.0,428.4 433.5,428.3 434.0,428.4 434.5,428.6 435.0,428.6 435.5,428.7 436.0,428.9 436.5,428.8 437.0,428.3 437.5,428.3 438.0,428.3 438.5,428.0 439.0,427.7 439.5,427.9 440.0,428.3 440.5,428.6 441.0,428.7 441.5,428.7 442.0,428.6 442.5,428.7 443.0,428.8 443.5,428.7 444.0,428.5 444.5,428.2 445.0,428.2 445.5,428.4 446.0,428.3 446.5,428.0 447.0,427.9 447.5,428.1 448.0,428.2 448.5,428.3 449.0,428.5 449.5,428.5 450.0,428.2 450.5,428.1 451.0,428.3 451.5,428.4 452.0,428.3 452.5,428.5 453.0,428.6 453.5,428.4 454.0,428.2 454.5,428.3 455.0,428.4 455.5,428.4 456.0,428.4 456.5,428.3 457.0,428.2 457.5,428.4 458.0,428.5 458.5,428.5 459.0,428.3 459.5,428.2 460.0,428.2 460.5,428.0 461.0,427.9 461.5,428.1 462.0,428.3 462.5,428.2 463.0,428.1 463.5,428.2 464.0,428.1 464.5,428.1 465.0,428.3 465.5,428.6 466.0,428.6 466.5,428.4 467.0,428.2 467.5,428.3 468.0,428.3 468.5,428.2 469.0,427.9 469.5,427.6 470.0,427.6 470.5,427.7 471.0,427.9 471.5,428.1 472.0,428.4 472.5,428.4 473.0,428.4 473.5,428.5 474.0,428.4 474.5,428.2 475.0,428.0 475.5,427.5 476.0,427.4 476.5,427.8 477.0,428.1 477.5,428.2 478.0,428.0 478.5,427.8 479.0,427.6 479.5,427.5 480.0,427.4 480.5,427.2 481.0,427.3 481.5,427.3 482.0,427.1 482.5,427.0 483.0,427.1 483.5,427.3 484.0,427.5 484.5,427.6 485.0,427.5 485.5,427.3 486.0,427.1 486.5,426.9 487.0,426.8 487.5,426.8 488.0,426.7 488.5,426.3 489.0,425.8 489.5,425.7 490.0,425.6 490.5,425.1 491.0,424.7 491.5,424.4 492.0,424.2 492.5,423.9 493.0,423.6 493.5,423.4 494.0,423.4 494.5,423.1 495.0,422.3 495.5,421.9 496.0,421.9 496.5,422.1 497.0,422.4 497.5,422.5 498.0,422.4 498.5,422.2 499.0,422.1 499.5,422.1 500.0,422.0 500.5,422.0 501.0,422.1 501.5,422.1 502.0,422.2 502.5,422.4 503.0,422.7 503.5,422.9 504.0,423.0 504.5,423.1 505.0,423.1 505.5,423.0 506.0,423.0 506.5,423.2 507.0,423.4 507.5,423.3 508.0,423.0 508.5,422.9 509.0,422.9 509.5,423.2 510.0,423.3 510.5,423.4 511.0,423.5 511.5,423.7 512.0,423.5 512.5,423.3 513.0,423.0 513.5,422.9 514.0,423.0 514.5,423.1 515.0,422.9 515.5,422.9 516.0,423.0 516.5,423.1 517.0,423.2 517.5,423.4 518.0,423.4 518.5,423.2 519.0,423.2 519.5,423.2 520.0,423.2 520.5,423.2 521.0,423.1 521.5,422.9 522.0,422.8 522.5,422.8 523.0,422.8 523.5,422.6 524.0,422.3 524.5,422.2 525.0,422.3 525.5,422.2 526.0,422.2 526.5,422.2 527.0,421.9 527.5,421.7 528.0,421.6 528.5,421.2 529.0,420.8 529.5,420.8 530.0,420.9 530.5,420.7 531.0,420.3 531.5,420.0 532.0,419.7 532.5,419.3 533.0,419.2 533.5,419.1 534.0,418.7 534.5,418.3 535.0,417.8 535.5,417.2 536.0,416.4 536.5,415.7 537.0,415.0 537.5,414.2 538.0,413.2 538.5,412.1 539.0,411.1 539.5,410.2 540.0,409.3 540.5,408.4 541.0,407.1 541.5,405.6 542.0,404.0 542.5,402.3 543.0,400.4 543.5,398.6 544.0,397.0 544.5,395.0 545.0,392.7 545.5,390.7 546.0,388.6 546.5,386.4 547.0,384.2 547.5,382.0 548.0,379.9 548.5,377.7 549.0,375.4 549.5,373.4 550.0,371.6 550.5,369.7 551.0,367.9 551.5,366.5 552.0,365.5 552.5,364.7 553.0,364.0 553.5,363.3 554.0,363.1 554.5,363.3 555.0,363.3 555.5,363.4 556.0,363.8 556.5,364.6 557.0,365.4 557.5,366.4 558.0,367.7 558.5,369.2 559.0,370.5 559.5,371.9 560.0,373.1 560.5,374.5 561.0,376.3 561.5,378.2 562.0,380.1 562.5,381.9 563.0,383.6 563.5,385.3 564.0,386.7 564.5,388.1 565.0,389.6 565.5,391.2 566.0,392.5 566.5,393.8 567.0,395.1 567.5,396.3 568.0,397.1 568.5,397.6 569.0,398.2 569.5,399.2 570.0,399.9 570.5,400.5 571.0,401.1 571.5,401.5 572.0,401.9 572.5,402.4 573.0,402.9 573.5,403.0 574.0,403.4 574.5,403.9 575.0,404.1 575.5,404.1 576.0,404.0 576.5,403.9 577.0,404.0 577.5,404.1 578.0,404.1 578.5,404.1 579.0,404.1 579.5,404.4 580.0,404.5 580.5,404.5 581.0,404.5 581.5,404.6 582.0,404.5 582.5,404.2 583.0,404.2 583.5,404.4 584.0,404.6 584.5,404.8 585.0,404.6 585.5,404.4 586.0,404.5 586.5,404.7 587.0,404.6 587.5,404.4 588.0,404.1 588.5,404.2 589.0,404.3 589.5,404.2 590.0,404.2 590.5,404.2 591.0,404.0 591.5,403.9 592.0,404.0 592.5,404.2 593.0,404.2 593.5,404.0 594.0,403.9 594.5,403.9 595.0,404.0 595.5,404.0 596.0,404.0 596.5,404.0 597.0,404.0 597.5,403.8 598.0,403.6 598.5,403.8 599.0,404.0 599.5,404.1 600.0,404.0 600.5,403.8 601.0,403.6 601.5,403.5 602.0,403.5 602.5,403.4 603.0,403.4 603.5,403.6 604.0,403.7 604.5,403.8 605.0,403.6 605.5,403.5 606.0,403.4 606.5,403.3 607.0,403.2 607.5,403.4 608.0,403.5 608.5,403.6 609.0,403.2 609.5,402.7 610.0,402.6 610.5,402.8 611.0,403.0 611.5,403.0 612.0,402.9 612.5,402.8 613.0,402.8 613.5,402.8 614.0,403.0 614.5,403.0 615.0,402.7 615.5,402.4 616.0,402.2 616.5,402.1 617.0,402.0 617.5,401.9 618.0,401.9 618.5,402.0 619.0,401.9 619.5,401.7 620.0,401.4 620.5,401.2 621.0,401.2 621.5,401.2 622.0,401.1 622.5,401.0 623.0,400.9 623.5,400.8 624.0,400.6 624.5,400.3 625.0,400.2 625.5,400.4 626.0,400.4 626.5,400.3 627.0,400.5 627.5,400.5 628.0,400.2 628.5,400.0 629.0,400.0 629.5,399.7 630.0,399.5 630.5,399.2 631.0,398.7 631.5,398.3 632.0,398.2 632.5,398.3 633.0,398.3 633.5,398.2 634.0,397.7 634.5,397.3 635.0,397.1 635.5,397.0 636.0,396.6 636.5,396.2 637.0,395.9 637.5,395.9 638.0,395.7 638.5,395.5 639.0,395.2 639.5,394.8 640.0,394.5 640.5,394.1 641.0,393.8 641.5,393.3 642.0,392.7 642.5,392.3 643.0,391.9 643.5,391.6 644.0,391.3 644.5,390.8 645.0,390.2 645.5,389.8 646.0,389.4 646.5,388.8 647.0,388.0 647.5,387.6 648.0,387.4 648.5,387.1 649.0,386.3 649.5,385.4 650.0,384.6 650.5,383.8 651.0,383.1 651.5,382.5 652.0,381.6 652.5,380.7 653.0,379.9 653.5,378.9 654.0,378.2 654.5,377.5 655.0,376.6 655.5,375.7 656.0,374.7 656.5,373.7 657.0,372.8 657.5,371.9 658.0,370.7 658.5,369.4 659.0,368.3 659.5,367.4 660.0,366.3 660.5,364.9 661.0,363.6 661.5,362.3 662.0,360.9 662.5,359.4 663.0,357.9 663.5,356.4 664.0,354.9 664.5,353.5 665.0,351.9 665.5,349.9 666.0,348.0" fill="none" stroke="#7c0a0a" stroke-width="3.0" stroke-linejoin="round" stroke-linecap="round" clip-path="url(#cB2)"/>
<polyline points="86.0,515.1 86.7,515.9 87.4,516.5 88.1,516.7 88.8,517.0 89.5,517.8 90.2,518.8 90.9,519.6 91.6,520.1 92.3,520.9 93.0,522.1 93.7,523.4 94.4,524.3 95.1,525.2 95.8,526.4 96.5,527.7 97.2,528.9 97.9,529.9 98.6,530.7 99.3,531.5 100.0,532.1 100.7,532.9 101.4,534.0 102.1,534.9 102.8,535.8 103.5,537.1 104.2,538.6 104.9,540.0 105.6,541.6 106.3,543.5 107.0,545.0 107.7,545.9 108.4,546.7 109.1,547.8 109.8,548.8 110.5,549.6 111.2,550.4 111.9,551.0 112.6,551.3 113.3,551.6 114.0,552.3 114.7,553.0 115.4,553.1 116.1,552.9 116.8,552.8 117.5,553.0 118.2,553.6 118.9,554.7 119.6,555.7 120.3,556.6 121.0,557.6 121.7,558.5 122.4,559.0 123.1,559.4 123.8,559.7 124.5,560.1 125.2,560.8 125.9,561.4 126.6,562.0 127.3,563.0 128.0,564.1 128.7,565.1 129.4,565.7 130.1,566.3 130.8,566.8 131.5,567.3 132.2,567.9 132.9,568.5 133.6,569.0 134.3,569.4 135.0,570.0 135.7,570.2 136.4,570.3 137.1,570.5 137.8,570.8 138.5,570.4 139.2,569.8 139.9,569.5 140.6,569.4 141.3,569.0 142.0,568.8 142.7,568.7 143.4,568.7 144.1,568.9 144.8,568.7 145.5,568.1 146.2,567.8 146.9,568.1 147.6,569.0 148.3,569.8 149.0,569.6 149.7,568.8 150.4,568.7 151.1,569.4 151.8,569.7 152.5,569.1 153.2,568.3 153.9,567.8 154.6,567.3 155.3,566.8 156.0,566.5 156.7,566.6 157.4,566.8 158.1,566.8 158.8,566.8 159.5,567.3 160.2,568.2 160.9,569.3 161.6,569.8 162.3,570.3 163.0,571.5 163.7,572.6 164.4,573.1 165.1,573.0 165.8,572.8 166.5,573.5 167.2,574.8 167.9,575.5 168.6,575.2 169.3,575.0 170.0,575.1 170.7,575.2 171.4,575.3 172.1,575.7 172.8,576.2 173.5,576.6 174.2,576.7 174.9,576.6 175.6,576.3 176.3,575.8 177.0,575.4 177.7,575.9 178.4,577.0 179.1,578.0 179.8,578.9 180.5,579.7 181.2,580.3 181.9,580.5 182.6,580.2 183.3,579.6 184.0,579.1 184.7,578.9 185.4,578.9 186.1,579.0 186.8,579.4 187.5,579.9 188.2,580.3 188.9,580.2 189.6,580.5 190.3,581.4 191.0,582.7 191.7,583.7 192.4,584.2 193.1,584.6 193.8,585.8 194.5,587.7 195.2,589.6 195.9,591.3 196.6,592.5 197.3,593.6 198.0,595.2 198.7,597.5 199.4,600.0 200.1,602.6 200.8,605.1 201.5,607.6 202.2,610.4 202.9,613.9 203.6,617.7 204.3,621.8 205.0,626.1 205.7,630.7 206.4,635.2 207.1,639.3 207.8,643.2 208.5,647.0 209.2,650.7 209.9,654.4 210.6,657.8 211.3,660.7 212.0,662.8 212.7,664.2 213.4,665.3 214.1,666.5 214.8,667.3 215.5,668.1 216.2,669.1 216.9,670.1 217.6,670.9 218.3,671.4 219.0,672.0 219.7,673.0 220.4,674.1 221.1,674.5 221.8,674.7 222.5,675.3 223.2,676.3 223.9,677.5 224.6,678.5 225.3,679.6 226.0,680.7 226.7,681.9 227.4,683.6 228.1,685.4 228.8,687.0 229.5,688.3 230.2,689.6 230.9,690.8 231.6,691.8 232.3,692.8 233.0,693.7 233.7,694.6 234.4,695.5 235.1,696.2 235.8,697.3 236.5,698.8 237.2,700.3 237.9,701.0 238.6,701.4 239.3,701.8 240.0,702.3 240.7,702.8 241.4,703.0 242.1,703.3 242.8,703.9 243.5,704.5 244.2,704.9 244.9,705.2 245.6,705.9 246.3,707.2 247.0,708.8 247.7,709.8 248.4,710.2 249.1,710.2 249.8,709.9 250.5,710.0 251.2,710.7 251.9,711.4 252.6,711.9 253.3,712.3 254.0,712.5 254.7,712.3 255.4,712.3 256.1,712.8 256.8,713.6 257.5,714.4 258.2,715.3 258.9,715.7 259.6,715.8 260.3,716.1 261.0,716.5 261.7,716.8 262.4,716.8 263.1,717.0 263.8,717.6 264.5,718.0 265.2,717.9 265.9,717.7 266.6,718.0 267.3,718.4 268.0,718.4 268.7,718.4 269.4,718.5 270.1,718.5 270.8,718.6 271.5,718.8 272.2,719.1 272.9,719.6 273.6,719.8 274.3,719.7 275.0,719.7 275.7,719.5 276.4,719.4 277.1,719.8 277.8,720.7 278.5,721.2 279.2,721.4 279.9,721.4 280.6,721.5 281.3,721.6 282.0,721.8 282.7,721.7 283.4,721.5 284.1,721.2 284.8,720.8 285.5,721.1 286.2,721.6 286.9,721.6 287.6,721.3 288.3,721.1 289.0,720.9 289.7,720.8 290.4,720.7 291.1,720.6 291.8,720.7 292.5,720.8 293.2,720.7 293.9,720.6 294.6,721.0 295.3,721.6 296.0,722.1" fill="none" stroke="#5b6cf6" stroke-width="3.0" stroke-linejoin="round" stroke-linecap="round" clip-path="url(#cC)"/>
<polyline points="83.5,618.2 84.0,619.9 84.5,621.4 85.0,622.2 85.5,621.3 86.0,618.6 86.5,617.1 87.0,618.5 87.5,621.9 88.0,624.9 88.5,625.3 89.0,623.7 89.5,622.3 90.0,623.3 90.5,626.3 91.0,629.8 91.5,631.1 92.0,630.3 92.5,629.4 93.0,629.3 93.5,628.7 94.0,627.1 94.5,626.0 95.0,625.6 95.5,625.2 96.0,625.0 96.5,625.3 97.0,625.9 97.5,626.1 98.0,625.9 98.5,626.2 99.0,625.5 99.5,624.0 100.0,623.7 100.5,624.8 101.0,626.1 101.5,626.5 102.0,626.9 102.5,628.9 103.0,630.5 103.5,629.4 104.0,628.0 104.5,628.0 105.0,628.2 105.5,628.3 106.0,627.1 106.5,624.1 107.0,622.1 107.5,623.3 108.0,625.2 108.5,625.9 109.0,626.5 109.5,626.6 110.0,626.6 110.5,628.1 111.0,629.5 111.5,629.3 112.0,629.0 112.5,629.2 113.0,628.5 113.5,625.9 114.0,623.6 114.5,621.7 115.0,619.1 115.5,617.5 116.0,619.0 116.5,621.3 117.0,620.8 117.5,618.0 118.0,617.0 118.5,619.1 119.0,621.6 119.5,623.7 120.0,625.7 120.5,626.6 121.0,625.6 121.5,623.3 122.0,620.7 122.5,620.5 123.0,622.9 123.5,625.3 124.0,626.3 124.5,626.4 125.0,625.7 125.5,623.2 126.0,620.1 126.5,620.2 127.0,622.1 127.5,622.3 128.0,621.6 128.5,622.1 129.0,621.9 129.5,621.7 130.0,622.2 130.5,621.7 131.0,620.7 131.5,621.0 132.0,620.2 132.5,617.8 133.0,615.2 133.5,613.6 134.0,614.4 134.5,615.7 135.0,615.5 135.5,615.3 136.0,616.0 136.5,617.1 137.0,617.6 137.5,616.8 138.0,616.7 138.5,618.5 139.0,619.5 139.5,617.6 140.0,615.3 140.5,615.1 141.0,617.5 141.5,619.4 142.0,618.8 142.5,616.4 143.0,615.4 143.5,616.6 144.0,616.2 144.5,613.6 145.0,612.8 145.5,615.1 146.0,618.3 146.5,619.4 147.0,616.9 147.5,614.0 148.0,612.3 148.5,611.5 149.0,613.5 149.5,616.1 150.0,615.2 150.5,612.9 151.0,612.7 151.5,614.9 152.0,616.3 152.5,615.7 153.0,615.0 153.5,615.3 154.0,615.3 154.5,614.7 155.0,613.3 155.5,611.3 156.0,611.6 156.5,614.0 157.0,615.6 157.5,616.8 158.0,619.6 158.5,622.0 159.0,622.6 159.5,622.6 160.0,622.5 160.5,621.0 161.0,619.4 161.5,620.1 162.0,620.9 162.5,619.7 163.0,618.7 163.5,617.9 164.0,616.9 164.5,617.3 165.0,619.0 165.5,620.0 166.0,618.9 166.5,617.3 167.0,618.1 167.5,620.6 168.0,622.4 168.5,623.1 169.0,623.4 169.5,623.0 170.0,621.1 170.5,618.5 171.0,616.5 171.5,613.9 172.0,612.1 172.5,614.5 173.0,617.4 173.5,615.5 174.0,613.5 174.5,616.2 175.0,619.8 175.5,620.2 176.0,619.2 176.5,618.7 177.0,619.8 177.5,621.4 178.0,621.4 178.5,620.9 179.0,621.3 179.5,621.0 180.0,619.7 180.5,618.9 181.0,618.5 181.5,618.6 182.0,619.0 182.5,617.6 183.0,614.7 183.5,613.2 184.0,615.0 184.5,617.5 185.0,617.8 185.5,617.8 186.0,618.5 186.5,619.2 187.0,618.8 187.5,617.4 188.0,617.2 188.5,618.0 189.0,618.5 189.5,618.6 190.0,619.6 190.5,622.0 191.0,623.7 191.5,623.1 192.0,622.3 192.5,623.4 193.0,625.8 193.5,628.9 194.0,631.2 194.5,631.4 195.0,631.3 195.5,632.6 196.0,635.5 196.5,640.0 197.0,644.4 197.5,646.6 198.0,648.4 198.5,650.7 199.0,652.2 199.5,654.9 200.0,657.4 200.5,657.4 201.0,656.1 201.5,655.6 202.0,655.7 202.5,654.8 203.0,653.5 203.5,655.2 204.0,658.1 204.5,659.1 205.0,659.6 205.5,661.4 206.0,663.3 206.5,664.1 207.0,661.7 207.5,655.3 208.0,648.7 208.5,645.3 209.0,644.2 209.5,644.3 210.0,643.9 210.5,642.6 211.0,641.8 211.5,639.5 212.0,635.2 212.5,631.0 213.0,628.9 213.5,628.7 214.0,630.2 214.5,631.5 215.0,630.9 215.5,627.9 216.0,625.7 216.5,627.4 217.0,629.7 217.5,628.6 218.0,624.8 218.5,622.4 219.0,621.7 219.5,620.4 220.0,620.1 220.5,623.2 221.0,626.2 221.5,624.7 222.0,622.4 222.5,623.2 223.0,626.2 223.5,629.0 224.0,630.0 224.5,629.1 225.0,627.6 225.5,626.0 226.0,624.7 226.5,625.7 227.0,628.4 227.5,629.2 228.0,628.5 228.5,627.3 229.0,626.0 229.5,624.6 230.0,624.0 230.5,625.4 231.0,627.7 231.5,629.1 232.0,629.4 232.5,628.9 233.0,627.0 233.5,623.7 234.0,621.7 234.5,623.7 235.0,626.8 235.5,627.4 236.0,626.2 236.5,624.9 237.0,625.5 237.5,627.7 238.0,628.5 238.5,627.8 239.0,625.2 239.5,621.0 240.0,618.2 240.5,617.6 241.0,616.9 241.5,618.3 242.0,622.6 242.5,625.1 243.0,624.7 243.5,623.4 244.0,622.8 244.5,622.9 245.0,622.8 245.5,622.2 246.0,620.4 246.5,618.8 247.0,619.9 247.5,621.8 248.0,623.3 248.5,623.3 249.0,622.3 249.5,622.4 250.0,621.8 250.5,619.8 251.0,618.2 251.5,616.8 252.0,615.5 252.5,616.6 253.0,617.9 253.5,617.0 254.0,616.5 254.5,619.2 255.0,622.9 255.5,623.2 256.0,620.4 256.5,618.3 257.0,618.2 257.5,618.2 258.0,617.9 258.5,618.8 259.0,620.0 259.5,618.9 260.0,617.3 260.5,618.9 261.0,621.1 261.5,621.8 262.0,621.4 262.5,621.2 263.0,619.5 263.5,617.6 264.0,618.3 264.5,617.1 265.0,613.0 265.5,612.0 266.0,614.7 266.5,617.6 267.0,619.6 267.5,620.2 268.0,620.4 268.5,621.1 269.0,621.5 269.5,621.8 270.0,621.9 270.5,621.7 271.0,621.3 271.5,619.4 272.0,616.9 272.5,616.4 273.0,616.5 273.5,615.4 274.0,614.5 274.5,615.9 275.0,618.5 275.5,620.5 276.0,620.5 276.5,618.4 277.0,616.4 277.5,615.8 278.0,615.2 278.5,614.1 279.0,614.4 279.5,617.4 280.0,620.1 280.5,619.4 281.0,617.4 281.5,618.1 282.0,619.8 282.5,619.2 283.0,618.0 283.5,618.4 284.0,620.2 284.5,622.2 285.0,622.6 285.5,620.2 286.0,616.5 286.5,613.6 287.0,612.7 287.5,612.7 288.0,612.8 288.5,613.7 289.0,614.9 289.5,614.7 290.0,614.0 290.5,614.6 291.0,616.9 291.5,618.4 292.0,617.4 292.5,616.9 293.0,617.4 293.5,617.9 294.0,617.6 294.5,616.7 295.0,616.0 295.5,615.3 296.0,614.4 296.5,613.6" fill="none" stroke="#f0646c" stroke-width="3.2" stroke-linejoin="round" stroke-linecap="round" clip-path="url(#cC)"/>
<polyline points="401.0,517.5 401.6,517.5 402.2,517.4 402.8,517.4 403.4,517.3 404.0,517.1 404.6,517.1 405.2,517.1 405.8,517.4 406.4,517.6 407.0,517.7 407.6,517.5 408.2,517.4 408.8,517.6 409.4,518.0 410.0,518.3 410.6,518.5 411.2,518.4 411.8,518.3 412.4,518.2 413.0,518.2 413.6,518.1 414.2,518.0 414.8,518.1 415.4,518.2 416.0,518.4 416.6,518.5 417.2,518.5 417.8,518.5 418.4,518.4 419.0,518.4 419.6,518.3 420.2,518.4 420.8,518.6 421.4,518.7 422.0,518.7 422.6,518.7 423.2,518.7 423.8,518.7 424.4,518.8 425.0,519.0 425.6,519.1 426.2,519.2 426.8,519.1 427.4,519.0 428.0,519.0 428.6,519.1 429.2,519.3 429.8,519.6 430.4,519.9 431.0,520.3 431.6,520.6 432.2,520.7 432.8,520.7 433.4,520.6 434.0,520.6 434.6,520.6 435.2,520.8 435.8,520.9 436.4,521.0 437.0,521.1 437.6,521.2 438.2,521.4 438.8,521.6 439.4,521.9 440.0,522.0 440.6,522.1 441.2,522.1 441.8,522.0 442.4,522.0 443.0,522.0 443.6,522.1 444.2,522.2 444.8,522.4 445.4,522.5 446.0,522.6 446.6,522.7 447.2,522.7 447.8,522.5 448.4,522.4 449.0,522.4 449.6,522.5 450.2,522.7 450.8,522.8 451.4,522.8 452.0,522.7 452.6,522.7 453.2,522.7 453.8,522.6 454.4,522.6 455.0,522.7 455.6,523.1 456.2,523.5 456.8,524.0 457.4,524.3 458.0,524.6 458.6,524.7 459.2,524.9 459.8,525.0 460.4,525.0 461.0,525.1 461.6,525.2 462.2,525.3 462.8,525.3 463.4,525.0 464.0,524.9 464.6,525.1 465.2,525.5 465.8,525.8 466.4,526.0 467.0,525.8 467.6,525.7 468.2,525.5 468.8,525.5 469.4,525.4 470.0,525.3 470.6,525.2 471.2,525.0 471.8,524.8 472.4,524.7 473.0,524.6 473.6,524.6 474.2,524.6 474.8,524.8 475.4,525.0 476.0,525.0 476.6,524.8 477.2,524.5 477.8,524.1 478.4,524.0 479.0,524.0 479.6,524.2 480.2,524.5 480.8,524.8 481.4,525.1 482.0,525.4 482.6,525.8 483.2,526.6 483.8,527.6 484.4,528.7 485.0,529.9 485.6,531.1 486.2,532.4 486.8,533.9 487.4,535.6 488.0,537.4 488.6,539.3 489.2,541.5 489.8,544.2 490.4,547.4 491.0,550.7 491.6,554.1 492.2,557.4 492.8,560.8 493.4,564.1 494.0,567.1 494.6,569.6 495.2,571.6 495.8,573.4 496.4,574.8 497.0,575.7 497.6,576.2 498.2,576.6 498.8,576.9 499.4,577.2 500.0,577.3 500.6,577.3 501.2,577.3 501.8,577.2 502.4,577.2 503.0,577.2 503.6,577.3 504.2,577.4 504.8,577.5 505.4,577.5 506.0,577.4 506.6,577.2 507.2,577.1 507.8,577.1 508.4,577.4 509.0,577.7 509.6,577.9 510.2,578.0 510.8,578.1 511.4,578.0 512.0,578.1 512.6,578.1 513.2,578.0 513.8,577.8 514.4,577.8 515.0,578.0 515.6,578.1 516.2,578.0 516.8,577.8 517.4,577.7 518.0,577.7 518.6,577.8 519.2,577.6 519.8,577.5 520.4,577.2 521.0,577.0 521.6,576.8 522.2,576.8 522.8,577.0 523.4,577.2 524.0,577.2 524.6,577.0 525.2,576.8 525.8,576.6 526.4,576.3 527.0,576.2 527.6,576.3 528.2,576.3 528.8,576.2 529.4,576.1 530.0,576.2 530.6,576.3 531.2,576.4 531.8,576.6 532.4,576.8 533.0,577.0 533.6,577.2 534.2,577.3 534.8,577.3 535.4,577.3 536.0,577.3 536.6,577.4 537.2,577.5 537.8,577.6 538.4,577.9 539.0,578.2 539.6,578.6 540.2,578.9 540.8,579.0 541.4,579.0 542.0,579.0 542.6,578.8 543.2,578.5 543.8,578.1 544.4,577.7 545.0,577.5 545.6,577.4 546.2,577.5 546.8,577.5 547.4,577.5 548.0,577.3 548.6,577.2 549.2,577.0 549.8,577.0 550.4,577.0 551.0,577.1 551.6,577.3 552.2,577.6 552.8,577.9 553.4,578.1 554.0,578.2 554.6,578.2 555.2,578.5 555.8,579.1 556.4,580.0 557.0,581.0 557.6,582.1 558.2,583.4 558.8,584.9 559.4,586.6 560.0,588.3 560.6,590.0 561.2,591.9 561.8,594.0 562.4,596.3 563.0,598.7 563.6,601.1 564.2,603.6 564.8,606.2 565.4,608.7 566.0,611.2 566.6,613.8 567.2,616.5 567.8,619.5 568.4,622.6 569.0,625.9 569.6,629.7 570.2,633.8 570.8,638.2 571.4,642.6 572.0,646.9 572.6,651.4 573.2,656.0 573.8,660.6 574.4,665.0 575.0,669.3 575.6,673.4 576.2,677.3 576.8,680.9 577.4,684.4 578.0,687.6 578.6,690.6 579.2,693.2 579.8,695.6 580.4,697.8 581.0,699.8 581.6,701.5 582.2,703.0 582.8,704.4 583.4,705.6 584.0,706.8 584.6,707.9 585.2,708.9 585.8,709.7 586.4,710.5 587.0,711.3 587.6,711.9 588.2,712.5 588.8,713.1 589.4,713.7 590.0,714.4 590.6,715.0 591.2,715.5 591.8,715.9 592.4,716.2 593.0,716.6 593.6,717.0 594.2,717.5 594.8,718.1 595.4,718.7 596.0,719.2 596.6,719.6 597.2,719.9 597.8,720.2 598.4,720.3 599.0,720.3 599.6,720.3 600.2,720.4 600.8,720.6 601.4,720.8 602.0,720.9 602.6,720.9 603.2,721.0 603.8,721.0 604.4,721.0 605.0,721.0 605.6,721.1 606.2,721.2 606.8,721.5 607.4,721.8 608.0,721.9 608.6,721.8 609.2,721.6 609.8,721.6 610.4,721.7 611.0,721.9 611.6,722.2 612.2,722.4 612.8,722.5" fill="none" stroke="#5b6cf6" stroke-width="3.0" stroke-linejoin="round" stroke-linecap="round" clip-path="url(#cD)"/>
<polyline points="400.6,612.3 401.0,613.0 401.4,614.3 401.8,616.1 402.2,617.5 402.6,618.4 403.0,619.3 403.4,619.8 403.8,619.5 404.2,619.6 404.6,620.9 405.0,622.6 405.4,623.5 405.8,623.1 406.2,621.6 406.6,619.4 407.0,617.3 407.4,616.2 407.8,616.4 408.2,617.2 408.6,617.7 409.0,618.0 409.4,618.2 409.8,618.0 410.2,617.8 410.6,618.3 411.0,618.9 411.4,618.3 411.8,617.3 412.2,617.3 412.6,618.2 413.0,618.7 413.4,618.7 413.8,617.9 414.2,616.9 414.6,616.6 415.0,616.2 415.4,615.8 415.8,616.2 416.2,617.1 416.6,617.7 417.0,617.8 417.4,618.3 417.8,619.6 418.2,621.0 418.6,621.7 419.0,622.1 419.4,622.3 419.8,622.0 420.2,621.3 420.6,620.5 421.0,620.0 421.4,619.4 421.8,618.4 422.2,617.3 422.6,617.0 423.0,616.7 423.4,616.3 423.8,617.0 424.2,618.1 424.6,618.5 425.0,618.5 425.4,618.6 425.8,618.4 426.2,618.1 426.6,618.1 427.0,618.6 427.4,619.5 427.8,620.9 428.2,622.3 428.6,623.0 429.0,623.2 429.4,623.0 429.8,622.5 430.2,621.7 430.6,621.1 431.0,620.8 431.4,620.4 431.8,620.3 432.2,620.8 432.6,620.9 433.0,620.0 433.4,618.5 433.8,618.1 434.2,618.5 434.6,618.4 435.0,617.9 435.4,618.1 435.8,618.7 436.2,619.3 436.6,619.7 437.0,619.8 437.4,619.5 437.8,619.1 438.2,618.8 438.6,618.4 439.0,618.0 439.4,618.0 439.8,617.7 440.2,616.9 440.6,616.2 441.0,616.2 441.4,616.5 441.8,616.7 442.2,616.9 442.6,617.4 443.0,618.0 443.4,618.4 443.8,618.3 444.2,618.2 444.6,618.6 445.0,618.7 445.4,617.7 445.8,616.7 446.2,616.2 446.6,615.9 447.0,615.2 447.4,614.1 447.8,613.2 448.2,613.0 448.6,613.4 449.0,614.2 449.4,615.4 449.8,616.1 450.2,616.0 450.6,615.9 451.0,616.2 451.4,616.4 451.8,616.2 452.2,616.2 452.6,616.5 453.0,617.3 453.4,618.6 453.8,620.0 454.2,620.9 454.6,622.1 455.0,623.7 455.4,625.0 455.8,625.2 456.2,624.9 456.6,624.9 457.0,625.0 457.4,624.5 457.8,623.2 458.2,621.3 458.6,620.0 459.0,619.5 459.4,619.7 459.8,619.6 460.2,619.0 460.6,618.6 461.0,618.3 461.4,617.2 461.8,616.1 462.2,615.4 462.6,615.5 463.0,616.2 463.4,616.5 463.8,615.8 464.2,614.7 464.6,613.4 465.0,612.6 465.4,612.2 465.8,612.2 466.2,612.7 466.6,613.7 467.0,614.3 467.4,614.8 467.8,615.5 468.2,615.8 468.6,615.0 469.0,613.9 469.4,613.2 469.8,612.7 470.2,612.9 470.6,613.6 471.0,613.7 471.4,613.1 471.8,612.4 472.2,611.9 472.6,611.5 473.0,611.5 473.4,612.3 473.8,613.5 474.2,614.6 474.6,615.6 475.0,616.0 475.4,615.6 475.8,614.7 476.2,614.1 476.6,614.4 477.0,614.9 477.4,614.5 477.8,613.8 478.2,614.0 478.6,615.2 479.0,616.5 479.4,617.7 479.8,618.4 480.2,618.9 480.6,619.6 481.0,620.3 481.4,620.6 481.8,621.0 482.2,621.9 482.6,623.1 483.0,624.8 483.4,627.0 483.8,629.4 484.2,631.4 484.6,633.0 485.0,634.9 485.4,637.4 485.8,640.2 486.2,643.2 486.6,646.5 487.0,650.6 487.4,655.7 487.8,661.5 488.2,666.9 488.6,671.1 489.0,674.9 489.4,679.2 489.8,683.7 490.2,688.4 490.6,692.7 491.0,696.3 491.4,699.0 491.8,700.0 492.2,698.9 492.6,696.4 493.0,693.1 493.4,689.3 493.8,684.9 494.2,678.7 494.6,669.8 495.0,659.6 495.4,650.9 495.8,644.2 496.2,638.1 496.6,632.3 497.0,627.5 497.4,623.9 497.8,620.9 498.2,618.7 498.6,617.5 499.0,616.7 499.4,616.1 499.8,615.9 500.2,615.6 500.6,614.8 501.0,614.0 501.4,613.9 501.8,614.5 502.2,615.6 502.6,616.6 503.0,616.8 503.4,616.4 503.8,616.1 504.2,616.2 504.6,616.0 505.0,616.2 505.4,617.2 505.8,618.0 506.2,617.8 506.6,617.7 507.0,618.3 507.4,618.6 507.8,618.4 508.2,617.6 508.6,616.4 509.0,615.7 509.4,616.4 509.8,618.1 510.2,619.6 510.6,620.1 511.0,619.1 511.4,617.1 511.8,615.3 512.2,614.6 512.6,614.8 513.0,614.7 513.4,613.7 513.8,613.5 514.2,614.4 514.6,615.1 515.0,615.1 515.4,615.4 515.8,615.7 516.2,614.8 516.6,613.5 517.0,612.9 517.4,613.3 517.8,613.6 518.2,613.3 518.6,612.8 519.0,612.6 519.4,612.1 519.8,611.0 520.2,610.4 520.6,610.7 521.0,610.8 521.4,610.3 521.8,609.7 522.2,610.0 522.6,611.2 523.0,612.1 523.4,612.7 523.8,613.5 524.2,614.0 524.6,613.3 525.0,612.3 525.4,612.3 525.8,612.9 526.2,613.4 526.6,613.5 527.0,613.7 527.4,614.1 527.8,614.6 528.2,614.8 528.6,614.7 529.0,614.7 529.4,615.3 529.8,616.5 530.2,617.8 530.6,618.2 531.0,617.7 531.4,617.3 531.8,618.0 532.2,619.1 532.6,619.6 533.0,619.4 533.4,619.4 533.8,619.0 534.2,617.5 534.6,615.8 535.0,615.1 535.4,615.6 535.8,616.5 536.2,617.2 536.6,617.7 537.0,617.9 537.4,617.9 537.8,617.9 538.2,618.2 538.6,618.9 539.0,619.9 539.4,620.5 539.8,619.8 540.2,617.9 540.6,615.2 541.0,613.3 541.4,613.4 541.8,615.4 542.2,616.9 542.6,616.9 543.0,616.5 543.4,616.3 543.8,615.4 544.2,613.9 544.6,612.9 545.0,613.2 545.4,614.2 545.8,614.1 546.2,613.4 546.6,613.0 547.0,612.7 547.4,612.3 547.8,612.2 548.2,612.6 548.6,613.6 549.0,614.7 549.4,615.2 549.8,615.2 550.2,615.1 550.6,615.3 551.0,615.7 551.4,616.3 551.8,617.3 552.2,618.8 552.6,620.7 553.0,622.6 553.4,624.4 553.8,625.7 554.2,626.4 554.6,627.4 555.0,629.5 555.4,632.2 555.8,634.6 556.2,636.2 556.6,637.1 557.0,638.1 557.4,639.9 557.8,641.9 558.2,643.4 558.6,645.1 559.0,647.8 559.4,651.2 559.8,654.1 560.2,655.5 560.6,655.5 561.0,655.9 561.4,657.6 561.8,660.3 562.2,663.4 562.6,666.1 563.0,668.2 563.4,670.5 563.8,673.4 564.2,676.1 564.6,678.6 565.0,681.6 565.4,684.8 565.8,687.5 566.2,690.1 566.6,693.3 567.0,697.0 567.4,700.2 567.8,702.6 568.2,705.0 568.6,706.8 569.0,708.2 569.4,709.9 569.8,711.3 570.2,712.0 570.6,712.2 571.0,711.6 571.4,710.0 571.8,707.8 572.2,705.8 572.6,704.5 573.0,703.8 573.4,703.1 573.8,701.3 574.2,698.1 574.6,694.5 575.0,691.5 575.4,688.4 575.8,684.4 576.2,680.1 576.6,676.5 577.0,674.0 577.4,672.1 577.8,669.4 578.2,666.0 578.6,662.4 579.0,658.9 579.4,655.8 579.8,653.1 580.2,650.3 580.6,647.5 581.0,645.3 581.4,644.6 581.8,644.6 582.2,644.1 582.6,642.6 583.0,641.0 583.4,640.1 583.8,639.7 584.2,639.3 584.6,639.3 585.0,640.2 585.4,640.9 585.8,640.1 586.2,638.8 586.6,638.4 587.0,638.7 587.4,638.2 587.8,636.7 588.2,635.8 588.6,636.1 589.0,636.7 589.4,636.3 589.8,635.3 590.2,634.5 590.6,633.7 591.0,632.8 591.4,631.5 591.8,630.0 592.2,628.6 592.6,627.6 593.0,627.1 593.4,627.3 593.8,627.6 594.2,627.0 594.6,625.4 595.0,624.1 595.4,623.6 595.8,623.0 596.2,622.2 596.6,621.5 597.0,620.6 597.4,619.9 597.8,619.2 598.2,617.9 598.6,616.5 599.0,616.2 599.4,616.9 599.8,617.4 600.2,617.4 600.6,617.2 601.0,617.5 601.4,618.2 601.8,619.0 602.2,620.0 602.6,620.6 603.0,620.0 603.4,619.0 603.8,618.6 604.2,618.5 604.6,618.2 605.0,617.7 605.4,617.0 605.8,617.2 606.2,618.5 606.6,619.9 607.0,620.1 607.4,619.5 607.8,619.2 608.2,619.7 608.6,620.6 609.0,621.4 609.4,621.4 609.8,620.4 610.2,618.9 610.6,617.9 611.0,617.9 611.4,618.9 611.8,620.0 612.2,620.7 612.6,621.0 613.0,621.3" fill="none" stroke="#f0646c" stroke-width="3.2" stroke-linejoin="round" stroke-linecap="round" clip-path="url(#cD)"/>
<line x1="142.4" y1="797.5" x2="222.3" y2="997" stroke="#8f14ff" stroke-width="3.0" clip-path="url(#cE)"/>
<line x1="145.5" y1="817.2" x2="155.3" y2="817.2" stroke="#8f14ff" stroke-width="2.2"/>
<circle cx="150.4" cy="817.2" r="4.3" fill="#8f14ff"/>
<line x1="149.6" y1="826.8" x2="159.4" y2="826.8" stroke="#8f14ff" stroke-width="2.2"/>
<circle cx="154.5" cy="826.8" r="4.3" fill="#8f14ff"/>
<line x1="152.5" y1="834.1" x2="162.3" y2="834.1" stroke="#8f14ff" stroke-width="2.2"/>
<circle cx="157.4" cy="834.1" r="4.3" fill="#8f14ff"/>
<line x1="155.3" y1="841.4" x2="165.1" y2="841.4" stroke="#8f14ff" stroke-width="2.2"/>
<circle cx="160.2" cy="841.4" r="4.3" fill="#8f14ff"/>
<line x1="159.4" y1="851.0" x2="169.2" y2="851.0" stroke="#8f14ff" stroke-width="2.2"/>
<circle cx="164.3" cy="851.0" r="4.3" fill="#8f14ff"/>
<line x1="162.3" y1="858.3" x2="172.1" y2="858.3" stroke="#8f14ff" stroke-width="2.2"/>
<circle cx="167.2" cy="858.3" r="4.3" fill="#8f14ff"/>
<line x1="164.8" y1="865.5" x2="174.6" y2="865.5" stroke="#8f14ff" stroke-width="2.2"/>
<circle cx="169.7" cy="865.5" r="4.3" fill="#8f14ff"/>
<path d="M168.5,875.2 H179.1 M168.5,872.0 V878.4 M179.1,872.0 V878.4" stroke="#8f14ff" stroke-width="1.5" fill="none"/>
<circle cx="173.8" cy="875.2" r="4.3" fill="#8f14ff"/>
<path d="M170.7,882.4 H182.7 M170.7,879.2 V885.6 M182.7,879.2 V885.6" stroke="#8f14ff" stroke-width="1.5" fill="none"/>
<circle cx="176.7" cy="882.4" r="4.3" fill="#8f14ff"/>
<path d="M209.8,978.7 H220.8 M209.8,975.7 V981.7 M220.8,975.7 V981.7" stroke="#8f14ff" stroke-width="1.6" fill="none"/>
<path d="M215.30,971.50 L217.08,976.25 L222.15,976.48 L218.18,979.63 L219.53,984.52 L215.30,981.72 L211.07,984.52 L212.42,979.63 L208.45,976.48 L213.52,976.25Z" fill="#8f14ff"/>
<line x1="423.8" y1="797.5" x2="461.8" y2="997" stroke="#33ff14" stroke-width="3.0" clip-path="url(#cF)"/>
<line x1="427.0" y1="841.4" x2="436.8" y2="841.4" stroke="#33ff14" stroke-width="2.2"/>
<circle cx="431.9" cy="841.4" r="4.3" fill="#33ff14"/>
<line x1="428.8" y1="851.0" x2="438.6" y2="851.0" stroke="#33ff14" stroke-width="2.2"/>
<circle cx="433.7" cy="851.0" r="4.3" fill="#33ff14"/>
<line x1="430.5" y1="858.3" x2="440.3" y2="858.3" stroke="#33ff14" stroke-width="2.2"/>
<circle cx="435.4" cy="858.3" r="4.3" fill="#33ff14"/>
<line x1="431.7" y1="865.5" x2="441.5" y2="865.5" stroke="#33ff14" stroke-width="2.2"/>
<circle cx="436.6" cy="865.5" r="4.3" fill="#33ff14"/>
<line x1="433.5" y1="875.2" x2="443.3" y2="875.2" stroke="#33ff14" stroke-width="2.2"/>
<circle cx="438.4" cy="875.2" r="4.3" fill="#33ff14"/>
<line x1="434.7" y1="882.4" x2="444.5" y2="882.4" stroke="#33ff14" stroke-width="2.2"/>
<circle cx="439.6" cy="882.4" r="4.3" fill="#33ff14"/>
<path d="M455.90,971.50 L457.68,976.25 L462.75,976.48 L458.78,979.63 L460.13,984.52 L455.90,981.72 L451.67,984.52 L453.02,979.63 L449.05,976.48 L454.12,976.25Z" fill="#33ff14"/>
<line x1="446.3" y1="797.5" x2="517.2" y2="997" stroke="#0b0bff" stroke-width="3.0" clip-path="url(#cF)"/>
<line x1="449.3" y1="817.2" x2="459.1" y2="817.2" stroke="#0b0bff" stroke-width="2.2"/>
<circle cx="454.2" cy="817.2" r="4.3" fill="#0b0bff"/>
<line x1="452.2" y1="826.8" x2="462.0" y2="826.8" stroke="#0b0bff" stroke-width="2.2"/>
<circle cx="457.1" cy="826.8" r="4.3" fill="#0b0bff"/>
<line x1="455.0" y1="834.1" x2="464.8" y2="834.1" stroke="#0b0bff" stroke-width="2.2"/>
<circle cx="459.9" cy="834.1" r="4.3" fill="#0b0bff"/>
<line x1="457.5" y1="841.4" x2="467.3" y2="841.4" stroke="#0b0bff" stroke-width="2.2"/>
<circle cx="462.4" cy="841.4" r="4.3" fill="#0b0bff"/>
<line x1="461.0" y1="851.0" x2="470.8" y2="851.0" stroke="#0b0bff" stroke-width="2.2"/>
<circle cx="465.9" cy="851.0" r="4.3" fill="#0b0bff"/>
<line x1="463.3" y1="858.3" x2="473.1" y2="858.3" stroke="#0b0bff" stroke-width="2.2"/>
<circle cx="468.2" cy="858.3" r="4.3" fill="#0b0bff"/>
<line x1="466.3" y1="865.5" x2="476.1" y2="865.5" stroke="#0b0bff" stroke-width="2.2"/>
<circle cx="471.2" cy="865.5" r="4.3" fill="#0b0bff"/>
<line x1="469.4" y1="875.2" x2="479.2" y2="875.2" stroke="#0b0bff" stroke-width="2.2"/>
<circle cx="474.3" cy="875.2" r="4.3" fill="#0b0bff"/>
<line x1="472.0" y1="882.4" x2="481.8" y2="882.4" stroke="#0b0bff" stroke-width="2.2"/>
<circle cx="476.9" cy="882.4" r="4.3" fill="#0b0bff"/>
<path d="M511.90,971.50 L513.68,976.25 L518.75,976.48 L514.78,979.63 L516.13,984.52 L511.90,981.72 L507.67,984.52 L509.02,979.63 L505.05,976.48 L510.12,976.25Z" fill="#0b0bff"/>
<line x1="472.0" y1="797.5" x2="586.5" y2="997" stroke="#ff1a0a" stroke-width="3.0" clip-path="url(#cF)"/>
<line x1="478.5" y1="817.2" x2="488.3" y2="817.2" stroke="#ff1a0a" stroke-width="2.2"/>
<circle cx="483.4" cy="817.2" r="4.3" fill="#ff1a0a"/>
<line x1="484.3" y1="826.8" x2="494.1" y2="826.8" stroke="#ff1a0a" stroke-width="2.2"/>
<circle cx="489.2" cy="826.8" r="4.3" fill="#ff1a0a"/>
<line x1="489.3" y1="834.1" x2="499.1" y2="834.1" stroke="#ff1a0a" stroke-width="2.2"/>
<circle cx="494.2" cy="834.1" r="4.3" fill="#ff1a0a"/>
<line x1="492.7" y1="841.4" x2="502.5" y2="841.4" stroke="#ff1a0a" stroke-width="2.2"/>
<circle cx="497.6" cy="841.4" r="4.3" fill="#ff1a0a"/>
<line x1="498.3" y1="851.0" x2="508.1" y2="851.0" stroke="#ff1a0a" stroke-width="2.2"/>
<circle cx="503.2" cy="851.0" r="4.3" fill="#ff1a0a"/>
<line x1="503.4" y1="858.3" x2="513.2" y2="858.3" stroke="#ff1a0a" stroke-width="2.2"/>
<circle cx="508.3" cy="858.3" r="4.3" fill="#ff1a0a"/>
<line x1="506.0" y1="865.5" x2="515.8" y2="865.5" stroke="#ff1a0a" stroke-width="2.2"/>
<circle cx="510.9" cy="865.5" r="4.3" fill="#ff1a0a"/>
<path d="M511.2,875.2 H522.2 M511.2,872.0 V878.4 M522.2,872.0 V878.4" stroke="#ff1a0a" stroke-width="1.5" fill="none"/>
<circle cx="516.7" cy="875.2" r="4.3" fill="#ff1a0a"/>
<path d="M515.5,882.4 H528.5 M515.5,879.2 V885.6 M528.5,879.2 V885.6" stroke="#ff1a0a" stroke-width="1.5" fill="none"/>
<circle cx="522.0" cy="882.4" r="4.3" fill="#ff1a0a"/>
<path d="M564.1,978.7 H583.1 M564.1,975.7 V981.7 M583.1,975.7 V981.7" stroke="#ff1a0a" stroke-width="1.6" fill="none"/>
<path d="M573.60,971.50 L575.38,976.25 L580.45,976.48 L576.48,979.63 L577.83,984.52 L573.60,981.72 L569.37,984.52 L570.72,979.63 L566.75,976.48 L571.82,976.25Z" fill="#ff1a0a"/>
<line x1="247.7" y1="328.4" x2="247.7" y2="341.8" stroke="#8f14ff" stroke-width="3.1"/>
<polygon points="236.0,340.8 259.4,340.8 247.7,363.8" fill="#8f14ff"/>
<text x="234.7" y="316.4" font-size="27" fill="#8f14ff">P<tspan font-size="19" dy="7.4">0</tspan></text>
<line x1="484.6" y1="376.4" x2="484.6" y2="389.4" stroke="#ff1a0a" stroke-width="3.2"/>
<polygon points="473.1,388.4 496.1,388.4 484.6,411.7" fill="#ff1a0a"/>
<text x="471.6" y="364.7" font-size="27" fill="#ff1a0a">P<tspan font-size="19" dy="7.4">1</tspan></text>
<line x1="555.5" y1="315.8" x2="549.2" y2="329.1" stroke="#0b0bff" stroke-width="3.3"/>
<polygon points="540.2,350.1 538.6,324.2 559.9,334.0" fill="#0b0bff"/>
<text x="544.2" y="305.2" font-size="27" fill="#0b0bff">P<tspan font-size="19" dy="7.4">2</tspan></text>
<line x1="653.8" y1="235.0" x2="653.8" y2="249.0" stroke="#44ff1a" stroke-width="3.4"/>
<polygon points="642.0,248.0 665.5999999999999,248.0 653.8,270.7" fill="#44ff1a"/>
<text x="612.3" y="258.4" font-size="27" fill="#44ff1a">P<tspan font-size="19" dy="7.4">3</tspan></text>
<line x1="141.7" y1="649.1" x2="101.7" y2="649.1" stroke="#f0646c" stroke-width="2.2"/>
<polygon points="94.0,649.1 102.7,644.9 101.5,649.1 102.7,653.3" fill="#f0646c"/>
<line x1="236.6" y1="674.8" x2="277.5" y2="674.8" stroke="#5b6cf6" stroke-width="2.2"/>
<polygon points="285.2,674.8 276.5,670.6 277.7,674.8 276.5,679.0" fill="#5b6cf6"/>
<line x1="176.3" y1="692.0" x2="182.5" y2="678.0" stroke="#8f14ff" stroke-width="3.4"/>
<polygon points="191.7,657.0 172.0,673.6 193.0,682.4" fill="#8f14ff"/>
<text x="147.5" y="703.0" font-size="27" fill="#8f14ff">P<tspan font-size="19" dy="7.4">0</tspan></text>
<line x1="451.2" y1="643.7" x2="417.9" y2="643.7" stroke="#f0646c" stroke-width="2.2"/>
<polygon points="410.2,643.7 418.9,639.5 417.7,643.7 418.9,647.9" fill="#f0646c"/>
<line x1="561.7" y1="563.5" x2="594.3" y2="563.5" stroke="#5b6cf6" stroke-width="2.2"/>
<polygon points="602.0,563.5 593.3,559.3 594.5,563.5 593.3,567.7" fill="#5b6cf6"/>
<line x1="455.8" y1="574.4" x2="455.8" y2="589.6" stroke="#ff1a0a" stroke-width="3.6"/>
<polygon points="444.2,588.6 467.40000000000003,588.6 455.8,611.5" fill="#ff1a0a"/>
<text x="442.3" y="556.3" font-size="27" fill="#ff1a0a">P<tspan font-size="19" dy="7.4">1</tspan></text>
<line x1="465.1" y1="691.6" x2="471.0" y2="678.2" stroke="#0b0bff" stroke-width="3.3"/>
<polygon points="479.7,657.5 460.4,674.2 481.6,682.1" fill="#0b0bff"/>
<text x="435.8" y="702.6" font-size="27" fill="#0b0bff">P<tspan font-size="19" dy="7.4">2</tspan></text>
<line x1="540.1" y1="691.6" x2="546.3" y2="678.2" stroke="#44ff1a" stroke-width="3.3"/>
<polygon points="555.6,657.5 535.9,674.2 556.8,682.1" fill="#44ff1a"/>
<text x="510.8" y="702.6" font-size="27" fill="#44ff1a">P<tspan font-size="19" dy="7.4">3</tspan></text>
<text x="212.2" y="946.8" font-size="27" fill="#8f14ff">P<tspan font-size="19" dy="7.4">0</tspan></text>
<text x="458.4" y="946.5" font-size="27" fill="#44ff1a">P<tspan font-size="19" dy="7.4">3</tspan></text>
<text x="508.8" y="946.5" font-size="27" fill="#0b0bff">P<tspan font-size="19" dy="7.4">2</tspan></text>
<text x="571.1" y="946.5" font-size="27" fill="#ff1a0a">P<tspan font-size="19" dy="7.4">1</tspan></text>
<g stroke="#1a1a1a" stroke-width="1.6" fill="none" stroke-linecap="square">
<line x1="82.2" y1="34.3" x2="82.2" y2="433.5"/>
<line x1="348.1" y1="34.3" x2="348.1" y2="433.5"/>
<line x1="82.2" y1="34.3" x2="348.1" y2="34.3"/>
<line x1="82.2" y1="433.5" x2="348.1" y2="433.5"/>
<line x1="82.2" y1="234.0" x2="348.1" y2="234.0"/>
<line x1="399.3" y1="34.3" x2="399.3" y2="433.5"/>
<line x1="665.1" y1="34.3" x2="665.1" y2="433.5"/>
<line x1="399.3" y1="34.3" x2="665.1" y2="34.3"/>
<line x1="399.3" y1="433.5" x2="665.1" y2="433.5"/>
<line x1="399.3" y1="234.0" x2="665.1" y2="234.0"/>
<line x1="82.1" y1="509.1" x2="82.1" y2="723.8"/>
<line x1="296.6" y1="509.1" x2="296.6" y2="723.8"/>
<line x1="82.1" y1="509.1" x2="296.6" y2="509.1"/>
<line x1="82.1" y1="723.8" x2="296.6" y2="723.8"/>
<line x1="399.2" y1="509.1" x2="399.2" y2="723.8"/>
<line x1="613.3" y1="509.1" x2="613.3" y2="723.8"/>
<line x1="399.2" y1="509.1" x2="613.3" y2="509.1"/>
<line x1="399.2" y1="723.8" x2="613.3" y2="723.8"/>
<line x1="82.2" y1="797.5" x2="82.2" y2="997.0"/>
<line x1="348.4" y1="797.5" x2="348.4" y2="997.0"/>
<line x1="82.2" y1="797.5" x2="348.4" y2="797.5"/>
<line x1="82.2" y1="997.0" x2="348.4" y2="997.0"/>
<line x1="399.3" y1="797.5" x2="399.3" y2="997.0"/>
<line x1="665.5" y1="797.5" x2="665.5" y2="997.0"/>
<line x1="399.3" y1="797.5" x2="665.5" y2="797.5"/>
<line x1="399.3" y1="997.0" x2="665.5" y2="997.0"/>
</g>
<g stroke="#1a1a1a" stroke-width="1.4" fill="none">
<line x1="82.2" y1="234" x2="82.2" y2="228.2"/>
<line x1="82.2" y1="34.3" x2="82.2" y2="40.1"/>
<line x1="215.15" y1="234" x2="215.15" y2="228.2"/>
<line x1="215.15" y1="34.3" x2="215.15" y2="40.1"/>
<line x1="348.1" y1="234" x2="348.1" y2="228.2"/>
<line x1="348.1" y1="34.3" x2="348.1" y2="40.1"/>
<line x1="148.68" y1="234" x2="148.68" y2="231.1"/>
<line x1="148.68" y1="34.3" x2="148.68" y2="37.2"/>
<line x1="281.63" y1="234" x2="281.63" y2="231.1"/>
<line x1="281.63" y1="34.3" x2="281.63" y2="37.2"/>
<line x1="82.2" y1="433.5" x2="82.2" y2="427.7"/>
<line x1="82.2" y1="234" x2="82.2" y2="239.8"/>
<line x1="215.15" y1="433.5" x2="215.15" y2="427.7"/>
<line x1="215.15" y1="234" x2="215.15" y2="239.8"/>
<line x1="348.1" y1="433.5" x2="348.1" y2="427.7"/>
<line x1="348.1" y1="234" x2="348.1" y2="239.8"/>
<line x1="148.68" y1="433.5" x2="148.68" y2="430.6"/>
<line x1="148.68" y1="234" x2="148.68" y2="236.9"/>
<line x1="281.63" y1="433.5" x2="281.63" y2="430.6"/>
<line x1="281.63" y1="234" x2="281.63" y2="236.9"/>
<line x1="82.2" y1="200.72" x2="88" y2="200.72"/>
<line x1="348.1" y1="200.72" x2="342.3" y2="200.72"/>
<line x1="82.2" y1="117.51" x2="88" y2="117.51"/>
<line x1="348.1" y1="117.51" x2="342.3" y2="117.51"/>
<line x1="82.2" y1="34.3" x2="88" y2="34.3"/>
<line x1="348.1" y1="34.3" x2="342.3" y2="34.3"/>
<line x1="82.2" y1="159.11" x2="85.1" y2="159.11"/>
<line x1="348.1" y1="159.11" x2="345.2" y2="159.11"/>
<line x1="82.2" y1="75.9" x2="85.1" y2="75.9"/>
<line x1="348.1" y1="75.9" x2="345.2" y2="75.9"/>
<line x1="82.2" y1="433.5" x2="88" y2="433.5"/>
<line x1="348.1" y1="433.5" x2="342.3" y2="433.5"/>
<line x1="82.2" y1="389.17" x2="88" y2="389.17"/>
<line x1="348.1" y1="389.17" x2="342.3" y2="389.17"/>
<line x1="82.2" y1="344.83" x2="88" y2="344.83"/>
<line x1="348.1" y1="344.83" x2="342.3" y2="344.83"/>
<line x1="82.2" y1="300.5" x2="88" y2="300.5"/>
<line x1="348.1" y1="300.5" x2="342.3" y2="300.5"/>
<line x1="82.2" y1="256.17" x2="88" y2="256.17"/>
<line x1="348.1" y1="256.17" x2="342.3" y2="256.17"/>
<line x1="82.2" y1="411.33" x2="85.1" y2="411.33"/>
<line x1="348.1" y1="411.33" x2="345.2" y2="411.33"/>
<line x1="82.2" y1="367" x2="85.1" y2="367"/>
<line x1="348.1" y1="367" x2="345.2" y2="367"/>
<line x1="82.2" y1="322.67" x2="85.1" y2="322.67"/>
<line x1="348.1" y1="322.67" x2="345.2" y2="322.67"/>
<line x1="82.2" y1="278.33" x2="85.1" y2="278.33"/>
<line x1="348.1" y1="278.33" x2="345.2" y2="278.33"/>
<line x1="399.3" y1="234" x2="399.3" y2="228.2"/>
<line x1="399.3" y1="34.3" x2="399.3" y2="40.1"/>
<line x1="487.9" y1="234" x2="487.9" y2="228.2"/>
<line x1="487.9" y1="34.3" x2="487.9" y2="40.1"/>
<line x1="576.5" y1="234" x2="576.5" y2="228.2"/>
<line x1="576.5" y1="34.3" x2="576.5" y2="40.1"/>
<line x1="665.1" y1="234" x2="665.1" y2="228.2"/>
<line x1="665.1" y1="34.3" x2="665.1" y2="40.1"/>
<line x1="443.6" y1="234" x2="443.6" y2="231.1"/>
<line x1="443.6" y1="34.3" x2="443.6" y2="37.2"/>
<line x1="532.2" y1="234" x2="532.2" y2="231.1"/>
<line x1="532.2" y1="34.3" x2="532.2" y2="37.2"/>
<line x1="620.8" y1="234" x2="620.8" y2="231.1"/>
<line x1="620.8" y1="34.3" x2="620.8" y2="37.2"/>
<line x1="399.3" y1="433.5" x2="399.3" y2="427.7"/>
<line x1="399.3" y1="234" x2="399.3" y2="239.8"/>
<line x1="487.9" y1="433.5" x2="487.9" y2="427.7"/>
<line x1="487.9" y1="234" x2="487.9" y2="239.8"/>
<line x1="576.5" y1="433.5" x2="576.5" y2="427.7"/>
<line x1="576.5" y1="234" x2="576.5" y2="239.8"/>
<line x1="665.1" y1="433.5" x2="665.1" y2="427.7"/>
<line x1="665.1" y1="234" x2="665.1" y2="239.8"/>
<line x1="443.6" y1="433.5" x2="443.6" y2="430.6"/>
<line x1="443.6" y1="234" x2="443.6" y2="236.9"/>
<line x1="532.2" y1="433.5" x2="532.2" y2="430.6"/>
<line x1="532.2" y1="234" x2="532.2" y2="236.9"/>
<line x1="620.8" y1="433.5" x2="620.8" y2="430.6"/>
<line x1="620.8" y1="234" x2="620.8" y2="236.9"/>
<line x1="399.3" y1="200.72" x2="405.1" y2="200.72"/>
<line x1="665.1" y1="200.72" x2="659.3" y2="200.72"/>
<line x1="399.3" y1="117.51" x2="405.1" y2="117.51"/>
<line x1="665.1" y1="117.51" x2="659.3" y2="117.51"/>
<line x1="399.3" y1="34.3" x2="405.1" y2="34.3"/>
<line x1="665.1" y1="34.3" x2="659.3" y2="34.3"/>
<line x1="399.3" y1="159.11" x2="402.2" y2="159.11"/>
<line x1="665.1" y1="159.11" x2="662.2" y2="159.11"/>
<line x1="399.3" y1="75.9" x2="402.2" y2="75.9"/>
<line x1="665.1" y1="75.9" x2="662.2" y2="75.9"/>
<line x1="399.3" y1="433.5" x2="405.1" y2="433.5"/>
<line x1="665.1" y1="433.5" x2="659.3" y2="433.5"/>
<line x1="399.3" y1="389.17" x2="405.1" y2="389.17"/>
<line x1="665.1" y1="389.17" x2="659.3" y2="389.17"/>
<line x1="399.3" y1="344.83" x2="405.1" y2="344.83"/>
<line x1="665.1" y1="344.83" x2="659.3" y2="344.83"/>
<line x1="399.3" y1="300.5" x2="405.1" y2="300.5"/>
<line x1="665.1" y1="300.5" x2="659.3" y2="300.5"/>
<line x1="399.3" y1="256.17" x2="405.1" y2="256.17"/>
<line x1="665.1" y1="256.17" x2="659.3" y2="256.17"/>
<line x1="399.3" y1="411.33" x2="402.2" y2="411.33"/>
<line x1="665.1" y1="411.33" x2="662.2" y2="411.33"/>
<line x1="399.3" y1="367" x2="402.2" y2="367"/>
<line x1="665.1" y1="367" x2="662.2" y2="367"/>
<line x1="399.3" y1="322.67" x2="402.2" y2="322.67"/>
<line x1="665.1" y1="322.67" x2="662.2" y2="322.67"/>
<line x1="399.3" y1="278.33" x2="402.2" y2="278.33"/>
<line x1="665.1" y1="278.33" x2="662.2" y2="278.33"/>
<line x1="82.1" y1="723.8" x2="82.1" y2="718"/>
<line x1="82.1" y1="509.1" x2="82.1" y2="514.9"/>
<line x1="167.9" y1="723.8" x2="167.9" y2="718"/>
<line x1="167.9" y1="509.1" x2="167.9" y2="514.9"/>
<line x1="253.7" y1="723.8" x2="253.7" y2="718"/>
<line x1="253.7" y1="509.1" x2="253.7" y2="514.9"/>
<line x1="125" y1="723.8" x2="125" y2="720.9"/>
<line x1="125" y1="509.1" x2="125" y2="512"/>
<line x1="210.8" y1="723.8" x2="210.8" y2="720.9"/>
<line x1="210.8" y1="509.1" x2="210.8" y2="512"/>
<line x1="296.6" y1="723.8" x2="296.6" y2="720.9"/>
<line x1="296.6" y1="509.1" x2="296.6" y2="512"/>
<line x1="82.1" y1="702.33" x2="87.9" y2="702.33"/>
<line x1="82.1" y1="659.39" x2="87.9" y2="659.39"/>
<line x1="82.1" y1="616.45" x2="87.9" y2="616.45"/>
<line x1="82.1" y1="573.51" x2="87.9" y2="573.51"/>
<line x1="82.1" y1="530.57" x2="87.9" y2="530.57"/>
<line x1="82.1" y1="680.86" x2="85" y2="680.86"/>
<line x1="82.1" y1="637.92" x2="85" y2="637.92"/>
<line x1="82.1" y1="594.98" x2="85" y2="594.98"/>
<line x1="82.1" y1="552.04" x2="85" y2="552.04"/>
<line x1="296.6" y1="723.8" x2="290.8" y2="723.8"/>
<line x1="296.6" y1="628.38" x2="290.8" y2="628.38"/>
<line x1="296.6" y1="532.96" x2="290.8" y2="532.96"/>
<line x1="296.6" y1="676.09" x2="293.7" y2="676.09"/>
<line x1="296.6" y1="580.67" x2="293.7" y2="580.67"/>
<line x1="399.2" y1="723.8" x2="399.2" y2="718"/>
<line x1="399.2" y1="509.1" x2="399.2" y2="514.9"/>
<line x1="506.25" y1="723.8" x2="506.25" y2="718"/>
<line x1="506.25" y1="509.1" x2="506.25" y2="514.9"/>
<line x1="613.3" y1="723.8" x2="613.3" y2="718"/>
<line x1="613.3" y1="509.1" x2="613.3" y2="514.9"/>
<line x1="452.72" y1="723.8" x2="452.72" y2="720.9"/>
<line x1="452.72" y1="509.1" x2="452.72" y2="512"/>
<line x1="559.77" y1="723.8" x2="559.77" y2="720.9"/>
<line x1="559.77" y1="509.1" x2="559.77" y2="512"/>
<line x1="399.2" y1="702.33" x2="405" y2="702.33"/>
<line x1="399.2" y1="659.39" x2="405" y2="659.39"/>
<line x1="399.2" y1="616.45" x2="405" y2="616.45"/>
<line x1="399.2" y1="573.51" x2="405" y2="573.51"/>
<line x1="399.2" y1="530.57" x2="405" y2="530.57"/>
<line x1="399.2" y1="680.86" x2="402.1" y2="680.86"/>
<line x1="399.2" y1="637.92" x2="402.1" y2="637.92"/>
<line x1="399.2" y1="594.98" x2="402.1" y2="594.98"/>
<line x1="399.2" y1="552.04" x2="402.1" y2="552.04"/>
<line x1="613.3" y1="723.8" x2="607.5" y2="723.8"/>
<line x1="613.3" y1="634.34" x2="607.5" y2="634.34"/>
<line x1="613.3" y1="544.88" x2="607.5" y2="544.88"/>
<line x1="613.3" y1="679.07" x2="610.4" y2="679.07"/>
<line x1="613.3" y1="589.61" x2="610.4" y2="589.61"/>
<line x1="82.2" y1="997" x2="82.2" y2="991.2"/>
<line x1="82.2" y1="797.5" x2="82.2" y2="803.3"/>
<line x1="188.68" y1="997" x2="188.68" y2="991.2"/>
<line x1="188.68" y1="797.5" x2="188.68" y2="803.3"/>
<line x1="295.16" y1="997" x2="295.16" y2="991.2"/>
<line x1="295.16" y1="797.5" x2="295.16" y2="803.3"/>
<line x1="135.44" y1="997" x2="135.44" y2="994.1"/>
<line x1="135.44" y1="797.5" x2="135.44" y2="800.4"/>
<line x1="241.92" y1="997" x2="241.92" y2="994.1"/>
<line x1="241.92" y1="797.5" x2="241.92" y2="800.4"/>
<line x1="348.4" y1="997" x2="348.4" y2="994.1"/>
<line x1="348.4" y1="797.5" x2="348.4" y2="800.4"/>
<line x1="82.2" y1="955" x2="88" y2="955"/>
<line x1="348.4" y1="955" x2="342.6" y2="955"/>
<line x1="82.2" y1="902.5" x2="88" y2="902.5"/>
<line x1="348.4" y1="902.5" x2="342.6" y2="902.5"/>
<line x1="82.2" y1="850" x2="88" y2="850"/>
<line x1="348.4" y1="850" x2="342.6" y2="850"/>
<line x1="82.2" y1="797.5" x2="88" y2="797.5"/>
<line x1="348.4" y1="797.5" x2="342.6" y2="797.5"/>
<line x1="82.2" y1="981.25" x2="85.1" y2="981.25"/>
<line x1="348.4" y1="981.25" x2="345.5" y2="981.25"/>
<line x1="82.2" y1="928.75" x2="85.1" y2="928.75"/>
<line x1="348.4" y1="928.75" x2="345.5" y2="928.75"/>
<line x1="82.2" y1="876.25" x2="85.1" y2="876.25"/>
<line x1="348.4" y1="876.25" x2="345.5" y2="876.25"/>
<line x1="82.2" y1="823.75" x2="85.1" y2="823.75"/>
<line x1="348.4" y1="823.75" x2="345.5" y2="823.75"/>
<line x1="399.3" y1="997" x2="399.3" y2="991.2"/>
<line x1="399.3" y1="797.5" x2="399.3" y2="803.3"/>
<line x1="505.78" y1="997" x2="505.78" y2="991.2"/>
<line x1="505.78" y1="797.5" x2="505.78" y2="803.3"/>
<line x1="612.26" y1="997" x2="612.26" y2="991.2"/>
<line x1="612.26" y1="797.5" x2="612.26" y2="803.3"/>
<line x1="452.54" y1="997" x2="452.54" y2="994.1"/>
<line x1="452.54" y1="797.5" x2="452.54" y2="800.4"/>
<line x1="559.02" y1="997" x2="559.02" y2="994.1"/>
<line x1="559.02" y1="797.5" x2="559.02" y2="800.4"/>
<line x1="665.5" y1="997" x2="665.5" y2="994.1"/>
<line x1="665.5" y1="797.5" x2="665.5" y2="800.4"/>
<line x1="399.3" y1="955" x2="405.1" y2="955"/>
<line x1="665.5" y1="955" x2="659.7" y2="955"/>
<line x1="399.3" y1="902.5" x2="405.1" y2="902.5"/>
<line x1="665.5" y1="902.5" x2="659.7" y2="902.5"/>
<line x1="399.3" y1="850" x2="405.1" y2="850"/>
<line x1="665.5" y1="850" x2="659.7" y2="850"/>
<line x1="399.3" y1="797.5" x2="405.1" y2="797.5"/>
<line x1="665.5" y1="797.5" x2="659.7" y2="797.5"/>
<line x1="399.3" y1="981.25" x2="402.2" y2="981.25"/>
<line x1="665.5" y1="981.25" x2="662.6" y2="981.25"/>
<line x1="399.3" y1="928.75" x2="402.2" y2="928.75"/>
<line x1="665.5" y1="928.75" x2="662.6" y2="928.75"/>
<line x1="399.3" y1="876.25" x2="402.2" y2="876.25"/>
<line x1="665.5" y1="876.25" x2="662.6" y2="876.25"/>
<line x1="399.3" y1="823.75" x2="402.2" y2="823.75"/>
<line x1="665.5" y1="823.75" x2="662.6" y2="823.75"/>
</g>
<rect x="91" y="131" width="116.6" height="209" fill="#fff" fill-opacity="0.78"/>
<line x1="93.8" y1="145.5" x2="111.2" y2="145.5" stroke="#3d0a5c" stroke-width="3.2" stroke-linecap="round"/>
<text x="118.1" y="154.5" font-size="27">1 kHz</text>
<line x1="93.8" y1="175.0" x2="111.2" y2="175.0" stroke="#0b0bff" stroke-width="3.2" stroke-linecap="round"/>
<text x="118.1" y="184.0" font-size="27">2 kHz</text>
<line x1="93.8" y1="204.5" x2="111.2" y2="204.5" stroke="#3b87b6" stroke-width="3.2" stroke-linecap="round"/>
<text x="118.1" y="213.5" font-size="27">5 kHz</text>
<line x1="93.8" y1="234.0" x2="111.2" y2="234.0" stroke="#33ff14" stroke-width="3.2" stroke-linecap="round"/>
<text x="118.1" y="243.0" font-size="27">10 kHz</text>
<line x1="93.8" y1="263.5" x2="111.2" y2="263.5" stroke="#a8892a" stroke-width="3.2" stroke-linecap="round"/>
<text x="118.1" y="272.5" font-size="27">20 kHz</text>
<line x1="93.8" y1="293.0" x2="111.2" y2="293.0" stroke="#ff1a0a" stroke-width="3.2" stroke-linecap="round"/>
<text x="118.1" y="302.0" font-size="27">50 kHz</text>
<line x1="93.8" y1="322.5" x2="111.2" y2="322.5" stroke="#7c0a0a" stroke-width="3.2" stroke-linecap="round"/>
<text x="118.1" y="331.5" font-size="27">100 kHz</text>
<circle cx="272.7" cy="826.8" r="4.0" fill="#000"/>
<path d="M272.70,857.20 L274.43,861.82 L279.36,862.04 L275.50,865.11 L276.81,869.86 L272.70,867.14 L268.59,869.86 L269.90,865.11 L266.04,862.04 L270.97,861.82Z" fill="#000"/>
<text x="289.0" y="835" font-size="27">&#949;"<tspan font-size="19" dy="6.5">r</tspan></text>
<text x="289.8" y="870.6" font-size="27">I<tspan font-size="18.2" dy="6.5">pyro</tspan></text>
<circle cx="589.6" cy="826.8" r="4.0" fill="#000"/>
<path d="M589.60,857.20 L591.33,861.82 L596.26,862.04 L592.40,865.11 L593.71,869.86 L589.60,867.14 L585.49,869.86 L586.80,865.11 L582.94,862.04 L587.87,861.82Z" fill="#000"/>
<text x="605.9" y="835" font-size="27">&#949;"<tspan font-size="19" dy="6.5">r</tspan></text>
<text x="606.7" y="870.6" font-size="27">I<tspan font-size="18.2" dy="6.5">pyro</tspan></text>
<text x="75.9" y="209.32" font-size="27" text-anchor="end" font-weight="normal" fill="#000" >55</text>
<text x="75.9" y="126.11" font-size="27" text-anchor="end" font-weight="normal" fill="#000" >60</text>
<text x="75.9" y="42.9" font-size="27" text-anchor="end" font-weight="normal" fill="#000" >65</text>
<text x="75.9" y="442.1" font-size="27" text-anchor="end" font-weight="normal" fill="#000" >0</text>
<text x="75.9" y="397.77" font-size="27" text-anchor="end" font-weight="normal" fill="#000" >0.1</text>
<text x="75.9" y="353.43" font-size="27" text-anchor="end" font-weight="normal" fill="#000" >0.2</text>
<text x="75.9" y="309.1" font-size="27" text-anchor="end" font-weight="normal" fill="#000" >0.3</text>
<text x="75.9" y="264.77" font-size="27" text-anchor="end" font-weight="normal" fill="#000" >0.4</text>
<text x="393" y="209.32" font-size="27" text-anchor="end" font-weight="normal" fill="#000" >45</text>
<text x="393" y="126.11" font-size="27" text-anchor="end" font-weight="normal" fill="#000" >50</text>
<text x="393" y="42.9" font-size="27" text-anchor="end" font-weight="normal" fill="#000" >55</text>
<text x="393" y="442.1" font-size="27" text-anchor="end" font-weight="normal" fill="#000" >0</text>
<text x="393" y="397.77" font-size="27" text-anchor="end" font-weight="normal" fill="#000" >0.1</text>
<text x="393" y="353.43" font-size="27" text-anchor="end" font-weight="normal" fill="#000" >0.2</text>
<text x="393" y="309.1" font-size="27" text-anchor="end" font-weight="normal" fill="#000" >0.3</text>
<text x="393" y="264.77" font-size="27" text-anchor="end" font-weight="normal" fill="#000" >0.4</text>
<text x="82.2" y="461" font-size="27" text-anchor="middle" font-weight="normal" fill="#000" >0</text>
<text x="215.15" y="461" font-size="27" text-anchor="middle" font-weight="normal" fill="#000" >100</text>
<text x="348.1" y="461" font-size="27" text-anchor="middle" font-weight="normal" fill="#000" >200</text>
<text x="399.3" y="461" font-size="27" text-anchor="middle" font-weight="normal" fill="#000" >0</text>
<text x="487.9" y="461" font-size="27" text-anchor="middle" font-weight="normal" fill="#000" >100</text>
<text x="576.5" y="461" font-size="27" text-anchor="middle" font-weight="normal" fill="#000" >200</text>
<text x="665.1" y="461" font-size="27" text-anchor="middle" font-weight="normal" fill="#000" >300</text>
<text x="75.8" y="710.93" font-size="27" text-anchor="end" font-weight="normal" fill="#000" >-0.4</text>
<text x="75.8" y="667.99" font-size="27" text-anchor="end" font-weight="normal" fill="#000" >-0.2</text>
<text x="75.8" y="625.05" font-size="27" text-anchor="end" font-weight="normal" fill="#000" >0</text>
<text x="75.8" y="582.11" font-size="27" text-anchor="end" font-weight="normal" fill="#000" >0.2</text>
<text x="75.8" y="539.17" font-size="27" text-anchor="end" font-weight="normal" fill="#000" >0.4</text>
<text x="302.9" y="732.4" font-size="27" text-anchor="start" font-weight="normal" fill="#000" >0</text>
<text x="302.9" y="636.98" font-size="27" text-anchor="start" font-weight="normal" fill="#000" >2</text>
<text x="302.9" y="541.56" font-size="27" text-anchor="start" font-weight="normal" fill="#000" >4</text>
<text x="82.1" y="751.3" font-size="27" text-anchor="middle" font-weight="normal" fill="#000" >0</text>
<text x="167.9" y="751.3" font-size="27" text-anchor="middle" font-weight="normal" fill="#000" >50</text>
<text x="253.7" y="751.3" font-size="27" text-anchor="middle" font-weight="normal" fill="#000" >100</text>
<text x="392.9" y="710.93" font-size="27" text-anchor="end" font-weight="normal" fill="#000" >-0.4</text>
<text x="392.9" y="667.99" font-size="27" text-anchor="end" font-weight="normal" fill="#000" >-0.2</text>
<text x="392.9" y="625.05" font-size="27" text-anchor="end" font-weight="normal" fill="#000" >0</text>
<text x="392.9" y="582.11" font-size="27" text-anchor="end" font-weight="normal" fill="#000" >0.2</text>
<text x="392.9" y="539.17" font-size="27" text-anchor="end" font-weight="normal" fill="#000" >0.4</text>
<text x="619.6" y="732.4" font-size="27" text-anchor="start" font-weight="normal" fill="#000" >0</text>
<text x="619.6" y="642.94" font-size="27" text-anchor="start" font-weight="normal" fill="#000" >5</text>
<text x="619.6" y="553.48" font-size="27" text-anchor="start" font-weight="normal" fill="#000" >10</text>
<text x="399.2" y="751.3" font-size="27" text-anchor="middle" font-weight="normal" fill="#000" >0</text>
<text x="506.25" y="751.3" font-size="27" text-anchor="middle" font-weight="normal" fill="#000" >100</text>
<text x="613.3" y="751.3" font-size="27" text-anchor="middle" font-weight="normal" fill="#000" >200</text>
<text x="75.9" y="963.6" font-size="27" text-anchor="end" font-weight="normal" fill="#000" >0</text>
<text x="75.9" y="911.1" font-size="27" text-anchor="end" font-weight="normal" fill="#000" >5</text>
<text x="75.9" y="858.6" font-size="27" text-anchor="end" font-weight="normal" fill="#000" >10</text>
<text x="75.9" y="806.1" font-size="27" text-anchor="end" font-weight="normal" fill="#000" >15</text>
<text x="393" y="963.6" font-size="27" text-anchor="end" font-weight="normal" fill="#000" >0</text>
<text x="393" y="911.1" font-size="27" text-anchor="end" font-weight="normal" fill="#000" >5</text>
<text x="393" y="858.6" font-size="27" text-anchor="end" font-weight="normal" fill="#000" >10</text>
<text x="393" y="806.1" font-size="27" text-anchor="end" font-weight="normal" fill="#000" >15</text>
<text x="82.2" y="1024.5" font-size="27" text-anchor="middle" font-weight="normal" fill="#000" >0</text>
<text x="188.68" y="1024.5" font-size="27" text-anchor="middle" font-weight="normal" fill="#000" >0.01</text>
<text x="295.16" y="1024.5" font-size="27" text-anchor="middle" font-weight="normal" fill="#000" >0.02</text>
<text x="399.3" y="1024.5" font-size="27" text-anchor="middle" font-weight="normal" fill="#000" >0</text>
<text x="505.78" y="1024.5" font-size="27" text-anchor="middle" font-weight="normal" fill="#000" >0.01</text>
<text x="612.26" y="1024.5" font-size="27" text-anchor="middle" font-weight="normal" fill="#000" >0.02</text>
<text x="215.2" y="20" font-size="28" font-weight="bold" text-anchor="middle">Tb<tspan font-size="19" dy="7">2</tspan><tspan font-size="28" dy="-7">Ti</tspan><tspan font-size="19" dy="7">2</tspan><tspan font-size="28" dy="-7">O</tspan><tspan font-size="19" dy="7">7</tspan><tspan font-size="28" dy="-7"> - C1</tspan></text>
<text x="533.6" y="20" font-size="28" font-weight="bold" text-anchor="middle">Ho<tspan font-size="19" dy="7">2</tspan><tspan font-size="28" dy="-7">Ti</tspan><tspan font-size="19" dy="7">2</tspan><tspan font-size="28" dy="-7">O</tspan><tspan font-size="19" dy="7">7</tspan><tspan font-size="28" dy="-7"></tspan></text>
<text x="335.6" y="61.5" font-size="27" text-anchor="end" font-weight="bold" fill="#000" >(a)</text>
<text x="652.6" y="61.5" font-size="27" text-anchor="end" font-weight="bold" fill="#000" >(b)</text>
<text x="284.1" y="536.1" font-size="27" text-anchor="end" font-weight="bold" fill="#000" >(c)</text>
<text x="597.5" y="536.1" font-size="27" text-anchor="end" font-weight="bold" fill="#000" >(d)</text>
<text x="335.9" y="978.8" font-size="27" text-anchor="end" font-weight="bold" fill="#000" >(e)</text>
<text x="653" y="978.8" font-size="27" text-anchor="end" font-weight="bold" fill="#000" >(f)</text>
<text x="215.15" y="490" font-size="27" text-anchor="middle" font-weight="normal" fill="#000" >T (K)</text>
<text x="532.2" y="490" font-size="27" text-anchor="middle" font-weight="normal" fill="#000" >T (K)</text>
<text x="189.35" y="780.2" font-size="27" text-anchor="middle" font-weight="normal" fill="#000" >T (K)</text>
<text x="506.25" y="780.2" font-size="27" text-anchor="middle" font-weight="normal" fill="#000" >T (K)</text>
<text x="215.3" y="1055.2" font-size="27" text-anchor="middle">1/T (K<tspan font-size="18" dy="-11">-1</tspan><tspan dy="11">)</tspan></text>
<text x="532.4" y="1055.2" font-size="27" text-anchor="middle">1/T (K<tspan font-size="18" dy="-11">-1</tspan><tspan dy="11">)</tspan></text>
<text transform="translate(24.9,134.1) rotate(-90)" font-size="27" text-anchor="middle">&#949;'<tspan font-size="19" dy="7">r</tspan><tspan font-size="19" dy="-19">[111]</tspan></text>
<text transform="translate(24.5,333.7) rotate(-90)" font-size="27" text-anchor="middle">&#949;"<tspan font-size="19" dy="7">r</tspan><tspan font-size="19" dy="-19">[111]</tspan></text>
<text transform="translate(18.8,616.3) rotate(-90)" font-size="27" text-anchor="middle">I<tspan font-size="18.5" dy="6">pyro</tspan><tspan dy="-6"> (pA)</tspan></text>
<text transform="translate(35,897) rotate(-90)" font-size="27" text-anchor="middle">ln(<tspan dx="1.5">f</tspan><tspan dx="1.5">)</tspan></text>
<text transform="translate(679,618.6) rotate(-90)" font-size="27" text-anchor="middle">&#916;P (&#956;C&#183;m<tspan font-size="18" dy="-11">2</tspan><tspan dy="11">)</tspan></text>
</svg>
</body></html>
